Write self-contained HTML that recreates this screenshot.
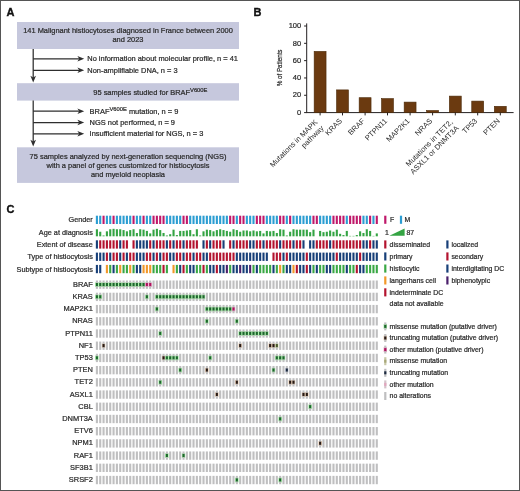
<!DOCTYPE html>
<html><head><meta charset="utf-8"><style>
html,body{margin:0;padding:0;background:#fff;}
body{width:520px;height:491px;overflow:hidden;position:relative;}
svg{position:absolute;left:0;top:0;font-family:"Liberation Sans", sans-serif;will-change:transform;}
</style></head><body>
<svg width="520" height="491" viewBox="0 0 520 491">
<rect x="0" y="0" width="520" height="491" fill="#fff"/>
<text x="6.60" y="15.80" font-size="11" text-anchor="start" font-weight="bold" fill="#111" stroke="#111" stroke-width="0.35" >A</text>
<text x="253.60" y="15.80" font-size="11" text-anchor="start" font-weight="bold" fill="#111" stroke="#111" stroke-width="0.35" >B</text>
<text x="6.60" y="212.90" font-size="11" text-anchor="start" font-weight="bold" fill="#111" stroke="#111" stroke-width="0.35" >C</text>
<rect x="17.00" y="22.00" width="222.00" height="27.00" fill="#c6c8dd" />
<text x="128.00" y="32.70" font-size="7.45" text-anchor="middle" font-weight="normal" fill="#2b2b2b" stroke="#2b2b2b" stroke-width="0.22" >141 Malignant histiocytoses diagnosed in France between 2000</text>
<text x="128.00" y="42.10" font-size="7.45" text-anchor="middle" font-weight="normal" fill="#2b2b2b" stroke="#2b2b2b" stroke-width="0.22" >and 2023</text>
<rect x="17.00" y="83.20" width="222.00" height="17.40" fill="#c6c8dd" />
<text x="93.30" y="95.20" font-size="7.45" text-anchor="start" font-weight="normal" fill="#2b2b2b" stroke="#2b2b2b" stroke-width="0.22" >95 samples studied for BRAF<tspan font-size="5.8" dy="-3.0">V600E</tspan></text>
<rect x="17.00" y="147.30" width="222.00" height="35.60" fill="#c6c8dd" />
<text x="128.00" y="158.80" font-size="7.45" text-anchor="middle" font-weight="normal" fill="#2b2b2b" stroke="#2b2b2b" stroke-width="0.22" >75 samples analyzed by next-generation sequencing (NGS)</text>
<text x="128.00" y="167.80" font-size="7.45" text-anchor="middle" font-weight="normal" fill="#2b2b2b" stroke="#2b2b2b" stroke-width="0.22" >with a panel of genes customized for histiocytosis</text>
<text x="128.00" y="176.90" font-size="7.45" text-anchor="middle" font-weight="normal" fill="#2b2b2b" stroke="#2b2b2b" stroke-width="0.22" >and myeloid neoplasia</text>
<line x1="33.2" y1="49" x2="33.2" y2="79.6" stroke="#2e2e2e" stroke-width="1.25"/>
<path d="M33.2,82.6 L30.400000000000002,75.8 L33.2,77.6 L36.0,75.8 Z" fill="#2e2e2e"/>
<line x1="33.2" y1="58.75" x2="81.2" y2="58.75" stroke="#2e2e2e" stroke-width="1.25"/>
<path d="M84.2,58.75 L77.4,55.95 L79.2,58.75 L77.4,61.55 Z" fill="#2e2e2e"/>
<line x1="33.2" y1="70.3" x2="81.2" y2="70.3" stroke="#2e2e2e" stroke-width="1.25"/>
<path d="M84.2,70.3 L77.4,67.5 L79.2,70.3 L77.4,73.1 Z" fill="#2e2e2e"/>
<text x="87.30" y="61.30" font-size="7.45" text-anchor="start" font-weight="normal" fill="#2b2b2b" stroke="#2b2b2b" stroke-width="0.22" >No information about molecular profile, n = 41</text>
<text x="87.30" y="72.70" font-size="7.45" text-anchor="start" font-weight="normal" fill="#2b2b2b" stroke="#2b2b2b" stroke-width="0.22" >Non-amplifiable DNA, n = 3</text>
<line x1="33.2" y1="100.6" x2="33.2" y2="143.6" stroke="#2e2e2e" stroke-width="1.25"/>
<path d="M33.2,146.6 L30.400000000000002,139.79999999999998 L33.2,141.6 L36.0,139.79999999999998 Z" fill="#2e2e2e"/>
<line x1="33.2" y1="111.2" x2="81.2" y2="111.2" stroke="#2e2e2e" stroke-width="1.25"/>
<path d="M84.2,111.2 L77.4,108.4 L79.2,111.2 L77.4,114.0 Z" fill="#2e2e2e"/>
<line x1="33.2" y1="122.5" x2="81.2" y2="122.5" stroke="#2e2e2e" stroke-width="1.25"/>
<path d="M84.2,122.5 L77.4,119.7 L79.2,122.5 L77.4,125.3 Z" fill="#2e2e2e"/>
<line x1="33.2" y1="133.8" x2="81.2" y2="133.8" stroke="#2e2e2e" stroke-width="1.25"/>
<path d="M84.2,133.8 L77.4,131.0 L79.2,133.8 L77.4,136.60000000000002 Z" fill="#2e2e2e"/>
<text x="89.60" y="113.80" font-size="7.45" text-anchor="start" font-weight="normal" fill="#2b2b2b" stroke="#2b2b2b" stroke-width="0.22" >BRAF<tspan font-size="5.8" dy="-3.0">V600E</tspan><tspan dy="3.0"> mutation, n = 9</tspan></text>
<text x="89.60" y="125.00" font-size="7.45" text-anchor="start" font-weight="normal" fill="#2b2b2b" stroke="#2b2b2b" stroke-width="0.22" >NGS not performed, n = 9</text>
<text x="89.60" y="136.20" font-size="7.45" text-anchor="start" font-weight="normal" fill="#2b2b2b" stroke="#2b2b2b" stroke-width="0.22" >Insufficient material for NGS, n = 3</text>
<line x1="306.7" y1="23.4" x2="306.7" y2="112.6" stroke="#231f20" stroke-width="1"/>
<line x1="306.2" y1="112.6" x2="513.6" y2="112.6" stroke="#231f20" stroke-width="1"/>
<line x1="304.09999999999997" y1="112.60" x2="306.7" y2="112.60" stroke="#231f20" stroke-width="1"/>
<text x="301.20" y="114.80" font-size="7.5" text-anchor="end" font-weight="normal" fill="#2b2b2b" stroke="#2b2b2b" stroke-width="0.22" >0</text>
<line x1="304.09999999999997" y1="95.28" x2="306.7" y2="95.28" stroke="#231f20" stroke-width="1"/>
<text x="301.20" y="97.48" font-size="7.5" text-anchor="end" font-weight="normal" fill="#2b2b2b" stroke="#2b2b2b" stroke-width="0.22" >20</text>
<line x1="304.09999999999997" y1="77.96" x2="306.7" y2="77.96" stroke="#231f20" stroke-width="1"/>
<text x="301.20" y="80.16" font-size="7.5" text-anchor="end" font-weight="normal" fill="#2b2b2b" stroke="#2b2b2b" stroke-width="0.22" >40</text>
<line x1="304.09999999999997" y1="60.64" x2="306.7" y2="60.64" stroke="#231f20" stroke-width="1"/>
<text x="301.20" y="62.84" font-size="7.5" text-anchor="end" font-weight="normal" fill="#2b2b2b" stroke="#2b2b2b" stroke-width="0.22" >60</text>
<line x1="304.09999999999997" y1="43.32" x2="306.7" y2="43.32" stroke="#231f20" stroke-width="1"/>
<text x="301.20" y="45.52" font-size="7.5" text-anchor="end" font-weight="normal" fill="#2b2b2b" stroke="#2b2b2b" stroke-width="0.22" >80</text>
<line x1="304.09999999999997" y1="26.00" x2="306.7" y2="26.00" stroke="#231f20" stroke-width="1"/>
<text x="301.20" y="28.20" font-size="7.5" text-anchor="end" font-weight="normal" fill="#2b2b2b" stroke="#2b2b2b" stroke-width="0.22" >100</text>
<text x="282.40" y="67.90" font-size="7.3" text-anchor="middle" font-weight="normal" fill="#2b2b2b" stroke="#2b2b2b" stroke-width="0.22" textLength="36.8" lengthAdjust="spacingAndGlyphs" transform="rotate(-90 282.4 67.9)">% of Patients</text>
<rect x="314.15" y="51.40" width="11.90" height="61.20" fill="#6b3a10" stroke="#4a2808" stroke-width="0.6"/>
<line x1="320.10" y1="112.6" x2="320.10" y2="115.39999999999999" stroke="#231f20" stroke-width="1"/>
<rect x="336.55" y="89.90" width="11.90" height="22.70" fill="#6b3a10" stroke="#4a2808" stroke-width="0.6"/>
<line x1="342.50" y1="112.6" x2="342.50" y2="115.39999999999999" stroke="#231f20" stroke-width="1"/>
<rect x="359.15" y="97.70" width="11.90" height="14.90" fill="#6b3a10" stroke="#4a2808" stroke-width="0.6"/>
<line x1="365.10" y1="112.6" x2="365.10" y2="115.39999999999999" stroke="#231f20" stroke-width="1"/>
<rect x="381.55" y="98.60" width="11.90" height="14.00" fill="#6b3a10" stroke="#4a2808" stroke-width="0.6"/>
<line x1="387.50" y1="112.6" x2="387.50" y2="115.39999999999999" stroke="#231f20" stroke-width="1"/>
<rect x="404.15" y="102.10" width="11.90" height="10.50" fill="#6b3a10" stroke="#4a2808" stroke-width="0.6"/>
<line x1="410.10" y1="112.6" x2="410.10" y2="115.39999999999999" stroke="#231f20" stroke-width="1"/>
<rect x="426.65" y="110.50" width="11.90" height="2.10" fill="#6b3a10" stroke="#4a2808" stroke-width="0.6"/>
<line x1="432.60" y1="112.6" x2="432.60" y2="115.39999999999999" stroke="#231f20" stroke-width="1"/>
<rect x="449.35" y="96.10" width="11.90" height="16.50" fill="#6b3a10" stroke="#4a2808" stroke-width="0.6"/>
<line x1="455.30" y1="112.6" x2="455.30" y2="115.39999999999999" stroke="#231f20" stroke-width="1"/>
<rect x="471.75" y="101.10" width="11.90" height="11.50" fill="#6b3a10" stroke="#4a2808" stroke-width="0.6"/>
<line x1="477.70" y1="112.6" x2="477.70" y2="115.39999999999999" stroke="#231f20" stroke-width="1"/>
<rect x="494.35" y="106.30" width="11.90" height="6.30" fill="#6b3a10" stroke="#4a2808" stroke-width="0.6"/>
<line x1="500.30" y1="112.6" x2="500.30" y2="115.39999999999999" stroke="#231f20" stroke-width="1"/>
<text x="319.20" y="122.10" font-size="7.5" text-anchor="end" fill="#2b2b2b" transform="rotate(-45 319.20 123.80)">Mutations in MAPK</text>
<text x="319.20" y="130.70" font-size="7.5" text-anchor="end" fill="#2b2b2b" transform="rotate(-45 319.20 123.80)">pathway</text>
<text x="340.80" y="122.20" font-size="7.5" text-anchor="end" fill="#2b2b2b" transform="rotate(-45 340.80 119.60)">KRAS</text>
<text x="363.40" y="122.20" font-size="7.5" text-anchor="end" fill="#2b2b2b" transform="rotate(-45 363.40 119.60)">BRAF</text>
<text x="385.80" y="122.20" font-size="7.5" text-anchor="end" fill="#2b2b2b" transform="rotate(-45 385.80 119.60)">PTPN11</text>
<text x="408.40" y="122.20" font-size="7.5" text-anchor="end" fill="#2b2b2b" transform="rotate(-45 408.40 119.60)">MAP2K1</text>
<text x="430.90" y="122.20" font-size="7.5" text-anchor="end" fill="#2b2b2b" transform="rotate(-45 430.90 119.60)">NRAS</text>
<text x="454.40" y="122.10" font-size="7.5" text-anchor="end" fill="#2b2b2b" transform="rotate(-45 454.40 123.80)">Mutations in TET2,</text>
<text x="454.40" y="130.70" font-size="7.5" text-anchor="end" fill="#2b2b2b" transform="rotate(-45 454.40 123.80)">ASXL1 or DNMT3A</text>
<text x="476.00" y="122.20" font-size="7.5" text-anchor="end" fill="#2b2b2b" transform="rotate(-45 476.00 119.60)">TP53</text>
<text x="498.60" y="122.20" font-size="7.5" text-anchor="end" fill="#2b2b2b" transform="rotate(-45 498.60 119.60)">PTEN</text>
<rect x="95.85" y="215.70" width="2.10" height="8.30" fill="#2b9dd2" />
<rect x="95.85" y="229.25" width="2.10" height="7.06" fill="#34a443" />
<rect x="95.85" y="240.30" width="2.10" height="8.30" fill="#173f78" />
<rect x="95.85" y="252.60" width="2.10" height="8.30" fill="#173f78" />
<rect x="95.85" y="264.90" width="2.10" height="8.30" fill="#173f78" />
<rect x="99.18" y="215.70" width="2.10" height="8.30" fill="#2b9dd2" />
<rect x="99.18" y="231.74" width="2.10" height="4.57" fill="#34a443" />
<rect x="99.18" y="240.30" width="2.10" height="8.30" fill="#b3132f" />
<rect x="99.18" y="252.60" width="2.10" height="8.30" fill="#173f78" />
<rect x="99.18" y="264.90" width="2.10" height="8.30" fill="#173f78" />
<rect x="102.51" y="215.70" width="2.10" height="8.30" fill="#bf186a" />
<rect x="102.51" y="235.47" width="2.10" height="0.83" fill="#34a443" />
<rect x="102.51" y="240.30" width="2.10" height="8.30" fill="#b3132f" />
<rect x="102.51" y="252.60" width="2.10" height="8.30" fill="#173f78" />
<rect x="105.85" y="215.70" width="2.10" height="8.30" fill="#2b9dd2" />
<rect x="105.85" y="231.32" width="2.10" height="4.98" fill="#34a443" />
<rect x="105.85" y="240.30" width="2.10" height="8.30" fill="#b3132f" />
<rect x="105.85" y="252.60" width="2.10" height="8.30" fill="#b3132f" />
<rect x="105.85" y="264.90" width="2.10" height="8.30" fill="#f2982a" />
<rect x="109.18" y="215.70" width="2.10" height="8.30" fill="#2b9dd2" />
<rect x="109.18" y="229.25" width="2.10" height="7.06" fill="#34a443" />
<rect x="109.18" y="240.30" width="2.10" height="8.30" fill="#b3132f" />
<rect x="109.18" y="252.60" width="2.10" height="8.30" fill="#173f78" />
<rect x="109.18" y="264.90" width="2.10" height="8.30" fill="#3aa845" />
<rect x="112.51" y="215.70" width="2.10" height="8.30" fill="#bf186a" />
<rect x="112.51" y="228.83" width="2.10" height="7.47" fill="#34a443" />
<rect x="112.51" y="240.30" width="2.10" height="8.30" fill="#b3132f" />
<rect x="112.51" y="252.60" width="2.10" height="8.30" fill="#b3132f" />
<rect x="112.51" y="264.90" width="2.10" height="8.30" fill="#173f78" />
<rect x="115.84" y="215.70" width="2.10" height="8.30" fill="#2b9dd2" />
<rect x="115.84" y="229.25" width="2.10" height="7.06" fill="#34a443" />
<rect x="115.84" y="240.30" width="2.10" height="8.30" fill="#b3132f" />
<rect x="115.84" y="252.60" width="2.10" height="8.30" fill="#b3132f" />
<rect x="115.84" y="264.90" width="2.10" height="8.30" fill="#3aa845" />
<rect x="119.17" y="215.70" width="2.10" height="8.30" fill="#2b9dd2" />
<rect x="119.17" y="229.25" width="2.10" height="7.06" fill="#34a443" />
<rect x="119.17" y="240.30" width="2.10" height="8.30" fill="#173f78" />
<rect x="119.17" y="252.60" width="2.10" height="8.30" fill="#173f78" />
<rect x="119.17" y="264.90" width="2.10" height="8.30" fill="#f2982a" />
<rect x="122.51" y="215.70" width="2.10" height="8.30" fill="#2b9dd2" />
<rect x="122.51" y="230.08" width="2.10" height="6.23" fill="#34a443" />
<rect x="122.51" y="240.30" width="2.10" height="8.30" fill="#b3132f" />
<rect x="122.51" y="252.60" width="2.10" height="8.30" fill="#b3132f" />
<rect x="122.51" y="264.90" width="2.10" height="8.30" fill="#3aa845" />
<rect x="125.84" y="215.70" width="2.10" height="8.30" fill="#2b9dd2" />
<rect x="125.84" y="231.32" width="2.10" height="4.98" fill="#34a443" />
<rect x="125.84" y="240.30" width="2.10" height="8.30" fill="#b3132f" />
<rect x="125.84" y="252.60" width="2.10" height="8.30" fill="#173f78" />
<rect x="125.84" y="264.90" width="2.10" height="8.30" fill="#3aa845" />
<rect x="129.17" y="215.70" width="2.10" height="8.30" fill="#2b9dd2" />
<rect x="129.17" y="230.08" width="2.10" height="6.23" fill="#34a443" />
<rect x="129.17" y="252.60" width="2.10" height="8.30" fill="#b3132f" />
<rect x="129.17" y="264.90" width="2.10" height="8.30" fill="#f2982a" />
<rect x="132.50" y="215.70" width="2.10" height="8.30" fill="#bf186a" />
<rect x="132.50" y="229.25" width="2.10" height="7.06" fill="#34a443" />
<rect x="132.50" y="240.30" width="2.10" height="8.30" fill="#b3132f" />
<rect x="132.50" y="252.60" width="2.10" height="8.30" fill="#b3132f" />
<rect x="132.50" y="264.90" width="2.10" height="8.30" fill="#3aa845" />
<rect x="135.83" y="215.70" width="2.10" height="8.30" fill="#2b9dd2" />
<rect x="135.83" y="232.98" width="2.10" height="3.32" fill="#34a443" />
<rect x="135.83" y="240.30" width="2.10" height="8.30" fill="#173f78" />
<rect x="135.83" y="252.60" width="2.10" height="8.30" fill="#173f78" />
<rect x="135.83" y="264.90" width="2.10" height="8.30" fill="#173f78" />
<rect x="139.17" y="215.70" width="2.10" height="8.30" fill="#2b9dd2" />
<rect x="139.17" y="229.25" width="2.10" height="7.06" fill="#34a443" />
<rect x="139.17" y="240.30" width="2.10" height="8.30" fill="#173f78" />
<rect x="139.17" y="252.60" width="2.10" height="8.30" fill="#173f78" />
<rect x="139.17" y="264.90" width="2.10" height="8.30" fill="#173f78" />
<rect x="142.50" y="215.70" width="2.10" height="8.30" fill="#bf186a" />
<rect x="142.50" y="229.66" width="2.10" height="6.64" fill="#34a443" />
<rect x="142.50" y="240.30" width="2.10" height="8.30" fill="#173f78" />
<rect x="142.50" y="252.60" width="2.10" height="8.30" fill="#173f78" />
<rect x="142.50" y="264.90" width="2.10" height="8.30" fill="#f2982a" />
<rect x="145.83" y="215.70" width="2.10" height="8.30" fill="#2b9dd2" />
<rect x="145.83" y="230.91" width="2.10" height="5.40" fill="#34a443" />
<rect x="145.83" y="240.30" width="2.10" height="8.30" fill="#173f78" />
<rect x="145.83" y="252.60" width="2.10" height="8.30" fill="#b3132f" />
<rect x="145.83" y="264.90" width="2.10" height="8.30" fill="#f2982a" />
<rect x="149.16" y="215.70" width="2.10" height="8.30" fill="#2b9dd2" />
<rect x="149.16" y="233.40" width="2.10" height="2.91" fill="#34a443" />
<rect x="149.16" y="240.30" width="2.10" height="8.30" fill="#b3132f" />
<rect x="149.16" y="252.60" width="2.10" height="8.30" fill="#b3132f" />
<rect x="149.16" y="264.90" width="2.10" height="8.30" fill="#f2982a" />
<rect x="152.49" y="215.70" width="2.10" height="8.30" fill="#bf186a" />
<rect x="152.49" y="229.66" width="2.10" height="6.64" fill="#34a443" />
<rect x="152.49" y="240.30" width="2.10" height="8.30" fill="#173f78" />
<rect x="152.49" y="252.60" width="2.10" height="8.30" fill="#173f78" />
<rect x="152.49" y="264.90" width="2.10" height="8.30" fill="#3aa845" />
<rect x="155.83" y="215.70" width="2.10" height="8.30" fill="#bf186a" />
<rect x="155.83" y="228.83" width="2.10" height="7.47" fill="#34a443" />
<rect x="155.83" y="240.30" width="2.10" height="8.30" fill="#b3132f" />
<rect x="155.83" y="252.60" width="2.10" height="8.30" fill="#b3132f" />
<rect x="155.83" y="264.90" width="2.10" height="8.30" fill="#3aa845" />
<rect x="159.16" y="215.70" width="2.10" height="8.30" fill="#bf186a" />
<rect x="159.16" y="230.08" width="2.10" height="6.23" fill="#34a443" />
<rect x="159.16" y="240.30" width="2.10" height="8.30" fill="#b3132f" />
<rect x="159.16" y="252.60" width="2.10" height="8.30" fill="#173f78" />
<rect x="159.16" y="264.90" width="2.10" height="8.30" fill="#3aa845" />
<rect x="162.49" y="215.70" width="2.10" height="8.30" fill="#bf186a" />
<rect x="162.49" y="232.98" width="2.10" height="3.32" fill="#34a443" />
<rect x="162.49" y="240.30" width="2.10" height="8.30" fill="#b3132f" />
<rect x="162.49" y="252.60" width="2.10" height="8.30" fill="#b3132f" />
<rect x="162.49" y="264.90" width="2.10" height="8.30" fill="#b3132f" />
<rect x="165.82" y="215.70" width="2.10" height="8.30" fill="#2b9dd2" />
<rect x="165.82" y="235.47" width="2.10" height="0.83" fill="#34a443" />
<rect x="165.82" y="240.30" width="2.10" height="8.30" fill="#173f78" />
<rect x="165.82" y="252.60" width="2.10" height="8.30" fill="#b3132f" />
<rect x="165.82" y="264.90" width="2.10" height="8.30" fill="#3aa845" />
<rect x="169.15" y="215.70" width="2.10" height="8.30" fill="#2b9dd2" />
<rect x="169.15" y="234.23" width="2.10" height="2.08" fill="#34a443" />
<rect x="169.15" y="240.30" width="2.10" height="8.30" fill="#b3132f" />
<rect x="169.15" y="252.60" width="2.10" height="8.30" fill="#173f78" />
<rect x="172.49" y="215.70" width="2.10" height="8.30" fill="#2b9dd2" />
<rect x="172.49" y="229.66" width="2.10" height="6.64" fill="#34a443" />
<rect x="172.49" y="240.30" width="2.10" height="8.30" fill="#173f78" />
<rect x="172.49" y="252.60" width="2.10" height="8.30" fill="#173f78" />
<rect x="172.49" y="264.90" width="2.10" height="8.30" fill="#f2982a" />
<rect x="175.82" y="215.70" width="2.10" height="8.30" fill="#2b9dd2" />
<rect x="175.82" y="235.06" width="2.10" height="1.25" fill="#34a443" />
<rect x="175.82" y="240.30" width="2.10" height="8.30" fill="#b3132f" />
<rect x="175.82" y="252.60" width="2.10" height="8.30" fill="#b3132f" />
<rect x="175.82" y="264.90" width="2.10" height="8.30" fill="#3aa845" />
<rect x="179.15" y="215.70" width="2.10" height="8.30" fill="#2b9dd2" />
<rect x="179.15" y="230.91" width="2.10" height="5.40" fill="#34a443" />
<rect x="179.15" y="240.30" width="2.10" height="8.30" fill="#b3132f" />
<rect x="179.15" y="252.60" width="2.10" height="8.30" fill="#b3132f" />
<rect x="179.15" y="264.90" width="2.10" height="8.30" fill="#173f78" />
<rect x="182.48" y="215.70" width="2.10" height="8.30" fill="#bf186a" />
<rect x="182.48" y="230.91" width="2.10" height="5.40" fill="#34a443" />
<rect x="182.48" y="240.30" width="2.10" height="8.30" fill="#173f78" />
<rect x="182.48" y="252.60" width="2.10" height="8.30" fill="#173f78" />
<rect x="182.48" y="264.90" width="2.10" height="8.30" fill="#b3132f" />
<rect x="185.81" y="215.70" width="2.10" height="8.30" fill="#bf186a" />
<rect x="185.81" y="230.49" width="2.10" height="5.81" fill="#34a443" />
<rect x="185.81" y="240.30" width="2.10" height="8.30" fill="#b3132f" />
<rect x="185.81" y="252.60" width="2.10" height="8.30" fill="#b3132f" />
<rect x="185.81" y="264.90" width="2.10" height="8.30" fill="#3aa845" />
<rect x="189.15" y="215.70" width="2.10" height="8.30" fill="#2b9dd2" />
<rect x="189.15" y="230.08" width="2.10" height="6.23" fill="#34a443" />
<rect x="189.15" y="240.30" width="2.10" height="8.30" fill="#b3132f" />
<rect x="189.15" y="252.60" width="2.10" height="8.30" fill="#b3132f" />
<rect x="189.15" y="264.90" width="2.10" height="8.30" fill="#173f78" />
<rect x="192.48" y="215.70" width="2.10" height="8.30" fill="#2b9dd2" />
<rect x="192.48" y="234.23" width="2.10" height="2.08" fill="#34a443" />
<rect x="192.48" y="240.30" width="2.10" height="8.30" fill="#b3132f" />
<rect x="192.48" y="252.60" width="2.10" height="8.30" fill="#173f78" />
<rect x="192.48" y="264.90" width="2.10" height="8.30" fill="#173f78" />
<rect x="195.81" y="215.70" width="2.10" height="8.30" fill="#2b9dd2" />
<rect x="195.81" y="229.25" width="2.10" height="7.06" fill="#34a443" />
<rect x="195.81" y="240.30" width="2.10" height="8.30" fill="#b3132f" />
<rect x="195.81" y="252.60" width="2.10" height="8.30" fill="#b3132f" />
<rect x="195.81" y="264.90" width="2.10" height="8.30" fill="#3aa845" />
<rect x="199.14" y="215.70" width="2.10" height="8.30" fill="#2b9dd2" />
<rect x="199.14" y="235.47" width="2.10" height="0.83" fill="#34a443" />
<rect x="199.14" y="252.60" width="2.10" height="8.30" fill="#b3132f" />
<rect x="199.14" y="264.90" width="2.10" height="8.30" fill="#3aa845" />
<rect x="202.47" y="215.70" width="2.10" height="8.30" fill="#2b9dd2" />
<rect x="202.47" y="231.32" width="2.10" height="4.98" fill="#34a443" />
<rect x="202.47" y="240.30" width="2.10" height="8.30" fill="#173f78" />
<rect x="202.47" y="252.60" width="2.10" height="8.30" fill="#173f78" />
<rect x="202.47" y="264.90" width="2.10" height="8.30" fill="#b3132f" />
<rect x="205.81" y="215.70" width="2.10" height="8.30" fill="#2b9dd2" />
<rect x="205.81" y="229.66" width="2.10" height="6.64" fill="#34a443" />
<rect x="205.81" y="240.30" width="2.10" height="8.30" fill="#b3132f" />
<rect x="205.81" y="252.60" width="2.10" height="8.30" fill="#173f78" />
<rect x="205.81" y="264.90" width="2.10" height="8.30" fill="#3aa845" />
<rect x="209.14" y="215.70" width="2.10" height="8.30" fill="#2b9dd2" />
<rect x="209.14" y="230.08" width="2.10" height="6.23" fill="#34a443" />
<rect x="209.14" y="240.30" width="2.10" height="8.30" fill="#173f78" />
<rect x="209.14" y="252.60" width="2.10" height="8.30" fill="#b3132f" />
<rect x="209.14" y="264.90" width="2.10" height="8.30" fill="#173f78" />
<rect x="212.47" y="215.70" width="2.10" height="8.30" fill="#2b9dd2" />
<rect x="212.47" y="231.32" width="2.10" height="4.98" fill="#34a443" />
<rect x="212.47" y="240.30" width="2.10" height="8.30" fill="#b3132f" />
<rect x="212.47" y="252.60" width="2.10" height="8.30" fill="#b3132f" />
<rect x="212.47" y="264.90" width="2.10" height="8.30" fill="#173f78" />
<rect x="215.80" y="215.70" width="2.10" height="8.30" fill="#2b9dd2" />
<rect x="215.80" y="230.08" width="2.10" height="6.23" fill="#34a443" />
<rect x="215.80" y="240.30" width="2.10" height="8.30" fill="#b3132f" />
<rect x="215.80" y="252.60" width="2.10" height="8.30" fill="#b3132f" />
<rect x="215.80" y="264.90" width="2.10" height="8.30" fill="#b3132f" />
<rect x="219.13" y="215.70" width="2.10" height="8.30" fill="#2b9dd2" />
<rect x="219.13" y="229.25" width="2.10" height="7.06" fill="#34a443" />
<rect x="219.13" y="240.30" width="2.10" height="8.30" fill="#b3132f" />
<rect x="219.13" y="252.60" width="2.10" height="8.30" fill="#b3132f" />
<rect x="219.13" y="264.90" width="2.10" height="8.30" fill="#173f78" />
<rect x="222.47" y="215.70" width="2.10" height="8.30" fill="#2b9dd2" />
<rect x="222.47" y="230.08" width="2.10" height="6.23" fill="#34a443" />
<rect x="222.47" y="240.30" width="2.10" height="8.30" fill="#173f78" />
<rect x="222.47" y="252.60" width="2.10" height="8.30" fill="#b3132f" />
<rect x="222.47" y="264.90" width="2.10" height="8.30" fill="#173f78" />
<rect x="225.80" y="215.70" width="2.10" height="8.30" fill="#2b9dd2" />
<rect x="225.80" y="230.91" width="2.10" height="5.40" fill="#34a443" />
<rect x="225.80" y="252.60" width="2.10" height="8.30" fill="#b3132f" />
<rect x="225.80" y="264.90" width="2.10" height="8.30" fill="#4a1f6b" />
<rect x="229.13" y="215.70" width="2.10" height="8.30" fill="#bf186a" />
<rect x="229.13" y="231.74" width="2.10" height="4.57" fill="#34a443" />
<rect x="229.13" y="240.30" width="2.10" height="8.30" fill="#b3132f" />
<rect x="229.13" y="252.60" width="2.10" height="8.30" fill="#b3132f" />
<rect x="229.13" y="264.90" width="2.10" height="8.30" fill="#3aa845" />
<rect x="232.46" y="215.70" width="2.10" height="8.30" fill="#bf186a" />
<rect x="232.46" y="229.25" width="2.10" height="7.06" fill="#34a443" />
<rect x="232.46" y="240.30" width="2.10" height="8.30" fill="#173f78" />
<rect x="232.46" y="252.60" width="2.10" height="8.30" fill="#b3132f" />
<rect x="232.46" y="264.90" width="2.10" height="8.30" fill="#173f78" />
<rect x="235.79" y="215.70" width="2.10" height="8.30" fill="#2b9dd2" />
<rect x="235.79" y="230.08" width="2.10" height="6.23" fill="#34a443" />
<rect x="235.79" y="240.30" width="2.10" height="8.30" fill="#b3132f" />
<rect x="235.79" y="252.60" width="2.10" height="8.30" fill="#173f78" />
<rect x="235.79" y="264.90" width="2.10" height="8.30" fill="#173f78" />
<rect x="239.13" y="215.70" width="2.10" height="8.30" fill="#bf186a" />
<rect x="239.13" y="231.74" width="2.10" height="4.57" fill="#34a443" />
<rect x="239.13" y="240.30" width="2.10" height="8.30" fill="#b3132f" />
<rect x="239.13" y="252.60" width="2.10" height="8.30" fill="#173f78" />
<rect x="239.13" y="264.90" width="2.10" height="8.30" fill="#4a1f6b" />
<rect x="242.46" y="215.70" width="2.10" height="8.30" fill="#bf186a" />
<rect x="242.46" y="230.49" width="2.10" height="5.81" fill="#34a443" />
<rect x="242.46" y="240.30" width="2.10" height="8.30" fill="#b3132f" />
<rect x="242.46" y="252.60" width="2.10" height="8.30" fill="#173f78" />
<rect x="242.46" y="264.90" width="2.10" height="8.30" fill="#173f78" />
<rect x="245.79" y="215.70" width="2.10" height="8.30" fill="#2b9dd2" />
<rect x="245.79" y="230.49" width="2.10" height="5.81" fill="#34a443" />
<rect x="245.79" y="240.30" width="2.10" height="8.30" fill="#b3132f" />
<rect x="245.79" y="252.60" width="2.10" height="8.30" fill="#173f78" />
<rect x="245.79" y="264.90" width="2.10" height="8.30" fill="#173f78" />
<rect x="249.12" y="215.70" width="2.10" height="8.30" fill="#2b9dd2" />
<rect x="249.12" y="231.32" width="2.10" height="4.98" fill="#34a443" />
<rect x="249.12" y="240.30" width="2.10" height="8.30" fill="#173f78" />
<rect x="249.12" y="252.60" width="2.10" height="8.30" fill="#173f78" />
<rect x="249.12" y="264.90" width="2.10" height="8.30" fill="#4a1f6b" />
<rect x="252.45" y="215.70" width="2.10" height="8.30" fill="#2b9dd2" />
<rect x="252.45" y="230.49" width="2.10" height="5.81" fill="#34a443" />
<rect x="252.45" y="240.30" width="2.10" height="8.30" fill="#173f78" />
<rect x="252.45" y="252.60" width="2.10" height="8.30" fill="#173f78" />
<rect x="252.45" y="264.90" width="2.10" height="8.30" fill="#3aa845" />
<rect x="255.79" y="215.70" width="2.10" height="8.30" fill="#bf186a" />
<rect x="255.79" y="231.32" width="2.10" height="4.98" fill="#34a443" />
<rect x="255.79" y="240.30" width="2.10" height="8.30" fill="#b3132f" />
<rect x="255.79" y="252.60" width="2.10" height="8.30" fill="#173f78" />
<rect x="255.79" y="264.90" width="2.10" height="8.30" fill="#173f78" />
<rect x="259.12" y="215.70" width="2.10" height="8.30" fill="#bf186a" />
<rect x="259.12" y="230.91" width="2.10" height="5.40" fill="#34a443" />
<rect x="259.12" y="240.30" width="2.10" height="8.30" fill="#b3132f" />
<rect x="259.12" y="252.60" width="2.10" height="8.30" fill="#173f78" />
<rect x="259.12" y="264.90" width="2.10" height="8.30" fill="#3aa845" />
<rect x="262.45" y="215.70" width="2.10" height="8.30" fill="#bf186a" />
<rect x="262.45" y="233.40" width="2.10" height="2.91" fill="#34a443" />
<rect x="262.45" y="240.30" width="2.10" height="8.30" fill="#173f78" />
<rect x="262.45" y="252.60" width="2.10" height="8.30" fill="#173f78" />
<rect x="262.45" y="264.90" width="2.10" height="8.30" fill="#3aa845" />
<rect x="265.78" y="215.70" width="2.10" height="8.30" fill="#2b9dd2" />
<rect x="265.78" y="230.91" width="2.10" height="5.40" fill="#34a443" />
<rect x="265.78" y="240.30" width="2.10" height="8.30" fill="#b3132f" />
<rect x="265.78" y="252.60" width="2.10" height="8.30" fill="#173f78" />
<rect x="265.78" y="264.90" width="2.10" height="8.30" fill="#3aa845" />
<rect x="269.11" y="215.70" width="2.10" height="8.30" fill="#2b9dd2" />
<rect x="269.11" y="231.32" width="2.10" height="4.98" fill="#34a443" />
<rect x="269.11" y="240.30" width="2.10" height="8.30" fill="#b3132f" />
<rect x="269.11" y="264.90" width="2.10" height="8.30" fill="#3aa845" />
<rect x="272.45" y="215.70" width="2.10" height="8.30" fill="#2b9dd2" />
<rect x="272.45" y="230.91" width="2.10" height="5.40" fill="#34a443" />
<rect x="272.45" y="240.30" width="2.10" height="8.30" fill="#b3132f" />
<rect x="272.45" y="252.60" width="2.10" height="8.30" fill="#b3132f" />
<rect x="272.45" y="264.90" width="2.10" height="8.30" fill="#173f78" />
<rect x="275.78" y="215.70" width="2.10" height="8.30" fill="#2b9dd2" />
<rect x="275.78" y="232.98" width="2.10" height="3.32" fill="#34a443" />
<rect x="275.78" y="240.30" width="2.10" height="8.30" fill="#b3132f" />
<rect x="275.78" y="252.60" width="2.10" height="8.30" fill="#b3132f" />
<rect x="275.78" y="264.90" width="2.10" height="8.30" fill="#3aa845" />
<rect x="279.11" y="215.70" width="2.10" height="8.30" fill="#bf186a" />
<rect x="279.11" y="229.25" width="2.10" height="7.06" fill="#34a443" />
<rect x="279.11" y="240.30" width="2.10" height="8.30" fill="#173f78" />
<rect x="279.11" y="252.60" width="2.10" height="8.30" fill="#b3132f" />
<rect x="279.11" y="264.90" width="2.10" height="8.30" fill="#f2982a" />
<rect x="282.44" y="215.70" width="2.10" height="8.30" fill="#bf186a" />
<rect x="282.44" y="229.66" width="2.10" height="6.64" fill="#34a443" />
<rect x="282.44" y="240.30" width="2.10" height="8.30" fill="#b3132f" />
<rect x="282.44" y="252.60" width="2.10" height="8.30" fill="#173f78" />
<rect x="282.44" y="264.90" width="2.10" height="8.30" fill="#3aa845" />
<rect x="285.77" y="215.70" width="2.10" height="8.30" fill="#2b9dd2" />
<rect x="285.77" y="235.47" width="2.10" height="0.83" fill="#34a443" />
<rect x="285.77" y="240.30" width="2.10" height="8.30" fill="#b3132f" />
<rect x="285.77" y="252.60" width="2.10" height="8.30" fill="#b3132f" />
<rect x="285.77" y="264.90" width="2.10" height="8.30" fill="#173f78" />
<rect x="289.11" y="215.70" width="2.10" height="8.30" fill="#bf186a" />
<rect x="289.11" y="231.74" width="2.10" height="4.57" fill="#34a443" />
<rect x="289.11" y="240.30" width="2.10" height="8.30" fill="#b3132f" />
<rect x="289.11" y="252.60" width="2.10" height="8.30" fill="#173f78" />
<rect x="289.11" y="264.90" width="2.10" height="8.30" fill="#173f78" />
<rect x="292.44" y="215.70" width="2.10" height="8.30" fill="#2b9dd2" />
<rect x="292.44" y="229.25" width="2.10" height="7.06" fill="#34a443" />
<rect x="292.44" y="240.30" width="2.10" height="8.30" fill="#173f78" />
<rect x="292.44" y="252.60" width="2.10" height="8.30" fill="#173f78" />
<rect x="292.44" y="264.90" width="2.10" height="8.30" fill="#f2982a" />
<rect x="295.77" y="215.70" width="2.10" height="8.30" fill="#2b9dd2" />
<rect x="295.77" y="229.66" width="2.10" height="6.64" fill="#34a443" />
<rect x="295.77" y="240.30" width="2.10" height="8.30" fill="#b3132f" />
<rect x="295.77" y="252.60" width="2.10" height="8.30" fill="#173f78" />
<rect x="295.77" y="264.90" width="2.10" height="8.30" fill="#b3132f" />
<rect x="299.10" y="215.70" width="2.10" height="8.30" fill="#2b9dd2" />
<rect x="299.10" y="229.66" width="2.10" height="6.64" fill="#34a443" />
<rect x="299.10" y="240.30" width="2.10" height="8.30" fill="#b3132f" />
<rect x="299.10" y="252.60" width="2.10" height="8.30" fill="#173f78" />
<rect x="299.10" y="264.90" width="2.10" height="8.30" fill="#173f78" />
<rect x="302.43" y="215.70" width="2.10" height="8.30" fill="#2b9dd2" />
<rect x="302.43" y="229.66" width="2.10" height="6.64" fill="#34a443" />
<rect x="302.43" y="240.30" width="2.10" height="8.30" fill="#173f78" />
<rect x="302.43" y="252.60" width="2.10" height="8.30" fill="#173f78" />
<rect x="302.43" y="264.90" width="2.10" height="8.30" fill="#173f78" />
<rect x="305.77" y="215.70" width="2.10" height="8.30" fill="#2b9dd2" />
<rect x="305.77" y="229.66" width="2.10" height="6.64" fill="#34a443" />
<rect x="305.77" y="252.60" width="2.10" height="8.30" fill="#b3132f" />
<rect x="305.77" y="264.90" width="2.10" height="8.30" fill="#b3132f" />
<rect x="309.10" y="215.70" width="2.10" height="8.30" fill="#2b9dd2" />
<rect x="309.10" y="232.15" width="2.10" height="4.15" fill="#34a443" />
<rect x="309.10" y="240.30" width="2.10" height="8.30" fill="#173f78" />
<rect x="309.10" y="252.60" width="2.10" height="8.30" fill="#173f78" />
<rect x="309.10" y="264.90" width="2.10" height="8.30" fill="#173f78" />
<rect x="312.43" y="215.70" width="2.10" height="8.30" fill="#bf186a" />
<rect x="312.43" y="229.66" width="2.10" height="6.64" fill="#34a443" />
<rect x="312.43" y="240.30" width="2.10" height="8.30" fill="#173f78" />
<rect x="312.43" y="252.60" width="2.10" height="8.30" fill="#173f78" />
<rect x="312.43" y="264.90" width="2.10" height="8.30" fill="#3aa845" />
<rect x="315.76" y="215.70" width="2.10" height="8.30" fill="#bf186a" />
<rect x="315.76" y="240.30" width="2.10" height="8.30" fill="#b3132f" />
<rect x="315.76" y="252.60" width="2.10" height="8.30" fill="#173f78" />
<rect x="315.76" y="264.90" width="2.10" height="8.30" fill="#173f78" />
<rect x="319.09" y="215.70" width="2.10" height="8.30" fill="#2b9dd2" />
<rect x="319.09" y="230.91" width="2.10" height="5.40" fill="#34a443" />
<rect x="319.09" y="240.30" width="2.10" height="8.30" fill="#b3132f" />
<rect x="319.09" y="252.60" width="2.10" height="8.30" fill="#173f78" />
<rect x="319.09" y="264.90" width="2.10" height="8.30" fill="#3aa845" />
<rect x="322.43" y="215.70" width="2.10" height="8.30" fill="#2b9dd2" />
<rect x="322.43" y="232.15" width="2.10" height="4.15" fill="#34a443" />
<rect x="322.43" y="240.30" width="2.10" height="8.30" fill="#b3132f" />
<rect x="322.43" y="252.60" width="2.10" height="8.30" fill="#173f78" />
<rect x="322.43" y="264.90" width="2.10" height="8.30" fill="#3aa845" />
<rect x="325.76" y="215.70" width="2.10" height="8.30" fill="#2b9dd2" />
<rect x="325.76" y="231.74" width="2.10" height="4.57" fill="#34a443" />
<rect x="325.76" y="240.30" width="2.10" height="8.30" fill="#b3132f" />
<rect x="325.76" y="252.60" width="2.10" height="8.30" fill="#173f78" />
<rect x="325.76" y="264.90" width="2.10" height="8.30" fill="#173f78" />
<rect x="329.09" y="215.70" width="2.10" height="8.30" fill="#2b9dd2" />
<rect x="329.09" y="230.49" width="2.10" height="5.81" fill="#34a443" />
<rect x="329.09" y="240.30" width="2.10" height="8.30" fill="#173f78" />
<rect x="329.09" y="252.60" width="2.10" height="8.30" fill="#173f78" />
<rect x="329.09" y="264.90" width="2.10" height="8.30" fill="#173f78" />
<rect x="332.42" y="215.70" width="2.10" height="8.30" fill="#bf186a" />
<rect x="332.42" y="231.74" width="2.10" height="4.57" fill="#34a443" />
<rect x="332.42" y="240.30" width="2.10" height="8.30" fill="#b3132f" />
<rect x="332.42" y="252.60" width="2.10" height="8.30" fill="#173f78" />
<rect x="332.42" y="264.90" width="2.10" height="8.30" fill="#3aa845" />
<rect x="335.75" y="215.70" width="2.10" height="8.30" fill="#bf186a" />
<rect x="335.75" y="229.66" width="2.10" height="6.64" fill="#34a443" />
<rect x="335.75" y="240.30" width="2.10" height="8.30" fill="#b3132f" />
<rect x="335.75" y="252.60" width="2.10" height="8.30" fill="#b3132f" />
<rect x="335.75" y="264.90" width="2.10" height="8.30" fill="#3aa845" />
<rect x="339.09" y="215.70" width="2.10" height="8.30" fill="#bf186a" />
<rect x="339.09" y="233.81" width="2.10" height="2.49" fill="#34a443" />
<rect x="339.09" y="240.30" width="2.10" height="8.30" fill="#b3132f" />
<rect x="339.09" y="252.60" width="2.10" height="8.30" fill="#173f78" />
<rect x="339.09" y="264.90" width="2.10" height="8.30" fill="#3aa845" />
<rect x="342.42" y="215.70" width="2.10" height="8.30" fill="#bf186a" />
<rect x="342.42" y="235.06" width="2.10" height="1.25" fill="#34a443" />
<rect x="342.42" y="240.30" width="2.10" height="8.30" fill="#b3132f" />
<rect x="342.42" y="252.60" width="2.10" height="8.30" fill="#173f78" />
<rect x="342.42" y="264.90" width="2.10" height="8.30" fill="#3aa845" />
<rect x="345.75" y="215.70" width="2.10" height="8.30" fill="#2b9dd2" />
<rect x="345.75" y="230.91" width="2.10" height="5.40" fill="#34a443" />
<rect x="345.75" y="240.30" width="2.10" height="8.30" fill="#b3132f" />
<rect x="345.75" y="252.60" width="2.10" height="8.30" fill="#173f78" />
<rect x="345.75" y="264.90" width="2.10" height="8.30" fill="#173f78" />
<rect x="349.08" y="215.70" width="2.10" height="8.30" fill="#bf186a" />
<rect x="349.08" y="235.89" width="2.10" height="0.42" fill="#34a443" />
<rect x="349.08" y="240.30" width="2.10" height="8.30" fill="#b3132f" />
<rect x="349.08" y="252.60" width="2.10" height="8.30" fill="#173f78" />
<rect x="349.08" y="264.90" width="2.10" height="8.30" fill="#3aa845" />
<rect x="352.41" y="215.70" width="2.10" height="8.30" fill="#bf186a" />
<rect x="352.41" y="235.89" width="2.10" height="0.42" fill="#34a443" />
<rect x="352.41" y="240.30" width="2.10" height="8.30" fill="#b3132f" />
<rect x="352.41" y="252.60" width="2.10" height="8.30" fill="#173f78" />
<rect x="352.41" y="264.90" width="2.10" height="8.30" fill="#3aa845" />
<rect x="355.75" y="215.70" width="2.10" height="8.30" fill="#bf186a" />
<rect x="355.75" y="235.06" width="2.10" height="1.25" fill="#34a443" />
<rect x="355.75" y="240.30" width="2.10" height="8.30" fill="#b3132f" />
<rect x="355.75" y="252.60" width="2.10" height="8.30" fill="#173f78" />
<rect x="355.75" y="264.90" width="2.10" height="8.30" fill="#b3132f" />
<rect x="359.08" y="215.70" width="2.10" height="8.30" fill="#bf186a" />
<rect x="359.08" y="231.32" width="2.10" height="4.98" fill="#34a443" />
<rect x="359.08" y="240.30" width="2.10" height="8.30" fill="#b3132f" />
<rect x="359.08" y="252.60" width="2.10" height="8.30" fill="#b3132f" />
<rect x="359.08" y="264.90" width="2.10" height="8.30" fill="#173f78" />
<rect x="362.41" y="215.70" width="2.10" height="8.30" fill="#2b9dd2" />
<rect x="362.41" y="232.98" width="2.10" height="3.32" fill="#34a443" />
<rect x="362.41" y="240.30" width="2.10" height="8.30" fill="#173f78" />
<rect x="362.41" y="252.60" width="2.10" height="8.30" fill="#173f78" />
<rect x="362.41" y="264.90" width="2.10" height="8.30" fill="#173f78" />
<rect x="365.74" y="215.70" width="2.10" height="8.30" fill="#2b9dd2" />
<rect x="365.74" y="229.25" width="2.10" height="7.06" fill="#34a443" />
<rect x="365.74" y="240.30" width="2.10" height="8.30" fill="#173f78" />
<rect x="365.74" y="252.60" width="2.10" height="8.30" fill="#173f78" />
<rect x="365.74" y="264.90" width="2.10" height="8.30" fill="#3aa845" />
<rect x="369.07" y="215.70" width="2.10" height="8.30" fill="#bf186a" />
<rect x="369.07" y="230.91" width="2.10" height="5.40" fill="#34a443" />
<rect x="369.07" y="240.30" width="2.10" height="8.30" fill="#b3132f" />
<rect x="369.07" y="252.60" width="2.10" height="8.30" fill="#173f78" />
<rect x="369.07" y="264.90" width="2.10" height="8.30" fill="#3aa845" />
<rect x="372.41" y="215.70" width="2.10" height="8.30" fill="#2b9dd2" />
<rect x="372.41" y="235.89" width="2.10" height="0.42" fill="#34a443" />
<rect x="372.41" y="240.30" width="2.10" height="8.30" fill="#173f78" />
<rect x="372.41" y="252.60" width="2.10" height="8.30" fill="#173f78" />
<rect x="372.41" y="264.90" width="2.10" height="8.30" fill="#3aa845" />
<rect x="375.74" y="215.70" width="2.10" height="8.30" fill="#bf186a" />
<rect x="375.74" y="233.40" width="2.10" height="2.91" fill="#34a443" />
<rect x="375.74" y="240.30" width="2.10" height="8.30" fill="#173f78" />
<rect x="375.74" y="252.60" width="2.10" height="8.30" fill="#173f78" />
<rect x="375.74" y="264.90" width="2.10" height="8.30" fill="#3aa845" />
<text x="92.80" y="286.70" font-size="7.45" text-anchor="end" font-weight="normal" fill="#2b2b2b" stroke="#2b2b2b" stroke-width="0.22" >BRAF</text>
<rect x="95.23" y="282.30" width="3.33" height="4.75" fill="#98ee98" />
<rect x="98.57" y="282.30" width="3.33" height="4.75" fill="#98ee98" />
<rect x="101.90" y="282.30" width="3.33" height="4.75" fill="#98ee98" />
<rect x="105.23" y="282.30" width="3.33" height="4.75" fill="#98ee98" />
<rect x="108.56" y="282.30" width="3.33" height="4.75" fill="#98ee98" />
<rect x="111.89" y="282.30" width="3.33" height="4.75" fill="#98ee98" />
<rect x="115.23" y="282.30" width="3.33" height="4.75" fill="#98ee98" />
<rect x="118.56" y="282.30" width="3.33" height="4.75" fill="#98ee98" />
<rect x="121.89" y="282.30" width="3.33" height="4.75" fill="#98ee98" />
<rect x="125.22" y="282.30" width="3.33" height="4.75" fill="#98ee98" />
<rect x="128.55" y="282.30" width="3.33" height="4.75" fill="#98ee98" />
<rect x="131.89" y="282.30" width="3.33" height="4.75" fill="#98ee98" />
<rect x="135.22" y="282.30" width="3.33" height="4.75" fill="#98ee98" />
<rect x="138.55" y="282.30" width="3.33" height="4.75" fill="#98ee98" />
<rect x="141.88" y="282.30" width="3.33" height="4.75" fill="#98ee98" />
<rect x="145.21" y="282.30" width="3.33" height="4.75" fill="#f5a0c8" />
<rect x="148.55" y="282.30" width="3.33" height="4.75" fill="#f5a0c8" />
<rect x="95.85" y="280.50" width="2.10" height="8.35" fill="#bfbfc0" />
<rect x="99.18" y="280.50" width="2.10" height="8.35" fill="#bfbfc0" />
<rect x="102.51" y="280.50" width="2.10" height="8.35" fill="#bfbfc0" />
<rect x="105.85" y="280.50" width="2.10" height="8.35" fill="#bfbfc0" />
<rect x="109.18" y="280.50" width="2.10" height="8.35" fill="#bfbfc0" />
<rect x="112.51" y="280.50" width="2.10" height="8.35" fill="#bfbfc0" />
<rect x="115.84" y="280.50" width="2.10" height="8.35" fill="#bfbfc0" />
<rect x="119.17" y="280.50" width="2.10" height="8.35" fill="#bfbfc0" />
<rect x="122.51" y="280.50" width="2.10" height="8.35" fill="#bfbfc0" />
<rect x="125.84" y="280.50" width="2.10" height="8.35" fill="#bfbfc0" />
<rect x="129.17" y="280.50" width="2.10" height="8.35" fill="#bfbfc0" />
<rect x="132.50" y="280.50" width="2.10" height="8.35" fill="#bfbfc0" />
<rect x="135.83" y="280.50" width="2.10" height="8.35" fill="#bfbfc0" />
<rect x="139.17" y="280.50" width="2.10" height="8.35" fill="#bfbfc0" />
<rect x="142.50" y="280.50" width="2.10" height="8.35" fill="#bfbfc0" />
<rect x="145.83" y="280.50" width="2.10" height="8.35" fill="#bfbfc0" />
<rect x="149.16" y="280.50" width="2.10" height="8.35" fill="#bfbfc0" />
<rect x="152.49" y="280.50" width="2.10" height="8.35" fill="#bfbfc0" />
<rect x="155.83" y="280.50" width="2.10" height="8.35" fill="#bfbfc0" />
<rect x="159.16" y="280.50" width="2.10" height="8.35" fill="#bfbfc0" />
<rect x="162.49" y="280.50" width="2.10" height="8.35" fill="#bfbfc0" />
<rect x="165.82" y="280.50" width="2.10" height="8.35" fill="#bfbfc0" />
<rect x="169.15" y="280.50" width="2.10" height="8.35" fill="#bfbfc0" />
<rect x="172.49" y="280.50" width="2.10" height="8.35" fill="#bfbfc0" />
<rect x="175.82" y="280.50" width="2.10" height="8.35" fill="#bfbfc0" />
<rect x="179.15" y="280.50" width="2.10" height="8.35" fill="#bfbfc0" />
<rect x="182.48" y="280.50" width="2.10" height="8.35" fill="#bfbfc0" />
<rect x="185.81" y="280.50" width="2.10" height="8.35" fill="#bfbfc0" />
<rect x="189.15" y="280.50" width="2.10" height="8.35" fill="#bfbfc0" />
<rect x="192.48" y="280.50" width="2.10" height="8.35" fill="#bfbfc0" />
<rect x="195.81" y="280.50" width="2.10" height="8.35" fill="#bfbfc0" />
<rect x="199.14" y="280.50" width="2.10" height="8.35" fill="#bfbfc0" />
<rect x="202.47" y="280.50" width="2.10" height="8.35" fill="#bfbfc0" />
<rect x="205.81" y="280.50" width="2.10" height="8.35" fill="#bfbfc0" />
<rect x="209.14" y="280.50" width="2.10" height="8.35" fill="#bfbfc0" />
<rect x="212.47" y="280.50" width="2.10" height="8.35" fill="#bfbfc0" />
<rect x="215.80" y="280.50" width="2.10" height="8.35" fill="#bfbfc0" />
<rect x="219.13" y="280.50" width="2.10" height="8.35" fill="#bfbfc0" />
<rect x="222.47" y="280.50" width="2.10" height="8.35" fill="#bfbfc0" />
<rect x="225.80" y="280.50" width="2.10" height="8.35" fill="#bfbfc0" />
<rect x="229.13" y="280.50" width="2.10" height="8.35" fill="#bfbfc0" />
<rect x="232.46" y="280.50" width="2.10" height="8.35" fill="#bfbfc0" />
<rect x="235.79" y="280.50" width="2.10" height="8.35" fill="#bfbfc0" />
<rect x="239.13" y="280.50" width="2.10" height="8.35" fill="#bfbfc0" />
<rect x="242.46" y="280.50" width="2.10" height="8.35" fill="#bfbfc0" />
<rect x="245.79" y="280.50" width="2.10" height="8.35" fill="#bfbfc0" />
<rect x="249.12" y="280.50" width="2.10" height="8.35" fill="#bfbfc0" />
<rect x="252.45" y="280.50" width="2.10" height="8.35" fill="#bfbfc0" />
<rect x="255.79" y="280.50" width="2.10" height="8.35" fill="#bfbfc0" />
<rect x="259.12" y="280.50" width="2.10" height="8.35" fill="#bfbfc0" />
<rect x="262.45" y="280.50" width="2.10" height="8.35" fill="#bfbfc0" />
<rect x="265.78" y="280.50" width="2.10" height="8.35" fill="#bfbfc0" />
<rect x="269.11" y="280.50" width="2.10" height="8.35" fill="#bfbfc0" />
<rect x="272.45" y="280.50" width="2.10" height="8.35" fill="#bfbfc0" />
<rect x="275.78" y="280.50" width="2.10" height="8.35" fill="#bfbfc0" />
<rect x="279.11" y="280.50" width="2.10" height="8.35" fill="#bfbfc0" />
<rect x="282.44" y="280.50" width="2.10" height="8.35" fill="#bfbfc0" />
<rect x="285.77" y="280.50" width="2.10" height="8.35" fill="#bfbfc0" />
<rect x="289.11" y="280.50" width="2.10" height="8.35" fill="#bfbfc0" />
<rect x="292.44" y="280.50" width="2.10" height="8.35" fill="#bfbfc0" />
<rect x="295.77" y="280.50" width="2.10" height="8.35" fill="#bfbfc0" />
<rect x="299.10" y="280.50" width="2.10" height="8.35" fill="#bfbfc0" />
<rect x="302.43" y="280.50" width="2.10" height="8.35" fill="#bfbfc0" />
<rect x="305.77" y="280.50" width="2.10" height="8.35" fill="#bfbfc0" />
<rect x="309.10" y="280.50" width="2.10" height="8.35" fill="#bfbfc0" />
<rect x="312.43" y="280.50" width="2.10" height="8.35" fill="#bfbfc0" />
<rect x="315.76" y="280.50" width="2.10" height="8.35" fill="#bfbfc0" />
<rect x="319.09" y="280.50" width="2.10" height="8.35" fill="#bfbfc0" />
<rect x="322.43" y="280.50" width="2.10" height="8.35" fill="#bfbfc0" />
<rect x="325.76" y="280.50" width="2.10" height="8.35" fill="#bfbfc0" />
<rect x="329.09" y="280.50" width="2.10" height="8.35" fill="#bfbfc0" />
<rect x="332.42" y="280.50" width="2.10" height="8.35" fill="#bfbfc0" />
<rect x="335.75" y="280.50" width="2.10" height="8.35" fill="#bfbfc0" />
<rect x="339.09" y="280.50" width="2.10" height="8.35" fill="#bfbfc0" />
<rect x="342.42" y="280.50" width="2.10" height="8.35" fill="#bfbfc0" />
<rect x="345.75" y="280.50" width="2.10" height="8.35" fill="#bfbfc0" />
<rect x="349.08" y="280.50" width="2.10" height="8.35" fill="#bfbfc0" />
<rect x="352.41" y="280.50" width="2.10" height="8.35" fill="#bfbfc0" />
<rect x="355.75" y="280.50" width="2.10" height="8.35" fill="#bfbfc0" />
<rect x="359.08" y="280.50" width="2.10" height="8.35" fill="#bfbfc0" />
<rect x="362.41" y="280.50" width="2.10" height="8.35" fill="#bfbfc0" />
<rect x="365.74" y="280.50" width="2.10" height="8.35" fill="#bfbfc0" />
<rect x="369.07" y="280.50" width="2.10" height="8.35" fill="#bfbfc0" />
<rect x="372.41" y="280.50" width="2.10" height="8.35" fill="#bfbfc0" />
<rect x="375.74" y="280.50" width="2.10" height="8.35" fill="#bfbfc0" />
<rect x="95.85" y="283.00" width="2.10" height="3.10" fill="#1b6a2a" />
<rect x="99.18" y="283.00" width="2.10" height="3.10" fill="#1b6a2a" />
<rect x="102.51" y="283.00" width="2.10" height="3.10" fill="#1b6a2a" />
<rect x="105.85" y="283.00" width="2.10" height="3.10" fill="#1b6a2a" />
<rect x="109.18" y="283.00" width="2.10" height="3.10" fill="#1b6a2a" />
<rect x="112.51" y="283.00" width="2.10" height="3.10" fill="#1b6a2a" />
<rect x="115.84" y="283.00" width="2.10" height="3.10" fill="#1b6a2a" />
<rect x="119.17" y="283.00" width="2.10" height="3.10" fill="#1b6a2a" />
<rect x="122.51" y="283.00" width="2.10" height="3.10" fill="#1b6a2a" />
<rect x="125.84" y="283.00" width="2.10" height="3.10" fill="#1b6a2a" />
<rect x="129.17" y="283.00" width="2.10" height="3.10" fill="#1b6a2a" />
<rect x="132.50" y="283.00" width="2.10" height="3.10" fill="#1b6a2a" />
<rect x="135.83" y="283.00" width="2.10" height="3.10" fill="#1b6a2a" />
<rect x="139.17" y="283.00" width="2.10" height="3.10" fill="#1b6a2a" />
<rect x="142.50" y="283.00" width="2.10" height="3.10" fill="#1b6a2a" />
<rect x="145.83" y="283.00" width="2.10" height="3.10" fill="#b0105e" />
<rect x="149.16" y="283.00" width="2.10" height="3.10" fill="#b0105e" />
<text x="92.80" y="298.91" font-size="7.45" text-anchor="end" font-weight="normal" fill="#2b2b2b" stroke="#2b2b2b" stroke-width="0.22" >KRAS</text>
<rect x="95.23" y="294.51" width="3.33" height="4.75" fill="#98ee98" />
<rect x="98.57" y="294.51" width="3.33" height="4.75" fill="#98ee98" />
<rect x="145.21" y="294.51" width="3.33" height="4.75" fill="#98ee98" />
<rect x="155.21" y="294.51" width="3.33" height="4.75" fill="#98ee98" />
<rect x="158.54" y="294.51" width="3.33" height="4.75" fill="#98ee98" />
<rect x="161.87" y="294.51" width="3.33" height="4.75" fill="#98ee98" />
<rect x="165.21" y="294.51" width="3.33" height="4.75" fill="#98ee98" />
<rect x="168.54" y="294.51" width="3.33" height="4.75" fill="#98ee98" />
<rect x="171.87" y="294.51" width="3.33" height="4.75" fill="#98ee98" />
<rect x="175.20" y="294.51" width="3.33" height="4.75" fill="#98ee98" />
<rect x="178.53" y="294.51" width="3.33" height="4.75" fill="#98ee98" />
<rect x="181.87" y="294.51" width="3.33" height="4.75" fill="#98ee98" />
<rect x="185.20" y="294.51" width="3.33" height="4.75" fill="#98ee98" />
<rect x="188.53" y="294.51" width="3.33" height="4.75" fill="#98ee98" />
<rect x="191.86" y="294.51" width="3.33" height="4.75" fill="#98ee98" />
<rect x="195.19" y="294.51" width="3.33" height="4.75" fill="#98ee98" />
<rect x="198.53" y="294.51" width="3.33" height="4.75" fill="#98ee98" />
<rect x="201.86" y="294.51" width="3.33" height="4.75" fill="#98ee98" />
<rect x="95.85" y="292.71" width="2.10" height="8.35" fill="#bfbfc0" />
<rect x="99.18" y="292.71" width="2.10" height="8.35" fill="#bfbfc0" />
<rect x="102.51" y="292.71" width="2.10" height="8.35" fill="#bfbfc0" />
<rect x="105.85" y="292.71" width="2.10" height="8.35" fill="#bfbfc0" />
<rect x="109.18" y="292.71" width="2.10" height="8.35" fill="#bfbfc0" />
<rect x="112.51" y="292.71" width="2.10" height="8.35" fill="#bfbfc0" />
<rect x="115.84" y="292.71" width="2.10" height="8.35" fill="#bfbfc0" />
<rect x="119.17" y="292.71" width="2.10" height="8.35" fill="#bfbfc0" />
<rect x="122.51" y="292.71" width="2.10" height="8.35" fill="#bfbfc0" />
<rect x="125.84" y="292.71" width="2.10" height="8.35" fill="#bfbfc0" />
<rect x="129.17" y="292.71" width="2.10" height="8.35" fill="#bfbfc0" />
<rect x="132.50" y="292.71" width="2.10" height="8.35" fill="#bfbfc0" />
<rect x="135.83" y="292.71" width="2.10" height="8.35" fill="#bfbfc0" />
<rect x="139.17" y="292.71" width="2.10" height="8.35" fill="#bfbfc0" />
<rect x="142.50" y="292.71" width="2.10" height="8.35" fill="#bfbfc0" />
<rect x="145.83" y="292.71" width="2.10" height="8.35" fill="#bfbfc0" />
<rect x="149.16" y="292.71" width="2.10" height="8.35" fill="#bfbfc0" />
<rect x="152.49" y="292.71" width="2.10" height="8.35" fill="#bfbfc0" />
<rect x="155.83" y="292.71" width="2.10" height="8.35" fill="#bfbfc0" />
<rect x="159.16" y="292.71" width="2.10" height="8.35" fill="#bfbfc0" />
<rect x="162.49" y="292.71" width="2.10" height="8.35" fill="#bfbfc0" />
<rect x="165.82" y="292.71" width="2.10" height="8.35" fill="#bfbfc0" />
<rect x="169.15" y="292.71" width="2.10" height="8.35" fill="#bfbfc0" />
<rect x="172.49" y="292.71" width="2.10" height="8.35" fill="#bfbfc0" />
<rect x="175.82" y="292.71" width="2.10" height="8.35" fill="#bfbfc0" />
<rect x="179.15" y="292.71" width="2.10" height="8.35" fill="#bfbfc0" />
<rect x="182.48" y="292.71" width="2.10" height="8.35" fill="#bfbfc0" />
<rect x="185.81" y="292.71" width="2.10" height="8.35" fill="#bfbfc0" />
<rect x="189.15" y="292.71" width="2.10" height="8.35" fill="#bfbfc0" />
<rect x="192.48" y="292.71" width="2.10" height="8.35" fill="#bfbfc0" />
<rect x="195.81" y="292.71" width="2.10" height="8.35" fill="#bfbfc0" />
<rect x="199.14" y="292.71" width="2.10" height="8.35" fill="#bfbfc0" />
<rect x="202.47" y="292.71" width="2.10" height="8.35" fill="#bfbfc0" />
<rect x="205.81" y="292.71" width="2.10" height="8.35" fill="#bfbfc0" />
<rect x="209.14" y="292.71" width="2.10" height="8.35" fill="#bfbfc0" />
<rect x="212.47" y="292.71" width="2.10" height="8.35" fill="#bfbfc0" />
<rect x="215.80" y="292.71" width="2.10" height="8.35" fill="#bfbfc0" />
<rect x="219.13" y="292.71" width="2.10" height="8.35" fill="#bfbfc0" />
<rect x="222.47" y="292.71" width="2.10" height="8.35" fill="#bfbfc0" />
<rect x="225.80" y="292.71" width="2.10" height="8.35" fill="#bfbfc0" />
<rect x="229.13" y="292.71" width="2.10" height="8.35" fill="#bfbfc0" />
<rect x="232.46" y="292.71" width="2.10" height="8.35" fill="#bfbfc0" />
<rect x="235.79" y="292.71" width="2.10" height="8.35" fill="#bfbfc0" />
<rect x="239.13" y="292.71" width="2.10" height="8.35" fill="#bfbfc0" />
<rect x="242.46" y="292.71" width="2.10" height="8.35" fill="#bfbfc0" />
<rect x="245.79" y="292.71" width="2.10" height="8.35" fill="#bfbfc0" />
<rect x="249.12" y="292.71" width="2.10" height="8.35" fill="#bfbfc0" />
<rect x="252.45" y="292.71" width="2.10" height="8.35" fill="#bfbfc0" />
<rect x="255.79" y="292.71" width="2.10" height="8.35" fill="#bfbfc0" />
<rect x="259.12" y="292.71" width="2.10" height="8.35" fill="#bfbfc0" />
<rect x="262.45" y="292.71" width="2.10" height="8.35" fill="#bfbfc0" />
<rect x="265.78" y="292.71" width="2.10" height="8.35" fill="#bfbfc0" />
<rect x="269.11" y="292.71" width="2.10" height="8.35" fill="#bfbfc0" />
<rect x="272.45" y="292.71" width="2.10" height="8.35" fill="#bfbfc0" />
<rect x="275.78" y="292.71" width="2.10" height="8.35" fill="#bfbfc0" />
<rect x="279.11" y="292.71" width="2.10" height="8.35" fill="#bfbfc0" />
<rect x="282.44" y="292.71" width="2.10" height="8.35" fill="#bfbfc0" />
<rect x="285.77" y="292.71" width="2.10" height="8.35" fill="#bfbfc0" />
<rect x="289.11" y="292.71" width="2.10" height="8.35" fill="#bfbfc0" />
<rect x="292.44" y="292.71" width="2.10" height="8.35" fill="#bfbfc0" />
<rect x="295.77" y="292.71" width="2.10" height="8.35" fill="#bfbfc0" />
<rect x="299.10" y="292.71" width="2.10" height="8.35" fill="#bfbfc0" />
<rect x="302.43" y="292.71" width="2.10" height="8.35" fill="#bfbfc0" />
<rect x="305.77" y="292.71" width="2.10" height="8.35" fill="#bfbfc0" />
<rect x="309.10" y="292.71" width="2.10" height="8.35" fill="#bfbfc0" />
<rect x="312.43" y="292.71" width="2.10" height="8.35" fill="#bfbfc0" />
<rect x="315.76" y="292.71" width="2.10" height="8.35" fill="#bfbfc0" />
<rect x="319.09" y="292.71" width="2.10" height="8.35" fill="#bfbfc0" />
<rect x="322.43" y="292.71" width="2.10" height="8.35" fill="#bfbfc0" />
<rect x="325.76" y="292.71" width="2.10" height="8.35" fill="#bfbfc0" />
<rect x="329.09" y="292.71" width="2.10" height="8.35" fill="#bfbfc0" />
<rect x="332.42" y="292.71" width="2.10" height="8.35" fill="#bfbfc0" />
<rect x="335.75" y="292.71" width="2.10" height="8.35" fill="#bfbfc0" />
<rect x="339.09" y="292.71" width="2.10" height="8.35" fill="#bfbfc0" />
<rect x="342.42" y="292.71" width="2.10" height="8.35" fill="#bfbfc0" />
<rect x="345.75" y="292.71" width="2.10" height="8.35" fill="#bfbfc0" />
<rect x="349.08" y="292.71" width="2.10" height="8.35" fill="#bfbfc0" />
<rect x="352.41" y="292.71" width="2.10" height="8.35" fill="#bfbfc0" />
<rect x="355.75" y="292.71" width="2.10" height="8.35" fill="#bfbfc0" />
<rect x="359.08" y="292.71" width="2.10" height="8.35" fill="#bfbfc0" />
<rect x="362.41" y="292.71" width="2.10" height="8.35" fill="#bfbfc0" />
<rect x="365.74" y="292.71" width="2.10" height="8.35" fill="#bfbfc0" />
<rect x="369.07" y="292.71" width="2.10" height="8.35" fill="#bfbfc0" />
<rect x="372.41" y="292.71" width="2.10" height="8.35" fill="#bfbfc0" />
<rect x="375.74" y="292.71" width="2.10" height="8.35" fill="#bfbfc0" />
<rect x="95.85" y="295.21" width="2.10" height="3.10" fill="#1b6a2a" />
<rect x="99.18" y="295.21" width="2.10" height="3.10" fill="#1b6a2a" />
<rect x="145.83" y="295.21" width="2.10" height="3.10" fill="#1b6a2a" />
<rect x="155.83" y="295.21" width="2.10" height="3.10" fill="#1b6a2a" />
<rect x="159.16" y="295.21" width="2.10" height="3.10" fill="#1b6a2a" />
<rect x="162.49" y="295.21" width="2.10" height="3.10" fill="#1b6a2a" />
<rect x="165.82" y="295.21" width="2.10" height="3.10" fill="#1b6a2a" />
<rect x="169.15" y="295.21" width="2.10" height="3.10" fill="#1b6a2a" />
<rect x="172.49" y="295.21" width="2.10" height="3.10" fill="#1b6a2a" />
<rect x="175.82" y="295.21" width="2.10" height="3.10" fill="#1b6a2a" />
<rect x="179.15" y="295.21" width="2.10" height="3.10" fill="#1b6a2a" />
<rect x="182.48" y="295.21" width="2.10" height="3.10" fill="#1b6a2a" />
<rect x="185.81" y="295.21" width="2.10" height="3.10" fill="#1b6a2a" />
<rect x="189.15" y="295.21" width="2.10" height="3.10" fill="#1b6a2a" />
<rect x="192.48" y="295.21" width="2.10" height="3.10" fill="#1b6a2a" />
<rect x="195.81" y="295.21" width="2.10" height="3.10" fill="#1b6a2a" />
<rect x="199.14" y="295.21" width="2.10" height="3.10" fill="#1b6a2a" />
<rect x="202.47" y="295.21" width="2.10" height="3.10" fill="#1b6a2a" />
<text x="92.80" y="311.12" font-size="7.45" text-anchor="end" font-weight="normal" fill="#2b2b2b" stroke="#2b2b2b" stroke-width="0.22" >MAP2K1</text>
<rect x="155.21" y="306.72" width="3.33" height="4.75" fill="#98ee98" />
<rect x="205.19" y="306.72" width="3.33" height="4.75" fill="#98ee98" />
<rect x="208.52" y="306.72" width="3.33" height="4.75" fill="#98ee98" />
<rect x="211.85" y="306.72" width="3.33" height="4.75" fill="#98ee98" />
<rect x="215.19" y="306.72" width="3.33" height="4.75" fill="#98ee98" />
<rect x="218.52" y="306.72" width="3.33" height="4.75" fill="#98ee98" />
<rect x="221.85" y="306.72" width="3.33" height="4.75" fill="#98ee98" />
<rect x="225.18" y="306.72" width="3.33" height="4.75" fill="#98ee98" />
<rect x="228.51" y="306.72" width="3.33" height="4.75" fill="#98ee98" />
<rect x="231.85" y="306.72" width="3.33" height="4.75" fill="#f5a0c8" />
<rect x="95.85" y="304.92" width="2.10" height="8.35" fill="#bfbfc0" />
<rect x="99.18" y="304.92" width="2.10" height="8.35" fill="#bfbfc0" />
<rect x="102.51" y="304.92" width="2.10" height="8.35" fill="#bfbfc0" />
<rect x="105.85" y="304.92" width="2.10" height="8.35" fill="#bfbfc0" />
<rect x="109.18" y="304.92" width="2.10" height="8.35" fill="#bfbfc0" />
<rect x="112.51" y="304.92" width="2.10" height="8.35" fill="#bfbfc0" />
<rect x="115.84" y="304.92" width="2.10" height="8.35" fill="#bfbfc0" />
<rect x="119.17" y="304.92" width="2.10" height="8.35" fill="#bfbfc0" />
<rect x="122.51" y="304.92" width="2.10" height="8.35" fill="#bfbfc0" />
<rect x="125.84" y="304.92" width="2.10" height="8.35" fill="#bfbfc0" />
<rect x="129.17" y="304.92" width="2.10" height="8.35" fill="#bfbfc0" />
<rect x="132.50" y="304.92" width="2.10" height="8.35" fill="#bfbfc0" />
<rect x="135.83" y="304.92" width="2.10" height="8.35" fill="#bfbfc0" />
<rect x="139.17" y="304.92" width="2.10" height="8.35" fill="#bfbfc0" />
<rect x="142.50" y="304.92" width="2.10" height="8.35" fill="#bfbfc0" />
<rect x="145.83" y="304.92" width="2.10" height="8.35" fill="#bfbfc0" />
<rect x="149.16" y="304.92" width="2.10" height="8.35" fill="#bfbfc0" />
<rect x="152.49" y="304.92" width="2.10" height="8.35" fill="#bfbfc0" />
<rect x="155.83" y="304.92" width="2.10" height="8.35" fill="#bfbfc0" />
<rect x="159.16" y="304.92" width="2.10" height="8.35" fill="#bfbfc0" />
<rect x="162.49" y="304.92" width="2.10" height="8.35" fill="#bfbfc0" />
<rect x="165.82" y="304.92" width="2.10" height="8.35" fill="#bfbfc0" />
<rect x="169.15" y="304.92" width="2.10" height="8.35" fill="#bfbfc0" />
<rect x="172.49" y="304.92" width="2.10" height="8.35" fill="#bfbfc0" />
<rect x="175.82" y="304.92" width="2.10" height="8.35" fill="#bfbfc0" />
<rect x="179.15" y="304.92" width="2.10" height="8.35" fill="#bfbfc0" />
<rect x="182.48" y="304.92" width="2.10" height="8.35" fill="#bfbfc0" />
<rect x="185.81" y="304.92" width="2.10" height="8.35" fill="#bfbfc0" />
<rect x="189.15" y="304.92" width="2.10" height="8.35" fill="#bfbfc0" />
<rect x="192.48" y="304.92" width="2.10" height="8.35" fill="#bfbfc0" />
<rect x="195.81" y="304.92" width="2.10" height="8.35" fill="#bfbfc0" />
<rect x="199.14" y="304.92" width="2.10" height="8.35" fill="#bfbfc0" />
<rect x="202.47" y="304.92" width="2.10" height="8.35" fill="#bfbfc0" />
<rect x="205.81" y="304.92" width="2.10" height="8.35" fill="#bfbfc0" />
<rect x="209.14" y="304.92" width="2.10" height="8.35" fill="#bfbfc0" />
<rect x="212.47" y="304.92" width="2.10" height="8.35" fill="#bfbfc0" />
<rect x="215.80" y="304.92" width="2.10" height="8.35" fill="#bfbfc0" />
<rect x="219.13" y="304.92" width="2.10" height="8.35" fill="#bfbfc0" />
<rect x="222.47" y="304.92" width="2.10" height="8.35" fill="#bfbfc0" />
<rect x="225.80" y="304.92" width="2.10" height="8.35" fill="#bfbfc0" />
<rect x="229.13" y="304.92" width="2.10" height="8.35" fill="#bfbfc0" />
<rect x="232.46" y="304.92" width="2.10" height="8.35" fill="#bfbfc0" />
<rect x="235.79" y="304.92" width="2.10" height="8.35" fill="#bfbfc0" />
<rect x="239.13" y="304.92" width="2.10" height="8.35" fill="#bfbfc0" />
<rect x="242.46" y="304.92" width="2.10" height="8.35" fill="#bfbfc0" />
<rect x="245.79" y="304.92" width="2.10" height="8.35" fill="#bfbfc0" />
<rect x="249.12" y="304.92" width="2.10" height="8.35" fill="#bfbfc0" />
<rect x="252.45" y="304.92" width="2.10" height="8.35" fill="#bfbfc0" />
<rect x="255.79" y="304.92" width="2.10" height="8.35" fill="#bfbfc0" />
<rect x="259.12" y="304.92" width="2.10" height="8.35" fill="#bfbfc0" />
<rect x="262.45" y="304.92" width="2.10" height="8.35" fill="#bfbfc0" />
<rect x="265.78" y="304.92" width="2.10" height="8.35" fill="#bfbfc0" />
<rect x="269.11" y="304.92" width="2.10" height="8.35" fill="#bfbfc0" />
<rect x="272.45" y="304.92" width="2.10" height="8.35" fill="#bfbfc0" />
<rect x="275.78" y="304.92" width="2.10" height="8.35" fill="#bfbfc0" />
<rect x="279.11" y="304.92" width="2.10" height="8.35" fill="#bfbfc0" />
<rect x="282.44" y="304.92" width="2.10" height="8.35" fill="#bfbfc0" />
<rect x="285.77" y="304.92" width="2.10" height="8.35" fill="#bfbfc0" />
<rect x="289.11" y="304.92" width="2.10" height="8.35" fill="#bfbfc0" />
<rect x="292.44" y="304.92" width="2.10" height="8.35" fill="#bfbfc0" />
<rect x="295.77" y="304.92" width="2.10" height="8.35" fill="#bfbfc0" />
<rect x="299.10" y="304.92" width="2.10" height="8.35" fill="#bfbfc0" />
<rect x="302.43" y="304.92" width="2.10" height="8.35" fill="#bfbfc0" />
<rect x="305.77" y="304.92" width="2.10" height="8.35" fill="#bfbfc0" />
<rect x="309.10" y="304.92" width="2.10" height="8.35" fill="#bfbfc0" />
<rect x="312.43" y="304.92" width="2.10" height="8.35" fill="#bfbfc0" />
<rect x="315.76" y="304.92" width="2.10" height="8.35" fill="#bfbfc0" />
<rect x="319.09" y="304.92" width="2.10" height="8.35" fill="#bfbfc0" />
<rect x="322.43" y="304.92" width="2.10" height="8.35" fill="#bfbfc0" />
<rect x="325.76" y="304.92" width="2.10" height="8.35" fill="#bfbfc0" />
<rect x="329.09" y="304.92" width="2.10" height="8.35" fill="#bfbfc0" />
<rect x="332.42" y="304.92" width="2.10" height="8.35" fill="#bfbfc0" />
<rect x="335.75" y="304.92" width="2.10" height="8.35" fill="#bfbfc0" />
<rect x="339.09" y="304.92" width="2.10" height="8.35" fill="#bfbfc0" />
<rect x="342.42" y="304.92" width="2.10" height="8.35" fill="#bfbfc0" />
<rect x="345.75" y="304.92" width="2.10" height="8.35" fill="#bfbfc0" />
<rect x="349.08" y="304.92" width="2.10" height="8.35" fill="#bfbfc0" />
<rect x="352.41" y="304.92" width="2.10" height="8.35" fill="#bfbfc0" />
<rect x="355.75" y="304.92" width="2.10" height="8.35" fill="#bfbfc0" />
<rect x="359.08" y="304.92" width="2.10" height="8.35" fill="#bfbfc0" />
<rect x="362.41" y="304.92" width="2.10" height="8.35" fill="#bfbfc0" />
<rect x="365.74" y="304.92" width="2.10" height="8.35" fill="#bfbfc0" />
<rect x="369.07" y="304.92" width="2.10" height="8.35" fill="#bfbfc0" />
<rect x="372.41" y="304.92" width="2.10" height="8.35" fill="#bfbfc0" />
<rect x="375.74" y="304.92" width="2.10" height="8.35" fill="#bfbfc0" />
<rect x="155.83" y="307.42" width="2.10" height="3.10" fill="#1b6a2a" />
<rect x="205.81" y="307.42" width="2.10" height="3.10" fill="#1b6a2a" />
<rect x="209.14" y="307.42" width="2.10" height="3.10" fill="#1b6a2a" />
<rect x="212.47" y="307.42" width="2.10" height="3.10" fill="#1b6a2a" />
<rect x="215.80" y="307.42" width="2.10" height="3.10" fill="#1b6a2a" />
<rect x="219.13" y="307.42" width="2.10" height="3.10" fill="#1b6a2a" />
<rect x="222.47" y="307.42" width="2.10" height="3.10" fill="#1b6a2a" />
<rect x="225.80" y="307.42" width="2.10" height="3.10" fill="#1b6a2a" />
<rect x="229.13" y="307.42" width="2.10" height="3.10" fill="#1b6a2a" />
<rect x="232.46" y="307.42" width="2.10" height="3.10" fill="#b0105e" />
<text x="92.80" y="323.33" font-size="7.45" text-anchor="end" font-weight="normal" fill="#2b2b2b" stroke="#2b2b2b" stroke-width="0.22" >NRAS</text>
<rect x="205.19" y="318.93" width="3.33" height="4.75" fill="#98ee98" />
<rect x="235.18" y="318.93" width="3.33" height="4.75" fill="#98ee98" />
<rect x="95.85" y="317.13" width="2.10" height="8.35" fill="#bfbfc0" />
<rect x="99.18" y="317.13" width="2.10" height="8.35" fill="#bfbfc0" />
<rect x="102.51" y="317.13" width="2.10" height="8.35" fill="#bfbfc0" />
<rect x="105.85" y="317.13" width="2.10" height="8.35" fill="#bfbfc0" />
<rect x="109.18" y="317.13" width="2.10" height="8.35" fill="#bfbfc0" />
<rect x="112.51" y="317.13" width="2.10" height="8.35" fill="#bfbfc0" />
<rect x="115.84" y="317.13" width="2.10" height="8.35" fill="#bfbfc0" />
<rect x="119.17" y="317.13" width="2.10" height="8.35" fill="#bfbfc0" />
<rect x="122.51" y="317.13" width="2.10" height="8.35" fill="#bfbfc0" />
<rect x="125.84" y="317.13" width="2.10" height="8.35" fill="#bfbfc0" />
<rect x="129.17" y="317.13" width="2.10" height="8.35" fill="#bfbfc0" />
<rect x="132.50" y="317.13" width="2.10" height="8.35" fill="#bfbfc0" />
<rect x="135.83" y="317.13" width="2.10" height="8.35" fill="#bfbfc0" />
<rect x="139.17" y="317.13" width="2.10" height="8.35" fill="#bfbfc0" />
<rect x="142.50" y="317.13" width="2.10" height="8.35" fill="#bfbfc0" />
<rect x="145.83" y="317.13" width="2.10" height="8.35" fill="#bfbfc0" />
<rect x="149.16" y="317.13" width="2.10" height="8.35" fill="#bfbfc0" />
<rect x="152.49" y="317.13" width="2.10" height="8.35" fill="#bfbfc0" />
<rect x="155.83" y="317.13" width="2.10" height="8.35" fill="#bfbfc0" />
<rect x="159.16" y="317.13" width="2.10" height="8.35" fill="#bfbfc0" />
<rect x="162.49" y="317.13" width="2.10" height="8.35" fill="#bfbfc0" />
<rect x="165.82" y="317.13" width="2.10" height="8.35" fill="#bfbfc0" />
<rect x="169.15" y="317.13" width="2.10" height="8.35" fill="#bfbfc0" />
<rect x="172.49" y="317.13" width="2.10" height="8.35" fill="#bfbfc0" />
<rect x="175.82" y="317.13" width="2.10" height="8.35" fill="#bfbfc0" />
<rect x="179.15" y="317.13" width="2.10" height="8.35" fill="#bfbfc0" />
<rect x="182.48" y="317.13" width="2.10" height="8.35" fill="#bfbfc0" />
<rect x="185.81" y="317.13" width="2.10" height="8.35" fill="#bfbfc0" />
<rect x="189.15" y="317.13" width="2.10" height="8.35" fill="#bfbfc0" />
<rect x="192.48" y="317.13" width="2.10" height="8.35" fill="#bfbfc0" />
<rect x="195.81" y="317.13" width="2.10" height="8.35" fill="#bfbfc0" />
<rect x="199.14" y="317.13" width="2.10" height="8.35" fill="#bfbfc0" />
<rect x="202.47" y="317.13" width="2.10" height="8.35" fill="#bfbfc0" />
<rect x="205.81" y="317.13" width="2.10" height="8.35" fill="#bfbfc0" />
<rect x="209.14" y="317.13" width="2.10" height="8.35" fill="#bfbfc0" />
<rect x="212.47" y="317.13" width="2.10" height="8.35" fill="#bfbfc0" />
<rect x="215.80" y="317.13" width="2.10" height="8.35" fill="#bfbfc0" />
<rect x="219.13" y="317.13" width="2.10" height="8.35" fill="#bfbfc0" />
<rect x="222.47" y="317.13" width="2.10" height="8.35" fill="#bfbfc0" />
<rect x="225.80" y="317.13" width="2.10" height="8.35" fill="#bfbfc0" />
<rect x="229.13" y="317.13" width="2.10" height="8.35" fill="#bfbfc0" />
<rect x="232.46" y="317.13" width="2.10" height="8.35" fill="#bfbfc0" />
<rect x="235.79" y="317.13" width="2.10" height="8.35" fill="#bfbfc0" />
<rect x="239.13" y="317.13" width="2.10" height="8.35" fill="#bfbfc0" />
<rect x="242.46" y="317.13" width="2.10" height="8.35" fill="#bfbfc0" />
<rect x="245.79" y="317.13" width="2.10" height="8.35" fill="#bfbfc0" />
<rect x="249.12" y="317.13" width="2.10" height="8.35" fill="#bfbfc0" />
<rect x="252.45" y="317.13" width="2.10" height="8.35" fill="#bfbfc0" />
<rect x="255.79" y="317.13" width="2.10" height="8.35" fill="#bfbfc0" />
<rect x="259.12" y="317.13" width="2.10" height="8.35" fill="#bfbfc0" />
<rect x="262.45" y="317.13" width="2.10" height="8.35" fill="#bfbfc0" />
<rect x="265.78" y="317.13" width="2.10" height="8.35" fill="#bfbfc0" />
<rect x="269.11" y="317.13" width="2.10" height="8.35" fill="#bfbfc0" />
<rect x="272.45" y="317.13" width="2.10" height="8.35" fill="#bfbfc0" />
<rect x="275.78" y="317.13" width="2.10" height="8.35" fill="#bfbfc0" />
<rect x="279.11" y="317.13" width="2.10" height="8.35" fill="#bfbfc0" />
<rect x="282.44" y="317.13" width="2.10" height="8.35" fill="#bfbfc0" />
<rect x="285.77" y="317.13" width="2.10" height="8.35" fill="#bfbfc0" />
<rect x="289.11" y="317.13" width="2.10" height="8.35" fill="#bfbfc0" />
<rect x="292.44" y="317.13" width="2.10" height="8.35" fill="#bfbfc0" />
<rect x="295.77" y="317.13" width="2.10" height="8.35" fill="#bfbfc0" />
<rect x="299.10" y="317.13" width="2.10" height="8.35" fill="#bfbfc0" />
<rect x="302.43" y="317.13" width="2.10" height="8.35" fill="#bfbfc0" />
<rect x="305.77" y="317.13" width="2.10" height="8.35" fill="#bfbfc0" />
<rect x="309.10" y="317.13" width="2.10" height="8.35" fill="#bfbfc0" />
<rect x="312.43" y="317.13" width="2.10" height="8.35" fill="#bfbfc0" />
<rect x="315.76" y="317.13" width="2.10" height="8.35" fill="#bfbfc0" />
<rect x="319.09" y="317.13" width="2.10" height="8.35" fill="#bfbfc0" />
<rect x="322.43" y="317.13" width="2.10" height="8.35" fill="#bfbfc0" />
<rect x="325.76" y="317.13" width="2.10" height="8.35" fill="#bfbfc0" />
<rect x="329.09" y="317.13" width="2.10" height="8.35" fill="#bfbfc0" />
<rect x="332.42" y="317.13" width="2.10" height="8.35" fill="#bfbfc0" />
<rect x="335.75" y="317.13" width="2.10" height="8.35" fill="#bfbfc0" />
<rect x="339.09" y="317.13" width="2.10" height="8.35" fill="#bfbfc0" />
<rect x="342.42" y="317.13" width="2.10" height="8.35" fill="#bfbfc0" />
<rect x="345.75" y="317.13" width="2.10" height="8.35" fill="#bfbfc0" />
<rect x="349.08" y="317.13" width="2.10" height="8.35" fill="#bfbfc0" />
<rect x="352.41" y="317.13" width="2.10" height="8.35" fill="#bfbfc0" />
<rect x="355.75" y="317.13" width="2.10" height="8.35" fill="#bfbfc0" />
<rect x="359.08" y="317.13" width="2.10" height="8.35" fill="#bfbfc0" />
<rect x="362.41" y="317.13" width="2.10" height="8.35" fill="#bfbfc0" />
<rect x="365.74" y="317.13" width="2.10" height="8.35" fill="#bfbfc0" />
<rect x="369.07" y="317.13" width="2.10" height="8.35" fill="#bfbfc0" />
<rect x="372.41" y="317.13" width="2.10" height="8.35" fill="#bfbfc0" />
<rect x="375.74" y="317.13" width="2.10" height="8.35" fill="#bfbfc0" />
<rect x="205.81" y="319.63" width="2.10" height="3.10" fill="#1b6a2a" />
<rect x="235.79" y="319.63" width="2.10" height="3.10" fill="#1b6a2a" />
<text x="92.80" y="335.54" font-size="7.45" text-anchor="end" font-weight="normal" fill="#2b2b2b" stroke="#2b2b2b" stroke-width="0.22" >PTPN11</text>
<rect x="158.54" y="331.14" width="3.33" height="4.75" fill="#98ee98" />
<rect x="238.51" y="331.14" width="3.33" height="4.75" fill="#98ee98" />
<rect x="241.84" y="331.14" width="3.33" height="4.75" fill="#98ee98" />
<rect x="245.17" y="331.14" width="3.33" height="4.75" fill="#98ee98" />
<rect x="248.51" y="331.14" width="3.33" height="4.75" fill="#98ee98" />
<rect x="251.84" y="331.14" width="3.33" height="4.75" fill="#98ee98" />
<rect x="255.17" y="331.14" width="3.33" height="4.75" fill="#98ee98" />
<rect x="258.50" y="331.14" width="3.33" height="4.75" fill="#98ee98" />
<rect x="261.83" y="331.14" width="3.33" height="4.75" fill="#98ee98" />
<rect x="265.17" y="331.14" width="3.33" height="4.75" fill="#98ee98" />
<rect x="95.85" y="329.34" width="2.10" height="8.35" fill="#bfbfc0" />
<rect x="99.18" y="329.34" width="2.10" height="8.35" fill="#bfbfc0" />
<rect x="102.51" y="329.34" width="2.10" height="8.35" fill="#bfbfc0" />
<rect x="105.85" y="329.34" width="2.10" height="8.35" fill="#bfbfc0" />
<rect x="109.18" y="329.34" width="2.10" height="8.35" fill="#bfbfc0" />
<rect x="112.51" y="329.34" width="2.10" height="8.35" fill="#bfbfc0" />
<rect x="115.84" y="329.34" width="2.10" height="8.35" fill="#bfbfc0" />
<rect x="119.17" y="329.34" width="2.10" height="8.35" fill="#bfbfc0" />
<rect x="122.51" y="329.34" width="2.10" height="8.35" fill="#bfbfc0" />
<rect x="125.84" y="329.34" width="2.10" height="8.35" fill="#bfbfc0" />
<rect x="129.17" y="329.34" width="2.10" height="8.35" fill="#bfbfc0" />
<rect x="132.50" y="329.34" width="2.10" height="8.35" fill="#bfbfc0" />
<rect x="135.83" y="329.34" width="2.10" height="8.35" fill="#bfbfc0" />
<rect x="139.17" y="329.34" width="2.10" height="8.35" fill="#bfbfc0" />
<rect x="142.50" y="329.34" width="2.10" height="8.35" fill="#bfbfc0" />
<rect x="145.83" y="329.34" width="2.10" height="8.35" fill="#bfbfc0" />
<rect x="149.16" y="329.34" width="2.10" height="8.35" fill="#bfbfc0" />
<rect x="152.49" y="329.34" width="2.10" height="8.35" fill="#bfbfc0" />
<rect x="155.83" y="329.34" width="2.10" height="8.35" fill="#bfbfc0" />
<rect x="159.16" y="329.34" width="2.10" height="8.35" fill="#bfbfc0" />
<rect x="162.49" y="329.34" width="2.10" height="8.35" fill="#bfbfc0" />
<rect x="165.82" y="329.34" width="2.10" height="8.35" fill="#bfbfc0" />
<rect x="169.15" y="329.34" width="2.10" height="8.35" fill="#bfbfc0" />
<rect x="172.49" y="329.34" width="2.10" height="8.35" fill="#bfbfc0" />
<rect x="175.82" y="329.34" width="2.10" height="8.35" fill="#bfbfc0" />
<rect x="179.15" y="329.34" width="2.10" height="8.35" fill="#bfbfc0" />
<rect x="182.48" y="329.34" width="2.10" height="8.35" fill="#bfbfc0" />
<rect x="185.81" y="329.34" width="2.10" height="8.35" fill="#bfbfc0" />
<rect x="189.15" y="329.34" width="2.10" height="8.35" fill="#bfbfc0" />
<rect x="192.48" y="329.34" width="2.10" height="8.35" fill="#bfbfc0" />
<rect x="195.81" y="329.34" width="2.10" height="8.35" fill="#bfbfc0" />
<rect x="199.14" y="329.34" width="2.10" height="8.35" fill="#bfbfc0" />
<rect x="202.47" y="329.34" width="2.10" height="8.35" fill="#bfbfc0" />
<rect x="205.81" y="329.34" width="2.10" height="8.35" fill="#bfbfc0" />
<rect x="209.14" y="329.34" width="2.10" height="8.35" fill="#bfbfc0" />
<rect x="212.47" y="329.34" width="2.10" height="8.35" fill="#bfbfc0" />
<rect x="215.80" y="329.34" width="2.10" height="8.35" fill="#bfbfc0" />
<rect x="219.13" y="329.34" width="2.10" height="8.35" fill="#bfbfc0" />
<rect x="222.47" y="329.34" width="2.10" height="8.35" fill="#bfbfc0" />
<rect x="225.80" y="329.34" width="2.10" height="8.35" fill="#bfbfc0" />
<rect x="229.13" y="329.34" width="2.10" height="8.35" fill="#bfbfc0" />
<rect x="232.46" y="329.34" width="2.10" height="8.35" fill="#bfbfc0" />
<rect x="235.79" y="329.34" width="2.10" height="8.35" fill="#bfbfc0" />
<rect x="239.13" y="329.34" width="2.10" height="8.35" fill="#bfbfc0" />
<rect x="242.46" y="329.34" width="2.10" height="8.35" fill="#bfbfc0" />
<rect x="245.79" y="329.34" width="2.10" height="8.35" fill="#bfbfc0" />
<rect x="249.12" y="329.34" width="2.10" height="8.35" fill="#bfbfc0" />
<rect x="252.45" y="329.34" width="2.10" height="8.35" fill="#bfbfc0" />
<rect x="255.79" y="329.34" width="2.10" height="8.35" fill="#bfbfc0" />
<rect x="259.12" y="329.34" width="2.10" height="8.35" fill="#bfbfc0" />
<rect x="262.45" y="329.34" width="2.10" height="8.35" fill="#bfbfc0" />
<rect x="265.78" y="329.34" width="2.10" height="8.35" fill="#bfbfc0" />
<rect x="269.11" y="329.34" width="2.10" height="8.35" fill="#bfbfc0" />
<rect x="272.45" y="329.34" width="2.10" height="8.35" fill="#bfbfc0" />
<rect x="275.78" y="329.34" width="2.10" height="8.35" fill="#bfbfc0" />
<rect x="279.11" y="329.34" width="2.10" height="8.35" fill="#bfbfc0" />
<rect x="282.44" y="329.34" width="2.10" height="8.35" fill="#bfbfc0" />
<rect x="285.77" y="329.34" width="2.10" height="8.35" fill="#bfbfc0" />
<rect x="289.11" y="329.34" width="2.10" height="8.35" fill="#bfbfc0" />
<rect x="292.44" y="329.34" width="2.10" height="8.35" fill="#bfbfc0" />
<rect x="295.77" y="329.34" width="2.10" height="8.35" fill="#bfbfc0" />
<rect x="299.10" y="329.34" width="2.10" height="8.35" fill="#bfbfc0" />
<rect x="302.43" y="329.34" width="2.10" height="8.35" fill="#bfbfc0" />
<rect x="305.77" y="329.34" width="2.10" height="8.35" fill="#bfbfc0" />
<rect x="309.10" y="329.34" width="2.10" height="8.35" fill="#bfbfc0" />
<rect x="312.43" y="329.34" width="2.10" height="8.35" fill="#bfbfc0" />
<rect x="315.76" y="329.34" width="2.10" height="8.35" fill="#bfbfc0" />
<rect x="319.09" y="329.34" width="2.10" height="8.35" fill="#bfbfc0" />
<rect x="322.43" y="329.34" width="2.10" height="8.35" fill="#bfbfc0" />
<rect x="325.76" y="329.34" width="2.10" height="8.35" fill="#bfbfc0" />
<rect x="329.09" y="329.34" width="2.10" height="8.35" fill="#bfbfc0" />
<rect x="332.42" y="329.34" width="2.10" height="8.35" fill="#bfbfc0" />
<rect x="335.75" y="329.34" width="2.10" height="8.35" fill="#bfbfc0" />
<rect x="339.09" y="329.34" width="2.10" height="8.35" fill="#bfbfc0" />
<rect x="342.42" y="329.34" width="2.10" height="8.35" fill="#bfbfc0" />
<rect x="345.75" y="329.34" width="2.10" height="8.35" fill="#bfbfc0" />
<rect x="349.08" y="329.34" width="2.10" height="8.35" fill="#bfbfc0" />
<rect x="352.41" y="329.34" width="2.10" height="8.35" fill="#bfbfc0" />
<rect x="355.75" y="329.34" width="2.10" height="8.35" fill="#bfbfc0" />
<rect x="359.08" y="329.34" width="2.10" height="8.35" fill="#bfbfc0" />
<rect x="362.41" y="329.34" width="2.10" height="8.35" fill="#bfbfc0" />
<rect x="365.74" y="329.34" width="2.10" height="8.35" fill="#bfbfc0" />
<rect x="369.07" y="329.34" width="2.10" height="8.35" fill="#bfbfc0" />
<rect x="372.41" y="329.34" width="2.10" height="8.35" fill="#bfbfc0" />
<rect x="375.74" y="329.34" width="2.10" height="8.35" fill="#bfbfc0" />
<rect x="159.16" y="331.84" width="2.10" height="3.10" fill="#1b6a2a" />
<rect x="239.13" y="331.84" width="2.10" height="3.10" fill="#1b6a2a" />
<rect x="242.46" y="331.84" width="2.10" height="3.10" fill="#1b6a2a" />
<rect x="245.79" y="331.84" width="2.10" height="3.10" fill="#1b6a2a" />
<rect x="249.12" y="331.84" width="2.10" height="3.10" fill="#1b6a2a" />
<rect x="252.45" y="331.84" width="2.10" height="3.10" fill="#1b6a2a" />
<rect x="255.79" y="331.84" width="2.10" height="3.10" fill="#1b6a2a" />
<rect x="259.12" y="331.84" width="2.10" height="3.10" fill="#1b6a2a" />
<rect x="262.45" y="331.84" width="2.10" height="3.10" fill="#1b6a2a" />
<rect x="265.78" y="331.84" width="2.10" height="3.10" fill="#1b6a2a" />
<text x="92.80" y="347.75" font-size="7.45" text-anchor="end" font-weight="normal" fill="#2b2b2b" stroke="#2b2b2b" stroke-width="0.22" >NF1</text>
<rect x="101.90" y="343.35" width="3.33" height="4.75" fill="#e8c8a8" />
<rect x="238.51" y="343.35" width="3.33" height="4.75" fill="#e8c8a8" />
<rect x="268.50" y="343.35" width="3.33" height="4.75" fill="#e8c8a8" />
<rect x="271.83" y="343.35" width="3.33" height="4.75" fill="#e8c8a8" />
<rect x="275.16" y="343.35" width="3.33" height="4.75" fill="#d8e0b0" />
<rect x="95.85" y="341.55" width="2.10" height="8.35" fill="#bfbfc0" />
<rect x="99.18" y="341.55" width="2.10" height="8.35" fill="#bfbfc0" />
<rect x="102.51" y="341.55" width="2.10" height="8.35" fill="#bfbfc0" />
<rect x="105.85" y="341.55" width="2.10" height="8.35" fill="#bfbfc0" />
<rect x="109.18" y="341.55" width="2.10" height="8.35" fill="#bfbfc0" />
<rect x="112.51" y="341.55" width="2.10" height="8.35" fill="#bfbfc0" />
<rect x="115.84" y="341.55" width="2.10" height="8.35" fill="#bfbfc0" />
<rect x="119.17" y="341.55" width="2.10" height="8.35" fill="#bfbfc0" />
<rect x="122.51" y="341.55" width="2.10" height="8.35" fill="#bfbfc0" />
<rect x="125.84" y="341.55" width="2.10" height="8.35" fill="#bfbfc0" />
<rect x="129.17" y="341.55" width="2.10" height="8.35" fill="#bfbfc0" />
<rect x="132.50" y="341.55" width="2.10" height="8.35" fill="#bfbfc0" />
<rect x="135.83" y="341.55" width="2.10" height="8.35" fill="#bfbfc0" />
<rect x="139.17" y="341.55" width="2.10" height="8.35" fill="#bfbfc0" />
<rect x="142.50" y="341.55" width="2.10" height="8.35" fill="#bfbfc0" />
<rect x="145.83" y="341.55" width="2.10" height="8.35" fill="#bfbfc0" />
<rect x="149.16" y="341.55" width="2.10" height="8.35" fill="#bfbfc0" />
<rect x="152.49" y="341.55" width="2.10" height="8.35" fill="#bfbfc0" />
<rect x="155.83" y="341.55" width="2.10" height="8.35" fill="#bfbfc0" />
<rect x="159.16" y="341.55" width="2.10" height="8.35" fill="#bfbfc0" />
<rect x="162.49" y="341.55" width="2.10" height="8.35" fill="#bfbfc0" />
<rect x="165.82" y="341.55" width="2.10" height="8.35" fill="#bfbfc0" />
<rect x="169.15" y="341.55" width="2.10" height="8.35" fill="#bfbfc0" />
<rect x="172.49" y="341.55" width="2.10" height="8.35" fill="#bfbfc0" />
<rect x="175.82" y="341.55" width="2.10" height="8.35" fill="#bfbfc0" />
<rect x="179.15" y="341.55" width="2.10" height="8.35" fill="#bfbfc0" />
<rect x="182.48" y="341.55" width="2.10" height="8.35" fill="#bfbfc0" />
<rect x="185.81" y="341.55" width="2.10" height="8.35" fill="#bfbfc0" />
<rect x="189.15" y="341.55" width="2.10" height="8.35" fill="#bfbfc0" />
<rect x="192.48" y="341.55" width="2.10" height="8.35" fill="#bfbfc0" />
<rect x="195.81" y="341.55" width="2.10" height="8.35" fill="#bfbfc0" />
<rect x="199.14" y="341.55" width="2.10" height="8.35" fill="#bfbfc0" />
<rect x="202.47" y="341.55" width="2.10" height="8.35" fill="#bfbfc0" />
<rect x="205.81" y="341.55" width="2.10" height="8.35" fill="#bfbfc0" />
<rect x="209.14" y="341.55" width="2.10" height="8.35" fill="#bfbfc0" />
<rect x="212.47" y="341.55" width="2.10" height="8.35" fill="#bfbfc0" />
<rect x="215.80" y="341.55" width="2.10" height="8.35" fill="#bfbfc0" />
<rect x="219.13" y="341.55" width="2.10" height="8.35" fill="#bfbfc0" />
<rect x="222.47" y="341.55" width="2.10" height="8.35" fill="#bfbfc0" />
<rect x="225.80" y="341.55" width="2.10" height="8.35" fill="#bfbfc0" />
<rect x="229.13" y="341.55" width="2.10" height="8.35" fill="#bfbfc0" />
<rect x="232.46" y="341.55" width="2.10" height="8.35" fill="#bfbfc0" />
<rect x="235.79" y="341.55" width="2.10" height="8.35" fill="#bfbfc0" />
<rect x="239.13" y="341.55" width="2.10" height="8.35" fill="#bfbfc0" />
<rect x="242.46" y="341.55" width="2.10" height="8.35" fill="#bfbfc0" />
<rect x="245.79" y="341.55" width="2.10" height="8.35" fill="#bfbfc0" />
<rect x="249.12" y="341.55" width="2.10" height="8.35" fill="#bfbfc0" />
<rect x="252.45" y="341.55" width="2.10" height="8.35" fill="#bfbfc0" />
<rect x="255.79" y="341.55" width="2.10" height="8.35" fill="#bfbfc0" />
<rect x="259.12" y="341.55" width="2.10" height="8.35" fill="#bfbfc0" />
<rect x="262.45" y="341.55" width="2.10" height="8.35" fill="#bfbfc0" />
<rect x="265.78" y="341.55" width="2.10" height="8.35" fill="#bfbfc0" />
<rect x="269.11" y="341.55" width="2.10" height="8.35" fill="#bfbfc0" />
<rect x="272.45" y="341.55" width="2.10" height="8.35" fill="#bfbfc0" />
<rect x="275.78" y="341.55" width="2.10" height="8.35" fill="#bfbfc0" />
<rect x="279.11" y="341.55" width="2.10" height="8.35" fill="#bfbfc0" />
<rect x="282.44" y="341.55" width="2.10" height="8.35" fill="#bfbfc0" />
<rect x="285.77" y="341.55" width="2.10" height="8.35" fill="#bfbfc0" />
<rect x="289.11" y="341.55" width="2.10" height="8.35" fill="#bfbfc0" />
<rect x="292.44" y="341.55" width="2.10" height="8.35" fill="#bfbfc0" />
<rect x="295.77" y="341.55" width="2.10" height="8.35" fill="#bfbfc0" />
<rect x="299.10" y="341.55" width="2.10" height="8.35" fill="#bfbfc0" />
<rect x="302.43" y="341.55" width="2.10" height="8.35" fill="#bfbfc0" />
<rect x="305.77" y="341.55" width="2.10" height="8.35" fill="#bfbfc0" />
<rect x="309.10" y="341.55" width="2.10" height="8.35" fill="#bfbfc0" />
<rect x="312.43" y="341.55" width="2.10" height="8.35" fill="#bfbfc0" />
<rect x="315.76" y="341.55" width="2.10" height="8.35" fill="#bfbfc0" />
<rect x="319.09" y="341.55" width="2.10" height="8.35" fill="#bfbfc0" />
<rect x="322.43" y="341.55" width="2.10" height="8.35" fill="#bfbfc0" />
<rect x="325.76" y="341.55" width="2.10" height="8.35" fill="#bfbfc0" />
<rect x="329.09" y="341.55" width="2.10" height="8.35" fill="#bfbfc0" />
<rect x="332.42" y="341.55" width="2.10" height="8.35" fill="#bfbfc0" />
<rect x="335.75" y="341.55" width="2.10" height="8.35" fill="#bfbfc0" />
<rect x="339.09" y="341.55" width="2.10" height="8.35" fill="#bfbfc0" />
<rect x="342.42" y="341.55" width="2.10" height="8.35" fill="#bfbfc0" />
<rect x="345.75" y="341.55" width="2.10" height="8.35" fill="#bfbfc0" />
<rect x="349.08" y="341.55" width="2.10" height="8.35" fill="#bfbfc0" />
<rect x="352.41" y="341.55" width="2.10" height="8.35" fill="#bfbfc0" />
<rect x="355.75" y="341.55" width="2.10" height="8.35" fill="#bfbfc0" />
<rect x="359.08" y="341.55" width="2.10" height="8.35" fill="#bfbfc0" />
<rect x="362.41" y="341.55" width="2.10" height="8.35" fill="#bfbfc0" />
<rect x="365.74" y="341.55" width="2.10" height="8.35" fill="#bfbfc0" />
<rect x="369.07" y="341.55" width="2.10" height="8.35" fill="#bfbfc0" />
<rect x="372.41" y="341.55" width="2.10" height="8.35" fill="#bfbfc0" />
<rect x="375.74" y="341.55" width="2.10" height="8.35" fill="#bfbfc0" />
<rect x="102.51" y="344.05" width="2.10" height="3.10" fill="#2a1a12" />
<rect x="239.13" y="344.05" width="2.10" height="3.10" fill="#2a1a12" />
<rect x="269.11" y="344.05" width="2.10" height="3.10" fill="#2a1a12" />
<rect x="272.45" y="344.05" width="2.10" height="3.10" fill="#2a1a12" />
<rect x="275.78" y="344.05" width="2.10" height="3.10" fill="#4a5a2a" />
<text x="92.80" y="359.96" font-size="7.45" text-anchor="end" font-weight="normal" fill="#2b2b2b" stroke="#2b2b2b" stroke-width="0.22" >TP53</text>
<rect x="95.23" y="355.56" width="3.33" height="4.75" fill="#98ee98" />
<rect x="161.87" y="355.56" width="3.33" height="4.75" fill="#e8c8a8" />
<rect x="165.21" y="355.56" width="3.33" height="4.75" fill="#98ee98" />
<rect x="168.54" y="355.56" width="3.33" height="4.75" fill="#98ee98" />
<rect x="171.87" y="355.56" width="3.33" height="4.75" fill="#98ee98" />
<rect x="175.20" y="355.56" width="3.33" height="4.75" fill="#98ee98" />
<rect x="208.52" y="355.56" width="3.33" height="4.75" fill="#98ee98" />
<rect x="275.16" y="355.56" width="3.33" height="4.75" fill="#98ee98" />
<rect x="278.49" y="355.56" width="3.33" height="4.75" fill="#98ee98" />
<rect x="281.83" y="355.56" width="3.33" height="4.75" fill="#98ee98" />
<rect x="95.85" y="353.76" width="2.10" height="8.35" fill="#bfbfc0" />
<rect x="99.18" y="353.76" width="2.10" height="8.35" fill="#bfbfc0" />
<rect x="102.51" y="353.76" width="2.10" height="8.35" fill="#bfbfc0" />
<rect x="105.85" y="353.76" width="2.10" height="8.35" fill="#bfbfc0" />
<rect x="109.18" y="353.76" width="2.10" height="8.35" fill="#bfbfc0" />
<rect x="112.51" y="353.76" width="2.10" height="8.35" fill="#bfbfc0" />
<rect x="115.84" y="353.76" width="2.10" height="8.35" fill="#bfbfc0" />
<rect x="119.17" y="353.76" width="2.10" height="8.35" fill="#bfbfc0" />
<rect x="122.51" y="353.76" width="2.10" height="8.35" fill="#bfbfc0" />
<rect x="125.84" y="353.76" width="2.10" height="8.35" fill="#bfbfc0" />
<rect x="129.17" y="353.76" width="2.10" height="8.35" fill="#bfbfc0" />
<rect x="132.50" y="353.76" width="2.10" height="8.35" fill="#bfbfc0" />
<rect x="135.83" y="353.76" width="2.10" height="8.35" fill="#bfbfc0" />
<rect x="139.17" y="353.76" width="2.10" height="8.35" fill="#bfbfc0" />
<rect x="142.50" y="353.76" width="2.10" height="8.35" fill="#bfbfc0" />
<rect x="145.83" y="353.76" width="2.10" height="8.35" fill="#bfbfc0" />
<rect x="149.16" y="353.76" width="2.10" height="8.35" fill="#bfbfc0" />
<rect x="152.49" y="353.76" width="2.10" height="8.35" fill="#bfbfc0" />
<rect x="155.83" y="353.76" width="2.10" height="8.35" fill="#bfbfc0" />
<rect x="159.16" y="353.76" width="2.10" height="8.35" fill="#bfbfc0" />
<rect x="162.49" y="353.76" width="2.10" height="8.35" fill="#bfbfc0" />
<rect x="165.82" y="353.76" width="2.10" height="8.35" fill="#bfbfc0" />
<rect x="169.15" y="353.76" width="2.10" height="8.35" fill="#bfbfc0" />
<rect x="172.49" y="353.76" width="2.10" height="8.35" fill="#bfbfc0" />
<rect x="175.82" y="353.76" width="2.10" height="8.35" fill="#bfbfc0" />
<rect x="179.15" y="353.76" width="2.10" height="8.35" fill="#bfbfc0" />
<rect x="182.48" y="353.76" width="2.10" height="8.35" fill="#bfbfc0" />
<rect x="185.81" y="353.76" width="2.10" height="8.35" fill="#bfbfc0" />
<rect x="189.15" y="353.76" width="2.10" height="8.35" fill="#bfbfc0" />
<rect x="192.48" y="353.76" width="2.10" height="8.35" fill="#bfbfc0" />
<rect x="195.81" y="353.76" width="2.10" height="8.35" fill="#bfbfc0" />
<rect x="199.14" y="353.76" width="2.10" height="8.35" fill="#bfbfc0" />
<rect x="202.47" y="353.76" width="2.10" height="8.35" fill="#bfbfc0" />
<rect x="205.81" y="353.76" width="2.10" height="8.35" fill="#bfbfc0" />
<rect x="209.14" y="353.76" width="2.10" height="8.35" fill="#bfbfc0" />
<rect x="212.47" y="353.76" width="2.10" height="8.35" fill="#bfbfc0" />
<rect x="215.80" y="353.76" width="2.10" height="8.35" fill="#bfbfc0" />
<rect x="219.13" y="353.76" width="2.10" height="8.35" fill="#bfbfc0" />
<rect x="222.47" y="353.76" width="2.10" height="8.35" fill="#bfbfc0" />
<rect x="225.80" y="353.76" width="2.10" height="8.35" fill="#bfbfc0" />
<rect x="229.13" y="353.76" width="2.10" height="8.35" fill="#bfbfc0" />
<rect x="232.46" y="353.76" width="2.10" height="8.35" fill="#bfbfc0" />
<rect x="235.79" y="353.76" width="2.10" height="8.35" fill="#bfbfc0" />
<rect x="239.13" y="353.76" width="2.10" height="8.35" fill="#bfbfc0" />
<rect x="242.46" y="353.76" width="2.10" height="8.35" fill="#bfbfc0" />
<rect x="245.79" y="353.76" width="2.10" height="8.35" fill="#bfbfc0" />
<rect x="249.12" y="353.76" width="2.10" height="8.35" fill="#bfbfc0" />
<rect x="252.45" y="353.76" width="2.10" height="8.35" fill="#bfbfc0" />
<rect x="255.79" y="353.76" width="2.10" height="8.35" fill="#bfbfc0" />
<rect x="259.12" y="353.76" width="2.10" height="8.35" fill="#bfbfc0" />
<rect x="262.45" y="353.76" width="2.10" height="8.35" fill="#bfbfc0" />
<rect x="265.78" y="353.76" width="2.10" height="8.35" fill="#bfbfc0" />
<rect x="269.11" y="353.76" width="2.10" height="8.35" fill="#bfbfc0" />
<rect x="272.45" y="353.76" width="2.10" height="8.35" fill="#bfbfc0" />
<rect x="275.78" y="353.76" width="2.10" height="8.35" fill="#bfbfc0" />
<rect x="279.11" y="353.76" width="2.10" height="8.35" fill="#bfbfc0" />
<rect x="282.44" y="353.76" width="2.10" height="8.35" fill="#bfbfc0" />
<rect x="285.77" y="353.76" width="2.10" height="8.35" fill="#bfbfc0" />
<rect x="289.11" y="353.76" width="2.10" height="8.35" fill="#bfbfc0" />
<rect x="292.44" y="353.76" width="2.10" height="8.35" fill="#bfbfc0" />
<rect x="295.77" y="353.76" width="2.10" height="8.35" fill="#bfbfc0" />
<rect x="299.10" y="353.76" width="2.10" height="8.35" fill="#bfbfc0" />
<rect x="302.43" y="353.76" width="2.10" height="8.35" fill="#bfbfc0" />
<rect x="305.77" y="353.76" width="2.10" height="8.35" fill="#bfbfc0" />
<rect x="309.10" y="353.76" width="2.10" height="8.35" fill="#bfbfc0" />
<rect x="312.43" y="353.76" width="2.10" height="8.35" fill="#bfbfc0" />
<rect x="315.76" y="353.76" width="2.10" height="8.35" fill="#bfbfc0" />
<rect x="319.09" y="353.76" width="2.10" height="8.35" fill="#bfbfc0" />
<rect x="322.43" y="353.76" width="2.10" height="8.35" fill="#bfbfc0" />
<rect x="325.76" y="353.76" width="2.10" height="8.35" fill="#bfbfc0" />
<rect x="329.09" y="353.76" width="2.10" height="8.35" fill="#bfbfc0" />
<rect x="332.42" y="353.76" width="2.10" height="8.35" fill="#bfbfc0" />
<rect x="335.75" y="353.76" width="2.10" height="8.35" fill="#bfbfc0" />
<rect x="339.09" y="353.76" width="2.10" height="8.35" fill="#bfbfc0" />
<rect x="342.42" y="353.76" width="2.10" height="8.35" fill="#bfbfc0" />
<rect x="345.75" y="353.76" width="2.10" height="8.35" fill="#bfbfc0" />
<rect x="349.08" y="353.76" width="2.10" height="8.35" fill="#bfbfc0" />
<rect x="352.41" y="353.76" width="2.10" height="8.35" fill="#bfbfc0" />
<rect x="355.75" y="353.76" width="2.10" height="8.35" fill="#bfbfc0" />
<rect x="359.08" y="353.76" width="2.10" height="8.35" fill="#bfbfc0" />
<rect x="362.41" y="353.76" width="2.10" height="8.35" fill="#bfbfc0" />
<rect x="365.74" y="353.76" width="2.10" height="8.35" fill="#bfbfc0" />
<rect x="369.07" y="353.76" width="2.10" height="8.35" fill="#bfbfc0" />
<rect x="372.41" y="353.76" width="2.10" height="8.35" fill="#bfbfc0" />
<rect x="375.74" y="353.76" width="2.10" height="8.35" fill="#bfbfc0" />
<rect x="95.85" y="356.26" width="2.10" height="3.10" fill="#1b6a2a" />
<rect x="162.49" y="356.26" width="2.10" height="3.10" fill="#2a1a12" />
<rect x="165.82" y="356.26" width="2.10" height="3.10" fill="#1b6a2a" />
<rect x="169.15" y="356.26" width="2.10" height="3.10" fill="#1b6a2a" />
<rect x="172.49" y="356.26" width="2.10" height="3.10" fill="#1b6a2a" />
<rect x="175.82" y="356.26" width="2.10" height="3.10" fill="#1b6a2a" />
<rect x="209.14" y="356.26" width="2.10" height="3.10" fill="#1b6a2a" />
<rect x="275.78" y="356.26" width="2.10" height="3.10" fill="#1b6a2a" />
<rect x="279.11" y="356.26" width="2.10" height="3.10" fill="#1b6a2a" />
<rect x="282.44" y="356.26" width="2.10" height="3.10" fill="#1b6a2a" />
<text x="92.80" y="372.17" font-size="7.45" text-anchor="end" font-weight="normal" fill="#2b2b2b" stroke="#2b2b2b" stroke-width="0.22" >PTEN</text>
<rect x="178.53" y="367.77" width="3.33" height="4.75" fill="#98ee98" />
<rect x="205.19" y="367.77" width="3.33" height="4.75" fill="#e8c8a8" />
<rect x="271.83" y="367.77" width="3.33" height="4.75" fill="#98ee98" />
<rect x="285.16" y="367.77" width="3.33" height="4.75" fill="#c8d0e0" />
<rect x="95.85" y="365.97" width="2.10" height="8.35" fill="#bfbfc0" />
<rect x="99.18" y="365.97" width="2.10" height="8.35" fill="#bfbfc0" />
<rect x="102.51" y="365.97" width="2.10" height="8.35" fill="#bfbfc0" />
<rect x="105.85" y="365.97" width="2.10" height="8.35" fill="#bfbfc0" />
<rect x="109.18" y="365.97" width="2.10" height="8.35" fill="#bfbfc0" />
<rect x="112.51" y="365.97" width="2.10" height="8.35" fill="#bfbfc0" />
<rect x="115.84" y="365.97" width="2.10" height="8.35" fill="#bfbfc0" />
<rect x="119.17" y="365.97" width="2.10" height="8.35" fill="#bfbfc0" />
<rect x="122.51" y="365.97" width="2.10" height="8.35" fill="#bfbfc0" />
<rect x="125.84" y="365.97" width="2.10" height="8.35" fill="#bfbfc0" />
<rect x="129.17" y="365.97" width="2.10" height="8.35" fill="#bfbfc0" />
<rect x="132.50" y="365.97" width="2.10" height="8.35" fill="#bfbfc0" />
<rect x="135.83" y="365.97" width="2.10" height="8.35" fill="#bfbfc0" />
<rect x="139.17" y="365.97" width="2.10" height="8.35" fill="#bfbfc0" />
<rect x="142.50" y="365.97" width="2.10" height="8.35" fill="#bfbfc0" />
<rect x="145.83" y="365.97" width="2.10" height="8.35" fill="#bfbfc0" />
<rect x="149.16" y="365.97" width="2.10" height="8.35" fill="#bfbfc0" />
<rect x="152.49" y="365.97" width="2.10" height="8.35" fill="#bfbfc0" />
<rect x="155.83" y="365.97" width="2.10" height="8.35" fill="#bfbfc0" />
<rect x="159.16" y="365.97" width="2.10" height="8.35" fill="#bfbfc0" />
<rect x="162.49" y="365.97" width="2.10" height="8.35" fill="#bfbfc0" />
<rect x="165.82" y="365.97" width="2.10" height="8.35" fill="#bfbfc0" />
<rect x="169.15" y="365.97" width="2.10" height="8.35" fill="#bfbfc0" />
<rect x="172.49" y="365.97" width="2.10" height="8.35" fill="#bfbfc0" />
<rect x="175.82" y="365.97" width="2.10" height="8.35" fill="#bfbfc0" />
<rect x="179.15" y="365.97" width="2.10" height="8.35" fill="#bfbfc0" />
<rect x="182.48" y="365.97" width="2.10" height="8.35" fill="#bfbfc0" />
<rect x="185.81" y="365.97" width="2.10" height="8.35" fill="#bfbfc0" />
<rect x="189.15" y="365.97" width="2.10" height="8.35" fill="#bfbfc0" />
<rect x="192.48" y="365.97" width="2.10" height="8.35" fill="#bfbfc0" />
<rect x="195.81" y="365.97" width="2.10" height="8.35" fill="#bfbfc0" />
<rect x="199.14" y="365.97" width="2.10" height="8.35" fill="#bfbfc0" />
<rect x="202.47" y="365.97" width="2.10" height="8.35" fill="#bfbfc0" />
<rect x="205.81" y="365.97" width="2.10" height="8.35" fill="#bfbfc0" />
<rect x="209.14" y="365.97" width="2.10" height="8.35" fill="#bfbfc0" />
<rect x="212.47" y="365.97" width="2.10" height="8.35" fill="#bfbfc0" />
<rect x="215.80" y="365.97" width="2.10" height="8.35" fill="#bfbfc0" />
<rect x="219.13" y="365.97" width="2.10" height="8.35" fill="#bfbfc0" />
<rect x="222.47" y="365.97" width="2.10" height="8.35" fill="#bfbfc0" />
<rect x="225.80" y="365.97" width="2.10" height="8.35" fill="#bfbfc0" />
<rect x="229.13" y="365.97" width="2.10" height="8.35" fill="#bfbfc0" />
<rect x="232.46" y="365.97" width="2.10" height="8.35" fill="#bfbfc0" />
<rect x="235.79" y="365.97" width="2.10" height="8.35" fill="#bfbfc0" />
<rect x="239.13" y="365.97" width="2.10" height="8.35" fill="#bfbfc0" />
<rect x="242.46" y="365.97" width="2.10" height="8.35" fill="#bfbfc0" />
<rect x="245.79" y="365.97" width="2.10" height="8.35" fill="#bfbfc0" />
<rect x="249.12" y="365.97" width="2.10" height="8.35" fill="#bfbfc0" />
<rect x="252.45" y="365.97" width="2.10" height="8.35" fill="#bfbfc0" />
<rect x="255.79" y="365.97" width="2.10" height="8.35" fill="#bfbfc0" />
<rect x="259.12" y="365.97" width="2.10" height="8.35" fill="#bfbfc0" />
<rect x="262.45" y="365.97" width="2.10" height="8.35" fill="#bfbfc0" />
<rect x="265.78" y="365.97" width="2.10" height="8.35" fill="#bfbfc0" />
<rect x="269.11" y="365.97" width="2.10" height="8.35" fill="#bfbfc0" />
<rect x="272.45" y="365.97" width="2.10" height="8.35" fill="#bfbfc0" />
<rect x="275.78" y="365.97" width="2.10" height="8.35" fill="#bfbfc0" />
<rect x="279.11" y="365.97" width="2.10" height="8.35" fill="#bfbfc0" />
<rect x="282.44" y="365.97" width="2.10" height="8.35" fill="#bfbfc0" />
<rect x="285.77" y="365.97" width="2.10" height="8.35" fill="#bfbfc0" />
<rect x="289.11" y="365.97" width="2.10" height="8.35" fill="#bfbfc0" />
<rect x="292.44" y="365.97" width="2.10" height="8.35" fill="#bfbfc0" />
<rect x="295.77" y="365.97" width="2.10" height="8.35" fill="#bfbfc0" />
<rect x="299.10" y="365.97" width="2.10" height="8.35" fill="#bfbfc0" />
<rect x="302.43" y="365.97" width="2.10" height="8.35" fill="#bfbfc0" />
<rect x="305.77" y="365.97" width="2.10" height="8.35" fill="#bfbfc0" />
<rect x="309.10" y="365.97" width="2.10" height="8.35" fill="#bfbfc0" />
<rect x="312.43" y="365.97" width="2.10" height="8.35" fill="#bfbfc0" />
<rect x="315.76" y="365.97" width="2.10" height="8.35" fill="#bfbfc0" />
<rect x="319.09" y="365.97" width="2.10" height="8.35" fill="#bfbfc0" />
<rect x="322.43" y="365.97" width="2.10" height="8.35" fill="#bfbfc0" />
<rect x="325.76" y="365.97" width="2.10" height="8.35" fill="#bfbfc0" />
<rect x="329.09" y="365.97" width="2.10" height="8.35" fill="#bfbfc0" />
<rect x="332.42" y="365.97" width="2.10" height="8.35" fill="#bfbfc0" />
<rect x="335.75" y="365.97" width="2.10" height="8.35" fill="#bfbfc0" />
<rect x="339.09" y="365.97" width="2.10" height="8.35" fill="#bfbfc0" />
<rect x="342.42" y="365.97" width="2.10" height="8.35" fill="#bfbfc0" />
<rect x="345.75" y="365.97" width="2.10" height="8.35" fill="#bfbfc0" />
<rect x="349.08" y="365.97" width="2.10" height="8.35" fill="#bfbfc0" />
<rect x="352.41" y="365.97" width="2.10" height="8.35" fill="#bfbfc0" />
<rect x="355.75" y="365.97" width="2.10" height="8.35" fill="#bfbfc0" />
<rect x="359.08" y="365.97" width="2.10" height="8.35" fill="#bfbfc0" />
<rect x="362.41" y="365.97" width="2.10" height="8.35" fill="#bfbfc0" />
<rect x="365.74" y="365.97" width="2.10" height="8.35" fill="#bfbfc0" />
<rect x="369.07" y="365.97" width="2.10" height="8.35" fill="#bfbfc0" />
<rect x="372.41" y="365.97" width="2.10" height="8.35" fill="#bfbfc0" />
<rect x="375.74" y="365.97" width="2.10" height="8.35" fill="#bfbfc0" />
<rect x="179.15" y="368.47" width="2.10" height="3.10" fill="#1b6a2a" />
<rect x="205.81" y="368.47" width="2.10" height="3.10" fill="#2a1a12" />
<rect x="272.45" y="368.47" width="2.10" height="3.10" fill="#1b6a2a" />
<rect x="285.77" y="368.47" width="2.10" height="3.10" fill="#1c2a40" />
<text x="92.80" y="384.38" font-size="7.45" text-anchor="end" font-weight="normal" fill="#2b2b2b" stroke="#2b2b2b" stroke-width="0.22" >TET2</text>
<rect x="158.54" y="379.98" width="3.33" height="4.75" fill="#98ee98" />
<rect x="235.18" y="379.98" width="3.33" height="4.75" fill="#e8c8a8" />
<rect x="288.49" y="379.98" width="3.33" height="4.75" fill="#e8c8a8" />
<rect x="291.82" y="379.98" width="3.33" height="4.75" fill="#e8c8a8" />
<rect x="95.85" y="378.18" width="2.10" height="8.35" fill="#bfbfc0" />
<rect x="99.18" y="378.18" width="2.10" height="8.35" fill="#bfbfc0" />
<rect x="102.51" y="378.18" width="2.10" height="8.35" fill="#bfbfc0" />
<rect x="105.85" y="378.18" width="2.10" height="8.35" fill="#bfbfc0" />
<rect x="109.18" y="378.18" width="2.10" height="8.35" fill="#bfbfc0" />
<rect x="112.51" y="378.18" width="2.10" height="8.35" fill="#bfbfc0" />
<rect x="115.84" y="378.18" width="2.10" height="8.35" fill="#bfbfc0" />
<rect x="119.17" y="378.18" width="2.10" height="8.35" fill="#bfbfc0" />
<rect x="122.51" y="378.18" width="2.10" height="8.35" fill="#bfbfc0" />
<rect x="125.84" y="378.18" width="2.10" height="8.35" fill="#bfbfc0" />
<rect x="129.17" y="378.18" width="2.10" height="8.35" fill="#bfbfc0" />
<rect x="132.50" y="378.18" width="2.10" height="8.35" fill="#bfbfc0" />
<rect x="135.83" y="378.18" width="2.10" height="8.35" fill="#bfbfc0" />
<rect x="139.17" y="378.18" width="2.10" height="8.35" fill="#bfbfc0" />
<rect x="142.50" y="378.18" width="2.10" height="8.35" fill="#bfbfc0" />
<rect x="145.83" y="378.18" width="2.10" height="8.35" fill="#bfbfc0" />
<rect x="149.16" y="378.18" width="2.10" height="8.35" fill="#bfbfc0" />
<rect x="152.49" y="378.18" width="2.10" height="8.35" fill="#bfbfc0" />
<rect x="155.83" y="378.18" width="2.10" height="8.35" fill="#bfbfc0" />
<rect x="159.16" y="378.18" width="2.10" height="8.35" fill="#bfbfc0" />
<rect x="162.49" y="378.18" width="2.10" height="8.35" fill="#bfbfc0" />
<rect x="165.82" y="378.18" width="2.10" height="8.35" fill="#bfbfc0" />
<rect x="169.15" y="378.18" width="2.10" height="8.35" fill="#bfbfc0" />
<rect x="172.49" y="378.18" width="2.10" height="8.35" fill="#bfbfc0" />
<rect x="175.82" y="378.18" width="2.10" height="8.35" fill="#bfbfc0" />
<rect x="179.15" y="378.18" width="2.10" height="8.35" fill="#bfbfc0" />
<rect x="182.48" y="378.18" width="2.10" height="8.35" fill="#bfbfc0" />
<rect x="185.81" y="378.18" width="2.10" height="8.35" fill="#bfbfc0" />
<rect x="189.15" y="378.18" width="2.10" height="8.35" fill="#bfbfc0" />
<rect x="192.48" y="378.18" width="2.10" height="8.35" fill="#bfbfc0" />
<rect x="195.81" y="378.18" width="2.10" height="8.35" fill="#bfbfc0" />
<rect x="199.14" y="378.18" width="2.10" height="8.35" fill="#bfbfc0" />
<rect x="202.47" y="378.18" width="2.10" height="8.35" fill="#bfbfc0" />
<rect x="205.81" y="378.18" width="2.10" height="8.35" fill="#bfbfc0" />
<rect x="209.14" y="378.18" width="2.10" height="8.35" fill="#bfbfc0" />
<rect x="212.47" y="378.18" width="2.10" height="8.35" fill="#bfbfc0" />
<rect x="215.80" y="378.18" width="2.10" height="8.35" fill="#bfbfc0" />
<rect x="219.13" y="378.18" width="2.10" height="8.35" fill="#bfbfc0" />
<rect x="222.47" y="378.18" width="2.10" height="8.35" fill="#bfbfc0" />
<rect x="225.80" y="378.18" width="2.10" height="8.35" fill="#bfbfc0" />
<rect x="229.13" y="378.18" width="2.10" height="8.35" fill="#bfbfc0" />
<rect x="232.46" y="378.18" width="2.10" height="8.35" fill="#bfbfc0" />
<rect x="235.79" y="378.18" width="2.10" height="8.35" fill="#bfbfc0" />
<rect x="239.13" y="378.18" width="2.10" height="8.35" fill="#bfbfc0" />
<rect x="242.46" y="378.18" width="2.10" height="8.35" fill="#bfbfc0" />
<rect x="245.79" y="378.18" width="2.10" height="8.35" fill="#bfbfc0" />
<rect x="249.12" y="378.18" width="2.10" height="8.35" fill="#bfbfc0" />
<rect x="252.45" y="378.18" width="2.10" height="8.35" fill="#bfbfc0" />
<rect x="255.79" y="378.18" width="2.10" height="8.35" fill="#bfbfc0" />
<rect x="259.12" y="378.18" width="2.10" height="8.35" fill="#bfbfc0" />
<rect x="262.45" y="378.18" width="2.10" height="8.35" fill="#bfbfc0" />
<rect x="265.78" y="378.18" width="2.10" height="8.35" fill="#bfbfc0" />
<rect x="269.11" y="378.18" width="2.10" height="8.35" fill="#bfbfc0" />
<rect x="272.45" y="378.18" width="2.10" height="8.35" fill="#bfbfc0" />
<rect x="275.78" y="378.18" width="2.10" height="8.35" fill="#bfbfc0" />
<rect x="279.11" y="378.18" width="2.10" height="8.35" fill="#bfbfc0" />
<rect x="282.44" y="378.18" width="2.10" height="8.35" fill="#bfbfc0" />
<rect x="285.77" y="378.18" width="2.10" height="8.35" fill="#bfbfc0" />
<rect x="289.11" y="378.18" width="2.10" height="8.35" fill="#bfbfc0" />
<rect x="292.44" y="378.18" width="2.10" height="8.35" fill="#bfbfc0" />
<rect x="295.77" y="378.18" width="2.10" height="8.35" fill="#bfbfc0" />
<rect x="299.10" y="378.18" width="2.10" height="8.35" fill="#bfbfc0" />
<rect x="302.43" y="378.18" width="2.10" height="8.35" fill="#bfbfc0" />
<rect x="305.77" y="378.18" width="2.10" height="8.35" fill="#bfbfc0" />
<rect x="309.10" y="378.18" width="2.10" height="8.35" fill="#bfbfc0" />
<rect x="312.43" y="378.18" width="2.10" height="8.35" fill="#bfbfc0" />
<rect x="315.76" y="378.18" width="2.10" height="8.35" fill="#bfbfc0" />
<rect x="319.09" y="378.18" width="2.10" height="8.35" fill="#bfbfc0" />
<rect x="322.43" y="378.18" width="2.10" height="8.35" fill="#bfbfc0" />
<rect x="325.76" y="378.18" width="2.10" height="8.35" fill="#bfbfc0" />
<rect x="329.09" y="378.18" width="2.10" height="8.35" fill="#bfbfc0" />
<rect x="332.42" y="378.18" width="2.10" height="8.35" fill="#bfbfc0" />
<rect x="335.75" y="378.18" width="2.10" height="8.35" fill="#bfbfc0" />
<rect x="339.09" y="378.18" width="2.10" height="8.35" fill="#bfbfc0" />
<rect x="342.42" y="378.18" width="2.10" height="8.35" fill="#bfbfc0" />
<rect x="345.75" y="378.18" width="2.10" height="8.35" fill="#bfbfc0" />
<rect x="349.08" y="378.18" width="2.10" height="8.35" fill="#bfbfc0" />
<rect x="352.41" y="378.18" width="2.10" height="8.35" fill="#bfbfc0" />
<rect x="355.75" y="378.18" width="2.10" height="8.35" fill="#bfbfc0" />
<rect x="359.08" y="378.18" width="2.10" height="8.35" fill="#bfbfc0" />
<rect x="362.41" y="378.18" width="2.10" height="8.35" fill="#bfbfc0" />
<rect x="365.74" y="378.18" width="2.10" height="8.35" fill="#bfbfc0" />
<rect x="369.07" y="378.18" width="2.10" height="8.35" fill="#bfbfc0" />
<rect x="372.41" y="378.18" width="2.10" height="8.35" fill="#bfbfc0" />
<rect x="375.74" y="378.18" width="2.10" height="8.35" fill="#bfbfc0" />
<rect x="159.16" y="380.68" width="2.10" height="3.10" fill="#1b6a2a" />
<rect x="235.79" y="380.68" width="2.10" height="3.10" fill="#2a1a12" />
<rect x="289.11" y="380.68" width="2.10" height="3.10" fill="#2a1a12" />
<rect x="292.44" y="380.68" width="2.10" height="3.10" fill="#2a1a12" />
<text x="92.80" y="396.59" font-size="7.45" text-anchor="end" font-weight="normal" fill="#2b2b2b" stroke="#2b2b2b" stroke-width="0.22" >ASXL1</text>
<rect x="215.19" y="392.19" width="3.33" height="4.75" fill="#e8c8a8" />
<rect x="301.82" y="392.19" width="3.33" height="4.75" fill="#e8c8a8" />
<rect x="305.15" y="392.19" width="3.33" height="4.75" fill="#e8c8a8" />
<rect x="95.85" y="390.39" width="2.10" height="8.35" fill="#bfbfc0" />
<rect x="99.18" y="390.39" width="2.10" height="8.35" fill="#bfbfc0" />
<rect x="102.51" y="390.39" width="2.10" height="8.35" fill="#bfbfc0" />
<rect x="105.85" y="390.39" width="2.10" height="8.35" fill="#bfbfc0" />
<rect x="109.18" y="390.39" width="2.10" height="8.35" fill="#bfbfc0" />
<rect x="112.51" y="390.39" width="2.10" height="8.35" fill="#bfbfc0" />
<rect x="115.84" y="390.39" width="2.10" height="8.35" fill="#bfbfc0" />
<rect x="119.17" y="390.39" width="2.10" height="8.35" fill="#bfbfc0" />
<rect x="122.51" y="390.39" width="2.10" height="8.35" fill="#bfbfc0" />
<rect x="125.84" y="390.39" width="2.10" height="8.35" fill="#bfbfc0" />
<rect x="129.17" y="390.39" width="2.10" height="8.35" fill="#bfbfc0" />
<rect x="132.50" y="390.39" width="2.10" height="8.35" fill="#bfbfc0" />
<rect x="135.83" y="390.39" width="2.10" height="8.35" fill="#bfbfc0" />
<rect x="139.17" y="390.39" width="2.10" height="8.35" fill="#bfbfc0" />
<rect x="142.50" y="390.39" width="2.10" height="8.35" fill="#bfbfc0" />
<rect x="145.83" y="390.39" width="2.10" height="8.35" fill="#bfbfc0" />
<rect x="149.16" y="390.39" width="2.10" height="8.35" fill="#bfbfc0" />
<rect x="152.49" y="390.39" width="2.10" height="8.35" fill="#bfbfc0" />
<rect x="155.83" y="390.39" width="2.10" height="8.35" fill="#bfbfc0" />
<rect x="159.16" y="390.39" width="2.10" height="8.35" fill="#bfbfc0" />
<rect x="162.49" y="390.39" width="2.10" height="8.35" fill="#bfbfc0" />
<rect x="165.82" y="390.39" width="2.10" height="8.35" fill="#bfbfc0" />
<rect x="169.15" y="390.39" width="2.10" height="8.35" fill="#bfbfc0" />
<rect x="172.49" y="390.39" width="2.10" height="8.35" fill="#bfbfc0" />
<rect x="175.82" y="390.39" width="2.10" height="8.35" fill="#bfbfc0" />
<rect x="179.15" y="390.39" width="2.10" height="8.35" fill="#bfbfc0" />
<rect x="182.48" y="390.39" width="2.10" height="8.35" fill="#bfbfc0" />
<rect x="185.81" y="390.39" width="2.10" height="8.35" fill="#bfbfc0" />
<rect x="189.15" y="390.39" width="2.10" height="8.35" fill="#bfbfc0" />
<rect x="192.48" y="390.39" width="2.10" height="8.35" fill="#bfbfc0" />
<rect x="195.81" y="390.39" width="2.10" height="8.35" fill="#bfbfc0" />
<rect x="199.14" y="390.39" width="2.10" height="8.35" fill="#bfbfc0" />
<rect x="202.47" y="390.39" width="2.10" height="8.35" fill="#bfbfc0" />
<rect x="205.81" y="390.39" width="2.10" height="8.35" fill="#bfbfc0" />
<rect x="209.14" y="390.39" width="2.10" height="8.35" fill="#bfbfc0" />
<rect x="212.47" y="390.39" width="2.10" height="8.35" fill="#bfbfc0" />
<rect x="215.80" y="390.39" width="2.10" height="8.35" fill="#bfbfc0" />
<rect x="219.13" y="390.39" width="2.10" height="8.35" fill="#bfbfc0" />
<rect x="222.47" y="390.39" width="2.10" height="8.35" fill="#bfbfc0" />
<rect x="225.80" y="390.39" width="2.10" height="8.35" fill="#bfbfc0" />
<rect x="229.13" y="390.39" width="2.10" height="8.35" fill="#bfbfc0" />
<rect x="232.46" y="390.39" width="2.10" height="8.35" fill="#bfbfc0" />
<rect x="235.79" y="390.39" width="2.10" height="8.35" fill="#bfbfc0" />
<rect x="239.13" y="390.39" width="2.10" height="8.35" fill="#bfbfc0" />
<rect x="242.46" y="390.39" width="2.10" height="8.35" fill="#bfbfc0" />
<rect x="245.79" y="390.39" width="2.10" height="8.35" fill="#bfbfc0" />
<rect x="249.12" y="390.39" width="2.10" height="8.35" fill="#bfbfc0" />
<rect x="252.45" y="390.39" width="2.10" height="8.35" fill="#bfbfc0" />
<rect x="255.79" y="390.39" width="2.10" height="8.35" fill="#bfbfc0" />
<rect x="259.12" y="390.39" width="2.10" height="8.35" fill="#bfbfc0" />
<rect x="262.45" y="390.39" width="2.10" height="8.35" fill="#bfbfc0" />
<rect x="265.78" y="390.39" width="2.10" height="8.35" fill="#bfbfc0" />
<rect x="269.11" y="390.39" width="2.10" height="8.35" fill="#bfbfc0" />
<rect x="272.45" y="390.39" width="2.10" height="8.35" fill="#bfbfc0" />
<rect x="275.78" y="390.39" width="2.10" height="8.35" fill="#bfbfc0" />
<rect x="279.11" y="390.39" width="2.10" height="8.35" fill="#bfbfc0" />
<rect x="282.44" y="390.39" width="2.10" height="8.35" fill="#bfbfc0" />
<rect x="285.77" y="390.39" width="2.10" height="8.35" fill="#bfbfc0" />
<rect x="289.11" y="390.39" width="2.10" height="8.35" fill="#bfbfc0" />
<rect x="292.44" y="390.39" width="2.10" height="8.35" fill="#bfbfc0" />
<rect x="295.77" y="390.39" width="2.10" height="8.35" fill="#bfbfc0" />
<rect x="299.10" y="390.39" width="2.10" height="8.35" fill="#bfbfc0" />
<rect x="302.43" y="390.39" width="2.10" height="8.35" fill="#bfbfc0" />
<rect x="305.77" y="390.39" width="2.10" height="8.35" fill="#bfbfc0" />
<rect x="309.10" y="390.39" width="2.10" height="8.35" fill="#bfbfc0" />
<rect x="312.43" y="390.39" width="2.10" height="8.35" fill="#bfbfc0" />
<rect x="315.76" y="390.39" width="2.10" height="8.35" fill="#bfbfc0" />
<rect x="319.09" y="390.39" width="2.10" height="8.35" fill="#bfbfc0" />
<rect x="322.43" y="390.39" width="2.10" height="8.35" fill="#bfbfc0" />
<rect x="325.76" y="390.39" width="2.10" height="8.35" fill="#bfbfc0" />
<rect x="329.09" y="390.39" width="2.10" height="8.35" fill="#bfbfc0" />
<rect x="332.42" y="390.39" width="2.10" height="8.35" fill="#bfbfc0" />
<rect x="335.75" y="390.39" width="2.10" height="8.35" fill="#bfbfc0" />
<rect x="339.09" y="390.39" width="2.10" height="8.35" fill="#bfbfc0" />
<rect x="342.42" y="390.39" width="2.10" height="8.35" fill="#bfbfc0" />
<rect x="345.75" y="390.39" width="2.10" height="8.35" fill="#bfbfc0" />
<rect x="349.08" y="390.39" width="2.10" height="8.35" fill="#bfbfc0" />
<rect x="352.41" y="390.39" width="2.10" height="8.35" fill="#bfbfc0" />
<rect x="355.75" y="390.39" width="2.10" height="8.35" fill="#bfbfc0" />
<rect x="359.08" y="390.39" width="2.10" height="8.35" fill="#bfbfc0" />
<rect x="362.41" y="390.39" width="2.10" height="8.35" fill="#bfbfc0" />
<rect x="365.74" y="390.39" width="2.10" height="8.35" fill="#bfbfc0" />
<rect x="369.07" y="390.39" width="2.10" height="8.35" fill="#bfbfc0" />
<rect x="372.41" y="390.39" width="2.10" height="8.35" fill="#bfbfc0" />
<rect x="375.74" y="390.39" width="2.10" height="8.35" fill="#bfbfc0" />
<rect x="215.80" y="392.89" width="2.10" height="3.10" fill="#2a1a12" />
<rect x="302.43" y="392.89" width="2.10" height="3.10" fill="#2a1a12" />
<rect x="305.77" y="392.89" width="2.10" height="3.10" fill="#2a1a12" />
<text x="92.80" y="408.80" font-size="7.45" text-anchor="end" font-weight="normal" fill="#2b2b2b" stroke="#2b2b2b" stroke-width="0.22" >CBL</text>
<rect x="308.48" y="404.40" width="3.33" height="4.75" fill="#98ee98" />
<rect x="95.85" y="402.60" width="2.10" height="8.35" fill="#bfbfc0" />
<rect x="99.18" y="402.60" width="2.10" height="8.35" fill="#bfbfc0" />
<rect x="102.51" y="402.60" width="2.10" height="8.35" fill="#bfbfc0" />
<rect x="105.85" y="402.60" width="2.10" height="8.35" fill="#bfbfc0" />
<rect x="109.18" y="402.60" width="2.10" height="8.35" fill="#bfbfc0" />
<rect x="112.51" y="402.60" width="2.10" height="8.35" fill="#bfbfc0" />
<rect x="115.84" y="402.60" width="2.10" height="8.35" fill="#bfbfc0" />
<rect x="119.17" y="402.60" width="2.10" height="8.35" fill="#bfbfc0" />
<rect x="122.51" y="402.60" width="2.10" height="8.35" fill="#bfbfc0" />
<rect x="125.84" y="402.60" width="2.10" height="8.35" fill="#bfbfc0" />
<rect x="129.17" y="402.60" width="2.10" height="8.35" fill="#bfbfc0" />
<rect x="132.50" y="402.60" width="2.10" height="8.35" fill="#bfbfc0" />
<rect x="135.83" y="402.60" width="2.10" height="8.35" fill="#bfbfc0" />
<rect x="139.17" y="402.60" width="2.10" height="8.35" fill="#bfbfc0" />
<rect x="142.50" y="402.60" width="2.10" height="8.35" fill="#bfbfc0" />
<rect x="145.83" y="402.60" width="2.10" height="8.35" fill="#bfbfc0" />
<rect x="149.16" y="402.60" width="2.10" height="8.35" fill="#bfbfc0" />
<rect x="152.49" y="402.60" width="2.10" height="8.35" fill="#bfbfc0" />
<rect x="155.83" y="402.60" width="2.10" height="8.35" fill="#bfbfc0" />
<rect x="159.16" y="402.60" width="2.10" height="8.35" fill="#bfbfc0" />
<rect x="162.49" y="402.60" width="2.10" height="8.35" fill="#bfbfc0" />
<rect x="165.82" y="402.60" width="2.10" height="8.35" fill="#bfbfc0" />
<rect x="169.15" y="402.60" width="2.10" height="8.35" fill="#bfbfc0" />
<rect x="172.49" y="402.60" width="2.10" height="8.35" fill="#bfbfc0" />
<rect x="175.82" y="402.60" width="2.10" height="8.35" fill="#bfbfc0" />
<rect x="179.15" y="402.60" width="2.10" height="8.35" fill="#bfbfc0" />
<rect x="182.48" y="402.60" width="2.10" height="8.35" fill="#bfbfc0" />
<rect x="185.81" y="402.60" width="2.10" height="8.35" fill="#bfbfc0" />
<rect x="189.15" y="402.60" width="2.10" height="8.35" fill="#bfbfc0" />
<rect x="192.48" y="402.60" width="2.10" height="8.35" fill="#bfbfc0" />
<rect x="195.81" y="402.60" width="2.10" height="8.35" fill="#bfbfc0" />
<rect x="199.14" y="402.60" width="2.10" height="8.35" fill="#bfbfc0" />
<rect x="202.47" y="402.60" width="2.10" height="8.35" fill="#bfbfc0" />
<rect x="205.81" y="402.60" width="2.10" height="8.35" fill="#bfbfc0" />
<rect x="209.14" y="402.60" width="2.10" height="8.35" fill="#bfbfc0" />
<rect x="212.47" y="402.60" width="2.10" height="8.35" fill="#bfbfc0" />
<rect x="215.80" y="402.60" width="2.10" height="8.35" fill="#bfbfc0" />
<rect x="219.13" y="402.60" width="2.10" height="8.35" fill="#bfbfc0" />
<rect x="222.47" y="402.60" width="2.10" height="8.35" fill="#bfbfc0" />
<rect x="225.80" y="402.60" width="2.10" height="8.35" fill="#bfbfc0" />
<rect x="229.13" y="402.60" width="2.10" height="8.35" fill="#bfbfc0" />
<rect x="232.46" y="402.60" width="2.10" height="8.35" fill="#bfbfc0" />
<rect x="235.79" y="402.60" width="2.10" height="8.35" fill="#bfbfc0" />
<rect x="239.13" y="402.60" width="2.10" height="8.35" fill="#bfbfc0" />
<rect x="242.46" y="402.60" width="2.10" height="8.35" fill="#bfbfc0" />
<rect x="245.79" y="402.60" width="2.10" height="8.35" fill="#bfbfc0" />
<rect x="249.12" y="402.60" width="2.10" height="8.35" fill="#bfbfc0" />
<rect x="252.45" y="402.60" width="2.10" height="8.35" fill="#bfbfc0" />
<rect x="255.79" y="402.60" width="2.10" height="8.35" fill="#bfbfc0" />
<rect x="259.12" y="402.60" width="2.10" height="8.35" fill="#bfbfc0" />
<rect x="262.45" y="402.60" width="2.10" height="8.35" fill="#bfbfc0" />
<rect x="265.78" y="402.60" width="2.10" height="8.35" fill="#bfbfc0" />
<rect x="269.11" y="402.60" width="2.10" height="8.35" fill="#bfbfc0" />
<rect x="272.45" y="402.60" width="2.10" height="8.35" fill="#bfbfc0" />
<rect x="275.78" y="402.60" width="2.10" height="8.35" fill="#bfbfc0" />
<rect x="279.11" y="402.60" width="2.10" height="8.35" fill="#bfbfc0" />
<rect x="282.44" y="402.60" width="2.10" height="8.35" fill="#bfbfc0" />
<rect x="285.77" y="402.60" width="2.10" height="8.35" fill="#bfbfc0" />
<rect x="289.11" y="402.60" width="2.10" height="8.35" fill="#bfbfc0" />
<rect x="292.44" y="402.60" width="2.10" height="8.35" fill="#bfbfc0" />
<rect x="295.77" y="402.60" width="2.10" height="8.35" fill="#bfbfc0" />
<rect x="299.10" y="402.60" width="2.10" height="8.35" fill="#bfbfc0" />
<rect x="302.43" y="402.60" width="2.10" height="8.35" fill="#bfbfc0" />
<rect x="305.77" y="402.60" width="2.10" height="8.35" fill="#bfbfc0" />
<rect x="309.10" y="402.60" width="2.10" height="8.35" fill="#bfbfc0" />
<rect x="312.43" y="402.60" width="2.10" height="8.35" fill="#bfbfc0" />
<rect x="315.76" y="402.60" width="2.10" height="8.35" fill="#bfbfc0" />
<rect x="319.09" y="402.60" width="2.10" height="8.35" fill="#bfbfc0" />
<rect x="322.43" y="402.60" width="2.10" height="8.35" fill="#bfbfc0" />
<rect x="325.76" y="402.60" width="2.10" height="8.35" fill="#bfbfc0" />
<rect x="329.09" y="402.60" width="2.10" height="8.35" fill="#bfbfc0" />
<rect x="332.42" y="402.60" width="2.10" height="8.35" fill="#bfbfc0" />
<rect x="335.75" y="402.60" width="2.10" height="8.35" fill="#bfbfc0" />
<rect x="339.09" y="402.60" width="2.10" height="8.35" fill="#bfbfc0" />
<rect x="342.42" y="402.60" width="2.10" height="8.35" fill="#bfbfc0" />
<rect x="345.75" y="402.60" width="2.10" height="8.35" fill="#bfbfc0" />
<rect x="349.08" y="402.60" width="2.10" height="8.35" fill="#bfbfc0" />
<rect x="352.41" y="402.60" width="2.10" height="8.35" fill="#bfbfc0" />
<rect x="355.75" y="402.60" width="2.10" height="8.35" fill="#bfbfc0" />
<rect x="359.08" y="402.60" width="2.10" height="8.35" fill="#bfbfc0" />
<rect x="362.41" y="402.60" width="2.10" height="8.35" fill="#bfbfc0" />
<rect x="365.74" y="402.60" width="2.10" height="8.35" fill="#bfbfc0" />
<rect x="369.07" y="402.60" width="2.10" height="8.35" fill="#bfbfc0" />
<rect x="372.41" y="402.60" width="2.10" height="8.35" fill="#bfbfc0" />
<rect x="375.74" y="402.60" width="2.10" height="8.35" fill="#bfbfc0" />
<rect x="309.10" y="405.10" width="2.10" height="3.10" fill="#1b6a2a" />
<text x="92.80" y="421.01" font-size="7.45" text-anchor="end" font-weight="normal" fill="#2b2b2b" stroke="#2b2b2b" stroke-width="0.22" >DNMT3A</text>
<rect x="278.49" y="416.61" width="3.33" height="4.75" fill="#98ee98" />
<rect x="95.85" y="414.81" width="2.10" height="8.35" fill="#bfbfc0" />
<rect x="99.18" y="414.81" width="2.10" height="8.35" fill="#bfbfc0" />
<rect x="102.51" y="414.81" width="2.10" height="8.35" fill="#bfbfc0" />
<rect x="105.85" y="414.81" width="2.10" height="8.35" fill="#bfbfc0" />
<rect x="109.18" y="414.81" width="2.10" height="8.35" fill="#bfbfc0" />
<rect x="112.51" y="414.81" width="2.10" height="8.35" fill="#bfbfc0" />
<rect x="115.84" y="414.81" width="2.10" height="8.35" fill="#bfbfc0" />
<rect x="119.17" y="414.81" width="2.10" height="8.35" fill="#bfbfc0" />
<rect x="122.51" y="414.81" width="2.10" height="8.35" fill="#bfbfc0" />
<rect x="125.84" y="414.81" width="2.10" height="8.35" fill="#bfbfc0" />
<rect x="129.17" y="414.81" width="2.10" height="8.35" fill="#bfbfc0" />
<rect x="132.50" y="414.81" width="2.10" height="8.35" fill="#bfbfc0" />
<rect x="135.83" y="414.81" width="2.10" height="8.35" fill="#bfbfc0" />
<rect x="139.17" y="414.81" width="2.10" height="8.35" fill="#bfbfc0" />
<rect x="142.50" y="414.81" width="2.10" height="8.35" fill="#bfbfc0" />
<rect x="145.83" y="414.81" width="2.10" height="8.35" fill="#bfbfc0" />
<rect x="149.16" y="414.81" width="2.10" height="8.35" fill="#bfbfc0" />
<rect x="152.49" y="414.81" width="2.10" height="8.35" fill="#bfbfc0" />
<rect x="155.83" y="414.81" width="2.10" height="8.35" fill="#bfbfc0" />
<rect x="159.16" y="414.81" width="2.10" height="8.35" fill="#bfbfc0" />
<rect x="162.49" y="414.81" width="2.10" height="8.35" fill="#bfbfc0" />
<rect x="165.82" y="414.81" width="2.10" height="8.35" fill="#bfbfc0" />
<rect x="169.15" y="414.81" width="2.10" height="8.35" fill="#bfbfc0" />
<rect x="172.49" y="414.81" width="2.10" height="8.35" fill="#bfbfc0" />
<rect x="175.82" y="414.81" width="2.10" height="8.35" fill="#bfbfc0" />
<rect x="179.15" y="414.81" width="2.10" height="8.35" fill="#bfbfc0" />
<rect x="182.48" y="414.81" width="2.10" height="8.35" fill="#bfbfc0" />
<rect x="185.81" y="414.81" width="2.10" height="8.35" fill="#bfbfc0" />
<rect x="189.15" y="414.81" width="2.10" height="8.35" fill="#bfbfc0" />
<rect x="192.48" y="414.81" width="2.10" height="8.35" fill="#bfbfc0" />
<rect x="195.81" y="414.81" width="2.10" height="8.35" fill="#bfbfc0" />
<rect x="199.14" y="414.81" width="2.10" height="8.35" fill="#bfbfc0" />
<rect x="202.47" y="414.81" width="2.10" height="8.35" fill="#bfbfc0" />
<rect x="205.81" y="414.81" width="2.10" height="8.35" fill="#bfbfc0" />
<rect x="209.14" y="414.81" width="2.10" height="8.35" fill="#bfbfc0" />
<rect x="212.47" y="414.81" width="2.10" height="8.35" fill="#bfbfc0" />
<rect x="215.80" y="414.81" width="2.10" height="8.35" fill="#bfbfc0" />
<rect x="219.13" y="414.81" width="2.10" height="8.35" fill="#bfbfc0" />
<rect x="222.47" y="414.81" width="2.10" height="8.35" fill="#bfbfc0" />
<rect x="225.80" y="414.81" width="2.10" height="8.35" fill="#bfbfc0" />
<rect x="229.13" y="414.81" width="2.10" height="8.35" fill="#bfbfc0" />
<rect x="232.46" y="414.81" width="2.10" height="8.35" fill="#bfbfc0" />
<rect x="235.79" y="414.81" width="2.10" height="8.35" fill="#bfbfc0" />
<rect x="239.13" y="414.81" width="2.10" height="8.35" fill="#bfbfc0" />
<rect x="242.46" y="414.81" width="2.10" height="8.35" fill="#bfbfc0" />
<rect x="245.79" y="414.81" width="2.10" height="8.35" fill="#bfbfc0" />
<rect x="249.12" y="414.81" width="2.10" height="8.35" fill="#bfbfc0" />
<rect x="252.45" y="414.81" width="2.10" height="8.35" fill="#bfbfc0" />
<rect x="255.79" y="414.81" width="2.10" height="8.35" fill="#bfbfc0" />
<rect x="259.12" y="414.81" width="2.10" height="8.35" fill="#bfbfc0" />
<rect x="262.45" y="414.81" width="2.10" height="8.35" fill="#bfbfc0" />
<rect x="265.78" y="414.81" width="2.10" height="8.35" fill="#bfbfc0" />
<rect x="269.11" y="414.81" width="2.10" height="8.35" fill="#bfbfc0" />
<rect x="272.45" y="414.81" width="2.10" height="8.35" fill="#bfbfc0" />
<rect x="275.78" y="414.81" width="2.10" height="8.35" fill="#bfbfc0" />
<rect x="279.11" y="414.81" width="2.10" height="8.35" fill="#bfbfc0" />
<rect x="282.44" y="414.81" width="2.10" height="8.35" fill="#bfbfc0" />
<rect x="285.77" y="414.81" width="2.10" height="8.35" fill="#bfbfc0" />
<rect x="289.11" y="414.81" width="2.10" height="8.35" fill="#bfbfc0" />
<rect x="292.44" y="414.81" width="2.10" height="8.35" fill="#bfbfc0" />
<rect x="295.77" y="414.81" width="2.10" height="8.35" fill="#bfbfc0" />
<rect x="299.10" y="414.81" width="2.10" height="8.35" fill="#bfbfc0" />
<rect x="302.43" y="414.81" width="2.10" height="8.35" fill="#bfbfc0" />
<rect x="305.77" y="414.81" width="2.10" height="8.35" fill="#bfbfc0" />
<rect x="309.10" y="414.81" width="2.10" height="8.35" fill="#bfbfc0" />
<rect x="312.43" y="414.81" width="2.10" height="8.35" fill="#bfbfc0" />
<rect x="315.76" y="414.81" width="2.10" height="8.35" fill="#bfbfc0" />
<rect x="319.09" y="414.81" width="2.10" height="8.35" fill="#bfbfc0" />
<rect x="322.43" y="414.81" width="2.10" height="8.35" fill="#bfbfc0" />
<rect x="325.76" y="414.81" width="2.10" height="8.35" fill="#bfbfc0" />
<rect x="329.09" y="414.81" width="2.10" height="8.35" fill="#bfbfc0" />
<rect x="332.42" y="414.81" width="2.10" height="8.35" fill="#bfbfc0" />
<rect x="335.75" y="414.81" width="2.10" height="8.35" fill="#bfbfc0" />
<rect x="339.09" y="414.81" width="2.10" height="8.35" fill="#bfbfc0" />
<rect x="342.42" y="414.81" width="2.10" height="8.35" fill="#bfbfc0" />
<rect x="345.75" y="414.81" width="2.10" height="8.35" fill="#bfbfc0" />
<rect x="349.08" y="414.81" width="2.10" height="8.35" fill="#bfbfc0" />
<rect x="352.41" y="414.81" width="2.10" height="8.35" fill="#bfbfc0" />
<rect x="355.75" y="414.81" width="2.10" height="8.35" fill="#bfbfc0" />
<rect x="359.08" y="414.81" width="2.10" height="8.35" fill="#bfbfc0" />
<rect x="362.41" y="414.81" width="2.10" height="8.35" fill="#bfbfc0" />
<rect x="365.74" y="414.81" width="2.10" height="8.35" fill="#bfbfc0" />
<rect x="369.07" y="414.81" width="2.10" height="8.35" fill="#bfbfc0" />
<rect x="372.41" y="414.81" width="2.10" height="8.35" fill="#bfbfc0" />
<rect x="375.74" y="414.81" width="2.10" height="8.35" fill="#bfbfc0" />
<rect x="279.11" y="417.31" width="2.10" height="3.10" fill="#1b6a2a" />
<text x="92.80" y="433.22" font-size="7.45" text-anchor="end" font-weight="normal" fill="#2b2b2b" stroke="#2b2b2b" stroke-width="0.22" >ETV6</text>
<rect x="95.85" y="427.02" width="2.10" height="8.35" fill="#bfbfc0" />
<rect x="99.18" y="427.02" width="2.10" height="8.35" fill="#bfbfc0" />
<rect x="102.51" y="427.02" width="2.10" height="8.35" fill="#bfbfc0" />
<rect x="105.85" y="427.02" width="2.10" height="8.35" fill="#bfbfc0" />
<rect x="109.18" y="427.02" width="2.10" height="8.35" fill="#bfbfc0" />
<rect x="112.51" y="427.02" width="2.10" height="8.35" fill="#bfbfc0" />
<rect x="115.84" y="427.02" width="2.10" height="8.35" fill="#bfbfc0" />
<rect x="119.17" y="427.02" width="2.10" height="8.35" fill="#bfbfc0" />
<rect x="122.51" y="427.02" width="2.10" height="8.35" fill="#bfbfc0" />
<rect x="125.84" y="427.02" width="2.10" height="8.35" fill="#bfbfc0" />
<rect x="129.17" y="427.02" width="2.10" height="8.35" fill="#bfbfc0" />
<rect x="132.50" y="427.02" width="2.10" height="8.35" fill="#bfbfc0" />
<rect x="135.83" y="427.02" width="2.10" height="8.35" fill="#bfbfc0" />
<rect x="139.17" y="427.02" width="2.10" height="8.35" fill="#bfbfc0" />
<rect x="142.50" y="427.02" width="2.10" height="8.35" fill="#bfbfc0" />
<rect x="145.83" y="427.02" width="2.10" height="8.35" fill="#bfbfc0" />
<rect x="149.16" y="427.02" width="2.10" height="8.35" fill="#bfbfc0" />
<rect x="152.49" y="427.02" width="2.10" height="8.35" fill="#bfbfc0" />
<rect x="155.83" y="427.02" width="2.10" height="8.35" fill="#bfbfc0" />
<rect x="159.16" y="427.02" width="2.10" height="8.35" fill="#bfbfc0" />
<rect x="162.49" y="427.02" width="2.10" height="8.35" fill="#bfbfc0" />
<rect x="165.82" y="427.02" width="2.10" height="8.35" fill="#bfbfc0" />
<rect x="169.15" y="427.02" width="2.10" height="8.35" fill="#bfbfc0" />
<rect x="172.49" y="427.02" width="2.10" height="8.35" fill="#bfbfc0" />
<rect x="175.82" y="427.02" width="2.10" height="8.35" fill="#bfbfc0" />
<rect x="179.15" y="427.02" width="2.10" height="8.35" fill="#bfbfc0" />
<rect x="182.48" y="427.02" width="2.10" height="8.35" fill="#bfbfc0" />
<rect x="185.81" y="427.02" width="2.10" height="8.35" fill="#bfbfc0" />
<rect x="189.15" y="427.02" width="2.10" height="8.35" fill="#bfbfc0" />
<rect x="192.48" y="427.02" width="2.10" height="8.35" fill="#bfbfc0" />
<rect x="195.81" y="427.02" width="2.10" height="8.35" fill="#bfbfc0" />
<rect x="199.14" y="427.02" width="2.10" height="8.35" fill="#bfbfc0" />
<rect x="202.47" y="427.02" width="2.10" height="8.35" fill="#bfbfc0" />
<rect x="205.81" y="427.02" width="2.10" height="8.35" fill="#bfbfc0" />
<rect x="209.14" y="427.02" width="2.10" height="8.35" fill="#bfbfc0" />
<rect x="212.47" y="427.02" width="2.10" height="8.35" fill="#bfbfc0" />
<rect x="215.80" y="427.02" width="2.10" height="8.35" fill="#bfbfc0" />
<rect x="219.13" y="427.02" width="2.10" height="8.35" fill="#bfbfc0" />
<rect x="222.47" y="427.02" width="2.10" height="8.35" fill="#bfbfc0" />
<rect x="225.80" y="427.02" width="2.10" height="8.35" fill="#bfbfc0" />
<rect x="229.13" y="427.02" width="2.10" height="8.35" fill="#bfbfc0" />
<rect x="232.46" y="427.02" width="2.10" height="8.35" fill="#bfbfc0" />
<rect x="235.79" y="427.02" width="2.10" height="8.35" fill="#bfbfc0" />
<rect x="239.13" y="427.02" width="2.10" height="8.35" fill="#bfbfc0" />
<rect x="242.46" y="427.02" width="2.10" height="8.35" fill="#bfbfc0" />
<rect x="245.79" y="427.02" width="2.10" height="8.35" fill="#bfbfc0" />
<rect x="249.12" y="427.02" width="2.10" height="8.35" fill="#bfbfc0" />
<rect x="252.45" y="427.02" width="2.10" height="8.35" fill="#bfbfc0" />
<rect x="255.79" y="427.02" width="2.10" height="8.35" fill="#bfbfc0" />
<rect x="259.12" y="427.02" width="2.10" height="8.35" fill="#bfbfc0" />
<rect x="262.45" y="427.02" width="2.10" height="8.35" fill="#bfbfc0" />
<rect x="265.78" y="427.02" width="2.10" height="8.35" fill="#bfbfc0" />
<rect x="269.11" y="427.02" width="2.10" height="8.35" fill="#bfbfc0" />
<rect x="272.45" y="427.02" width="2.10" height="8.35" fill="#bfbfc0" />
<rect x="275.78" y="427.02" width="2.10" height="8.35" fill="#bfbfc0" />
<rect x="279.11" y="427.02" width="2.10" height="8.35" fill="#bfbfc0" />
<rect x="282.44" y="427.02" width="2.10" height="8.35" fill="#bfbfc0" />
<rect x="285.77" y="427.02" width="2.10" height="8.35" fill="#bfbfc0" />
<rect x="289.11" y="427.02" width="2.10" height="8.35" fill="#bfbfc0" />
<rect x="292.44" y="427.02" width="2.10" height="8.35" fill="#bfbfc0" />
<rect x="295.77" y="427.02" width="2.10" height="8.35" fill="#bfbfc0" />
<rect x="299.10" y="427.02" width="2.10" height="8.35" fill="#bfbfc0" />
<rect x="302.43" y="427.02" width="2.10" height="8.35" fill="#bfbfc0" />
<rect x="305.77" y="427.02" width="2.10" height="8.35" fill="#bfbfc0" />
<rect x="309.10" y="427.02" width="2.10" height="8.35" fill="#bfbfc0" />
<rect x="312.43" y="427.02" width="2.10" height="8.35" fill="#bfbfc0" />
<rect x="315.76" y="427.02" width="2.10" height="8.35" fill="#bfbfc0" />
<rect x="319.09" y="427.02" width="2.10" height="8.35" fill="#bfbfc0" />
<rect x="322.43" y="427.02" width="2.10" height="8.35" fill="#bfbfc0" />
<rect x="325.76" y="427.02" width="2.10" height="8.35" fill="#bfbfc0" />
<rect x="329.09" y="427.02" width="2.10" height="8.35" fill="#bfbfc0" />
<rect x="332.42" y="427.02" width="2.10" height="8.35" fill="#bfbfc0" />
<rect x="335.75" y="427.02" width="2.10" height="8.35" fill="#bfbfc0" />
<rect x="339.09" y="427.02" width="2.10" height="8.35" fill="#bfbfc0" />
<rect x="342.42" y="427.02" width="2.10" height="8.35" fill="#bfbfc0" />
<rect x="345.75" y="427.02" width="2.10" height="8.35" fill="#bfbfc0" />
<rect x="349.08" y="427.02" width="2.10" height="8.35" fill="#bfbfc0" />
<rect x="352.41" y="427.02" width="2.10" height="8.35" fill="#bfbfc0" />
<rect x="355.75" y="427.02" width="2.10" height="8.35" fill="#bfbfc0" />
<rect x="359.08" y="427.02" width="2.10" height="8.35" fill="#bfbfc0" />
<rect x="362.41" y="427.02" width="2.10" height="8.35" fill="#bfbfc0" />
<rect x="365.74" y="427.02" width="2.10" height="8.35" fill="#bfbfc0" />
<rect x="369.07" y="427.02" width="2.10" height="8.35" fill="#bfbfc0" />
<rect x="372.41" y="427.02" width="2.10" height="8.35" fill="#bfbfc0" />
<rect x="375.74" y="427.02" width="2.10" height="8.35" fill="#bfbfc0" />
<text x="92.80" y="445.43" font-size="7.45" text-anchor="end" font-weight="normal" fill="#2b2b2b" stroke="#2b2b2b" stroke-width="0.22" >NPM1</text>
<rect x="318.48" y="441.03" width="3.33" height="4.75" fill="#e8c8a8" />
<rect x="95.85" y="439.23" width="2.10" height="8.35" fill="#bfbfc0" />
<rect x="99.18" y="439.23" width="2.10" height="8.35" fill="#bfbfc0" />
<rect x="102.51" y="439.23" width="2.10" height="8.35" fill="#bfbfc0" />
<rect x="105.85" y="439.23" width="2.10" height="8.35" fill="#bfbfc0" />
<rect x="109.18" y="439.23" width="2.10" height="8.35" fill="#bfbfc0" />
<rect x="112.51" y="439.23" width="2.10" height="8.35" fill="#bfbfc0" />
<rect x="115.84" y="439.23" width="2.10" height="8.35" fill="#bfbfc0" />
<rect x="119.17" y="439.23" width="2.10" height="8.35" fill="#bfbfc0" />
<rect x="122.51" y="439.23" width="2.10" height="8.35" fill="#bfbfc0" />
<rect x="125.84" y="439.23" width="2.10" height="8.35" fill="#bfbfc0" />
<rect x="129.17" y="439.23" width="2.10" height="8.35" fill="#bfbfc0" />
<rect x="132.50" y="439.23" width="2.10" height="8.35" fill="#bfbfc0" />
<rect x="135.83" y="439.23" width="2.10" height="8.35" fill="#bfbfc0" />
<rect x="139.17" y="439.23" width="2.10" height="8.35" fill="#bfbfc0" />
<rect x="142.50" y="439.23" width="2.10" height="8.35" fill="#bfbfc0" />
<rect x="145.83" y="439.23" width="2.10" height="8.35" fill="#bfbfc0" />
<rect x="149.16" y="439.23" width="2.10" height="8.35" fill="#bfbfc0" />
<rect x="152.49" y="439.23" width="2.10" height="8.35" fill="#bfbfc0" />
<rect x="155.83" y="439.23" width="2.10" height="8.35" fill="#bfbfc0" />
<rect x="159.16" y="439.23" width="2.10" height="8.35" fill="#bfbfc0" />
<rect x="162.49" y="439.23" width="2.10" height="8.35" fill="#bfbfc0" />
<rect x="165.82" y="439.23" width="2.10" height="8.35" fill="#bfbfc0" />
<rect x="169.15" y="439.23" width="2.10" height="8.35" fill="#bfbfc0" />
<rect x="172.49" y="439.23" width="2.10" height="8.35" fill="#bfbfc0" />
<rect x="175.82" y="439.23" width="2.10" height="8.35" fill="#bfbfc0" />
<rect x="179.15" y="439.23" width="2.10" height="8.35" fill="#bfbfc0" />
<rect x="182.48" y="439.23" width="2.10" height="8.35" fill="#bfbfc0" />
<rect x="185.81" y="439.23" width="2.10" height="8.35" fill="#bfbfc0" />
<rect x="189.15" y="439.23" width="2.10" height="8.35" fill="#bfbfc0" />
<rect x="192.48" y="439.23" width="2.10" height="8.35" fill="#bfbfc0" />
<rect x="195.81" y="439.23" width="2.10" height="8.35" fill="#bfbfc0" />
<rect x="199.14" y="439.23" width="2.10" height="8.35" fill="#bfbfc0" />
<rect x="202.47" y="439.23" width="2.10" height="8.35" fill="#bfbfc0" />
<rect x="205.81" y="439.23" width="2.10" height="8.35" fill="#bfbfc0" />
<rect x="209.14" y="439.23" width="2.10" height="8.35" fill="#bfbfc0" />
<rect x="212.47" y="439.23" width="2.10" height="8.35" fill="#bfbfc0" />
<rect x="215.80" y="439.23" width="2.10" height="8.35" fill="#bfbfc0" />
<rect x="219.13" y="439.23" width="2.10" height="8.35" fill="#bfbfc0" />
<rect x="222.47" y="439.23" width="2.10" height="8.35" fill="#bfbfc0" />
<rect x="225.80" y="439.23" width="2.10" height="8.35" fill="#bfbfc0" />
<rect x="229.13" y="439.23" width="2.10" height="8.35" fill="#bfbfc0" />
<rect x="232.46" y="439.23" width="2.10" height="8.35" fill="#bfbfc0" />
<rect x="235.79" y="439.23" width="2.10" height="8.35" fill="#bfbfc0" />
<rect x="239.13" y="439.23" width="2.10" height="8.35" fill="#bfbfc0" />
<rect x="242.46" y="439.23" width="2.10" height="8.35" fill="#bfbfc0" />
<rect x="245.79" y="439.23" width="2.10" height="8.35" fill="#bfbfc0" />
<rect x="249.12" y="439.23" width="2.10" height="8.35" fill="#bfbfc0" />
<rect x="252.45" y="439.23" width="2.10" height="8.35" fill="#bfbfc0" />
<rect x="255.79" y="439.23" width="2.10" height="8.35" fill="#bfbfc0" />
<rect x="259.12" y="439.23" width="2.10" height="8.35" fill="#bfbfc0" />
<rect x="262.45" y="439.23" width="2.10" height="8.35" fill="#bfbfc0" />
<rect x="265.78" y="439.23" width="2.10" height="8.35" fill="#bfbfc0" />
<rect x="269.11" y="439.23" width="2.10" height="8.35" fill="#bfbfc0" />
<rect x="272.45" y="439.23" width="2.10" height="8.35" fill="#bfbfc0" />
<rect x="275.78" y="439.23" width="2.10" height="8.35" fill="#bfbfc0" />
<rect x="279.11" y="439.23" width="2.10" height="8.35" fill="#bfbfc0" />
<rect x="282.44" y="439.23" width="2.10" height="8.35" fill="#bfbfc0" />
<rect x="285.77" y="439.23" width="2.10" height="8.35" fill="#bfbfc0" />
<rect x="289.11" y="439.23" width="2.10" height="8.35" fill="#bfbfc0" />
<rect x="292.44" y="439.23" width="2.10" height="8.35" fill="#bfbfc0" />
<rect x="295.77" y="439.23" width="2.10" height="8.35" fill="#bfbfc0" />
<rect x="299.10" y="439.23" width="2.10" height="8.35" fill="#bfbfc0" />
<rect x="302.43" y="439.23" width="2.10" height="8.35" fill="#bfbfc0" />
<rect x="305.77" y="439.23" width="2.10" height="8.35" fill="#bfbfc0" />
<rect x="309.10" y="439.23" width="2.10" height="8.35" fill="#bfbfc0" />
<rect x="312.43" y="439.23" width="2.10" height="8.35" fill="#bfbfc0" />
<rect x="315.76" y="439.23" width="2.10" height="8.35" fill="#bfbfc0" />
<rect x="319.09" y="439.23" width="2.10" height="8.35" fill="#bfbfc0" />
<rect x="322.43" y="439.23" width="2.10" height="8.35" fill="#bfbfc0" />
<rect x="325.76" y="439.23" width="2.10" height="8.35" fill="#bfbfc0" />
<rect x="329.09" y="439.23" width="2.10" height="8.35" fill="#bfbfc0" />
<rect x="332.42" y="439.23" width="2.10" height="8.35" fill="#bfbfc0" />
<rect x="335.75" y="439.23" width="2.10" height="8.35" fill="#bfbfc0" />
<rect x="339.09" y="439.23" width="2.10" height="8.35" fill="#bfbfc0" />
<rect x="342.42" y="439.23" width="2.10" height="8.35" fill="#bfbfc0" />
<rect x="345.75" y="439.23" width="2.10" height="8.35" fill="#bfbfc0" />
<rect x="349.08" y="439.23" width="2.10" height="8.35" fill="#bfbfc0" />
<rect x="352.41" y="439.23" width="2.10" height="8.35" fill="#bfbfc0" />
<rect x="355.75" y="439.23" width="2.10" height="8.35" fill="#bfbfc0" />
<rect x="359.08" y="439.23" width="2.10" height="8.35" fill="#bfbfc0" />
<rect x="362.41" y="439.23" width="2.10" height="8.35" fill="#bfbfc0" />
<rect x="365.74" y="439.23" width="2.10" height="8.35" fill="#bfbfc0" />
<rect x="369.07" y="439.23" width="2.10" height="8.35" fill="#bfbfc0" />
<rect x="372.41" y="439.23" width="2.10" height="8.35" fill="#bfbfc0" />
<rect x="375.74" y="439.23" width="2.10" height="8.35" fill="#bfbfc0" />
<rect x="319.09" y="441.73" width="2.10" height="3.10" fill="#2a1a12" />
<text x="92.80" y="457.64" font-size="7.45" text-anchor="end" font-weight="normal" fill="#2b2b2b" stroke="#2b2b2b" stroke-width="0.22" >RAF1</text>
<rect x="165.21" y="453.24" width="3.33" height="4.75" fill="#98ee98" />
<rect x="181.87" y="453.24" width="3.33" height="4.75" fill="#98ee98" />
<rect x="95.85" y="451.44" width="2.10" height="8.35" fill="#bfbfc0" />
<rect x="99.18" y="451.44" width="2.10" height="8.35" fill="#bfbfc0" />
<rect x="102.51" y="451.44" width="2.10" height="8.35" fill="#bfbfc0" />
<rect x="105.85" y="451.44" width="2.10" height="8.35" fill="#bfbfc0" />
<rect x="109.18" y="451.44" width="2.10" height="8.35" fill="#bfbfc0" />
<rect x="112.51" y="451.44" width="2.10" height="8.35" fill="#bfbfc0" />
<rect x="115.84" y="451.44" width="2.10" height="8.35" fill="#bfbfc0" />
<rect x="119.17" y="451.44" width="2.10" height="8.35" fill="#bfbfc0" />
<rect x="122.51" y="451.44" width="2.10" height="8.35" fill="#bfbfc0" />
<rect x="125.84" y="451.44" width="2.10" height="8.35" fill="#bfbfc0" />
<rect x="129.17" y="451.44" width="2.10" height="8.35" fill="#bfbfc0" />
<rect x="132.50" y="451.44" width="2.10" height="8.35" fill="#bfbfc0" />
<rect x="135.83" y="451.44" width="2.10" height="8.35" fill="#bfbfc0" />
<rect x="139.17" y="451.44" width="2.10" height="8.35" fill="#bfbfc0" />
<rect x="142.50" y="451.44" width="2.10" height="8.35" fill="#bfbfc0" />
<rect x="145.83" y="451.44" width="2.10" height="8.35" fill="#bfbfc0" />
<rect x="149.16" y="451.44" width="2.10" height="8.35" fill="#bfbfc0" />
<rect x="152.49" y="451.44" width="2.10" height="8.35" fill="#bfbfc0" />
<rect x="155.83" y="451.44" width="2.10" height="8.35" fill="#bfbfc0" />
<rect x="159.16" y="451.44" width="2.10" height="8.35" fill="#bfbfc0" />
<rect x="162.49" y="451.44" width="2.10" height="8.35" fill="#bfbfc0" />
<rect x="165.82" y="451.44" width="2.10" height="8.35" fill="#bfbfc0" />
<rect x="169.15" y="451.44" width="2.10" height="8.35" fill="#bfbfc0" />
<rect x="172.49" y="451.44" width="2.10" height="8.35" fill="#bfbfc0" />
<rect x="175.82" y="451.44" width="2.10" height="8.35" fill="#bfbfc0" />
<rect x="179.15" y="451.44" width="2.10" height="8.35" fill="#bfbfc0" />
<rect x="182.48" y="451.44" width="2.10" height="8.35" fill="#bfbfc0" />
<rect x="185.81" y="451.44" width="2.10" height="8.35" fill="#bfbfc0" />
<rect x="189.15" y="451.44" width="2.10" height="8.35" fill="#bfbfc0" />
<rect x="192.48" y="451.44" width="2.10" height="8.35" fill="#bfbfc0" />
<rect x="195.81" y="451.44" width="2.10" height="8.35" fill="#bfbfc0" />
<rect x="199.14" y="451.44" width="2.10" height="8.35" fill="#bfbfc0" />
<rect x="202.47" y="451.44" width="2.10" height="8.35" fill="#bfbfc0" />
<rect x="205.81" y="451.44" width="2.10" height="8.35" fill="#bfbfc0" />
<rect x="209.14" y="451.44" width="2.10" height="8.35" fill="#bfbfc0" />
<rect x="212.47" y="451.44" width="2.10" height="8.35" fill="#bfbfc0" />
<rect x="215.80" y="451.44" width="2.10" height="8.35" fill="#bfbfc0" />
<rect x="219.13" y="451.44" width="2.10" height="8.35" fill="#bfbfc0" />
<rect x="222.47" y="451.44" width="2.10" height="8.35" fill="#bfbfc0" />
<rect x="225.80" y="451.44" width="2.10" height="8.35" fill="#bfbfc0" />
<rect x="229.13" y="451.44" width="2.10" height="8.35" fill="#bfbfc0" />
<rect x="232.46" y="451.44" width="2.10" height="8.35" fill="#bfbfc0" />
<rect x="235.79" y="451.44" width="2.10" height="8.35" fill="#bfbfc0" />
<rect x="239.13" y="451.44" width="2.10" height="8.35" fill="#bfbfc0" />
<rect x="242.46" y="451.44" width="2.10" height="8.35" fill="#bfbfc0" />
<rect x="245.79" y="451.44" width="2.10" height="8.35" fill="#bfbfc0" />
<rect x="249.12" y="451.44" width="2.10" height="8.35" fill="#bfbfc0" />
<rect x="252.45" y="451.44" width="2.10" height="8.35" fill="#bfbfc0" />
<rect x="255.79" y="451.44" width="2.10" height="8.35" fill="#bfbfc0" />
<rect x="259.12" y="451.44" width="2.10" height="8.35" fill="#bfbfc0" />
<rect x="262.45" y="451.44" width="2.10" height="8.35" fill="#bfbfc0" />
<rect x="265.78" y="451.44" width="2.10" height="8.35" fill="#bfbfc0" />
<rect x="269.11" y="451.44" width="2.10" height="8.35" fill="#bfbfc0" />
<rect x="272.45" y="451.44" width="2.10" height="8.35" fill="#bfbfc0" />
<rect x="275.78" y="451.44" width="2.10" height="8.35" fill="#bfbfc0" />
<rect x="279.11" y="451.44" width="2.10" height="8.35" fill="#bfbfc0" />
<rect x="282.44" y="451.44" width="2.10" height="8.35" fill="#bfbfc0" />
<rect x="285.77" y="451.44" width="2.10" height="8.35" fill="#bfbfc0" />
<rect x="289.11" y="451.44" width="2.10" height="8.35" fill="#bfbfc0" />
<rect x="292.44" y="451.44" width="2.10" height="8.35" fill="#bfbfc0" />
<rect x="295.77" y="451.44" width="2.10" height="8.35" fill="#bfbfc0" />
<rect x="299.10" y="451.44" width="2.10" height="8.35" fill="#bfbfc0" />
<rect x="302.43" y="451.44" width="2.10" height="8.35" fill="#bfbfc0" />
<rect x="305.77" y="451.44" width="2.10" height="8.35" fill="#bfbfc0" />
<rect x="309.10" y="451.44" width="2.10" height="8.35" fill="#bfbfc0" />
<rect x="312.43" y="451.44" width="2.10" height="8.35" fill="#bfbfc0" />
<rect x="315.76" y="451.44" width="2.10" height="8.35" fill="#bfbfc0" />
<rect x="319.09" y="451.44" width="2.10" height="8.35" fill="#bfbfc0" />
<rect x="322.43" y="451.44" width="2.10" height="8.35" fill="#bfbfc0" />
<rect x="325.76" y="451.44" width="2.10" height="8.35" fill="#bfbfc0" />
<rect x="329.09" y="451.44" width="2.10" height="8.35" fill="#bfbfc0" />
<rect x="332.42" y="451.44" width="2.10" height="8.35" fill="#bfbfc0" />
<rect x="335.75" y="451.44" width="2.10" height="8.35" fill="#bfbfc0" />
<rect x="339.09" y="451.44" width="2.10" height="8.35" fill="#bfbfc0" />
<rect x="342.42" y="451.44" width="2.10" height="8.35" fill="#bfbfc0" />
<rect x="345.75" y="451.44" width="2.10" height="8.35" fill="#bfbfc0" />
<rect x="349.08" y="451.44" width="2.10" height="8.35" fill="#bfbfc0" />
<rect x="352.41" y="451.44" width="2.10" height="8.35" fill="#bfbfc0" />
<rect x="355.75" y="451.44" width="2.10" height="8.35" fill="#bfbfc0" />
<rect x="359.08" y="451.44" width="2.10" height="8.35" fill="#bfbfc0" />
<rect x="362.41" y="451.44" width="2.10" height="8.35" fill="#bfbfc0" />
<rect x="365.74" y="451.44" width="2.10" height="8.35" fill="#bfbfc0" />
<rect x="369.07" y="451.44" width="2.10" height="8.35" fill="#bfbfc0" />
<rect x="372.41" y="451.44" width="2.10" height="8.35" fill="#bfbfc0" />
<rect x="375.74" y="451.44" width="2.10" height="8.35" fill="#bfbfc0" />
<rect x="165.82" y="453.94" width="2.10" height="3.10" fill="#1b6a2a" />
<rect x="182.48" y="453.94" width="2.10" height="3.10" fill="#1b6a2a" />
<text x="92.80" y="469.85" font-size="7.45" text-anchor="end" font-weight="normal" fill="#2b2b2b" stroke="#2b2b2b" stroke-width="0.22" >SF3B1</text>
<rect x="95.85" y="463.65" width="2.10" height="8.35" fill="#bfbfc0" />
<rect x="99.18" y="463.65" width="2.10" height="8.35" fill="#bfbfc0" />
<rect x="102.51" y="463.65" width="2.10" height="8.35" fill="#bfbfc0" />
<rect x="105.85" y="463.65" width="2.10" height="8.35" fill="#bfbfc0" />
<rect x="109.18" y="463.65" width="2.10" height="8.35" fill="#bfbfc0" />
<rect x="112.51" y="463.65" width="2.10" height="8.35" fill="#bfbfc0" />
<rect x="115.84" y="463.65" width="2.10" height="8.35" fill="#bfbfc0" />
<rect x="119.17" y="463.65" width="2.10" height="8.35" fill="#bfbfc0" />
<rect x="122.51" y="463.65" width="2.10" height="8.35" fill="#bfbfc0" />
<rect x="125.84" y="463.65" width="2.10" height="8.35" fill="#bfbfc0" />
<rect x="129.17" y="463.65" width="2.10" height="8.35" fill="#bfbfc0" />
<rect x="132.50" y="463.65" width="2.10" height="8.35" fill="#bfbfc0" />
<rect x="135.83" y="463.65" width="2.10" height="8.35" fill="#bfbfc0" />
<rect x="139.17" y="463.65" width="2.10" height="8.35" fill="#bfbfc0" />
<rect x="142.50" y="463.65" width="2.10" height="8.35" fill="#bfbfc0" />
<rect x="145.83" y="463.65" width="2.10" height="8.35" fill="#bfbfc0" />
<rect x="149.16" y="463.65" width="2.10" height="8.35" fill="#bfbfc0" />
<rect x="152.49" y="463.65" width="2.10" height="8.35" fill="#bfbfc0" />
<rect x="155.83" y="463.65" width="2.10" height="8.35" fill="#bfbfc0" />
<rect x="159.16" y="463.65" width="2.10" height="8.35" fill="#bfbfc0" />
<rect x="162.49" y="463.65" width="2.10" height="8.35" fill="#bfbfc0" />
<rect x="165.82" y="463.65" width="2.10" height="8.35" fill="#bfbfc0" />
<rect x="169.15" y="463.65" width="2.10" height="8.35" fill="#bfbfc0" />
<rect x="172.49" y="463.65" width="2.10" height="8.35" fill="#bfbfc0" />
<rect x="175.82" y="463.65" width="2.10" height="8.35" fill="#bfbfc0" />
<rect x="179.15" y="463.65" width="2.10" height="8.35" fill="#bfbfc0" />
<rect x="182.48" y="463.65" width="2.10" height="8.35" fill="#bfbfc0" />
<rect x="185.81" y="463.65" width="2.10" height="8.35" fill="#bfbfc0" />
<rect x="189.15" y="463.65" width="2.10" height="8.35" fill="#bfbfc0" />
<rect x="192.48" y="463.65" width="2.10" height="8.35" fill="#bfbfc0" />
<rect x="195.81" y="463.65" width="2.10" height="8.35" fill="#bfbfc0" />
<rect x="199.14" y="463.65" width="2.10" height="8.35" fill="#bfbfc0" />
<rect x="202.47" y="463.65" width="2.10" height="8.35" fill="#bfbfc0" />
<rect x="205.81" y="463.65" width="2.10" height="8.35" fill="#bfbfc0" />
<rect x="209.14" y="463.65" width="2.10" height="8.35" fill="#bfbfc0" />
<rect x="212.47" y="463.65" width="2.10" height="8.35" fill="#bfbfc0" />
<rect x="215.80" y="463.65" width="2.10" height="8.35" fill="#bfbfc0" />
<rect x="219.13" y="463.65" width="2.10" height="8.35" fill="#bfbfc0" />
<rect x="222.47" y="463.65" width="2.10" height="8.35" fill="#bfbfc0" />
<rect x="225.80" y="463.65" width="2.10" height="8.35" fill="#bfbfc0" />
<rect x="229.13" y="463.65" width="2.10" height="8.35" fill="#bfbfc0" />
<rect x="232.46" y="463.65" width="2.10" height="8.35" fill="#bfbfc0" />
<rect x="235.79" y="463.65" width="2.10" height="8.35" fill="#bfbfc0" />
<rect x="239.13" y="463.65" width="2.10" height="8.35" fill="#bfbfc0" />
<rect x="242.46" y="463.65" width="2.10" height="8.35" fill="#bfbfc0" />
<rect x="245.79" y="463.65" width="2.10" height="8.35" fill="#bfbfc0" />
<rect x="249.12" y="463.65" width="2.10" height="8.35" fill="#bfbfc0" />
<rect x="252.45" y="463.65" width="2.10" height="8.35" fill="#bfbfc0" />
<rect x="255.79" y="463.65" width="2.10" height="8.35" fill="#bfbfc0" />
<rect x="259.12" y="463.65" width="2.10" height="8.35" fill="#bfbfc0" />
<rect x="262.45" y="463.65" width="2.10" height="8.35" fill="#bfbfc0" />
<rect x="265.78" y="463.65" width="2.10" height="8.35" fill="#bfbfc0" />
<rect x="269.11" y="463.65" width="2.10" height="8.35" fill="#bfbfc0" />
<rect x="272.45" y="463.65" width="2.10" height="8.35" fill="#bfbfc0" />
<rect x="275.78" y="463.65" width="2.10" height="8.35" fill="#bfbfc0" />
<rect x="279.11" y="463.65" width="2.10" height="8.35" fill="#bfbfc0" />
<rect x="282.44" y="463.65" width="2.10" height="8.35" fill="#bfbfc0" />
<rect x="285.77" y="463.65" width="2.10" height="8.35" fill="#bfbfc0" />
<rect x="289.11" y="463.65" width="2.10" height="8.35" fill="#bfbfc0" />
<rect x="292.44" y="463.65" width="2.10" height="8.35" fill="#bfbfc0" />
<rect x="295.77" y="463.65" width="2.10" height="8.35" fill="#bfbfc0" />
<rect x="299.10" y="463.65" width="2.10" height="8.35" fill="#bfbfc0" />
<rect x="302.43" y="463.65" width="2.10" height="8.35" fill="#bfbfc0" />
<rect x="305.77" y="463.65" width="2.10" height="8.35" fill="#bfbfc0" />
<rect x="309.10" y="463.65" width="2.10" height="8.35" fill="#bfbfc0" />
<rect x="312.43" y="463.65" width="2.10" height="8.35" fill="#bfbfc0" />
<rect x="315.76" y="463.65" width="2.10" height="8.35" fill="#bfbfc0" />
<rect x="319.09" y="463.65" width="2.10" height="8.35" fill="#bfbfc0" />
<rect x="322.43" y="463.65" width="2.10" height="8.35" fill="#bfbfc0" />
<rect x="325.76" y="463.65" width="2.10" height="8.35" fill="#bfbfc0" />
<rect x="329.09" y="463.65" width="2.10" height="8.35" fill="#bfbfc0" />
<rect x="332.42" y="463.65" width="2.10" height="8.35" fill="#bfbfc0" />
<rect x="335.75" y="463.65" width="2.10" height="8.35" fill="#bfbfc0" />
<rect x="339.09" y="463.65" width="2.10" height="8.35" fill="#bfbfc0" />
<rect x="342.42" y="463.65" width="2.10" height="8.35" fill="#bfbfc0" />
<rect x="345.75" y="463.65" width="2.10" height="8.35" fill="#bfbfc0" />
<rect x="349.08" y="463.65" width="2.10" height="8.35" fill="#bfbfc0" />
<rect x="352.41" y="463.65" width="2.10" height="8.35" fill="#bfbfc0" />
<rect x="355.75" y="463.65" width="2.10" height="8.35" fill="#bfbfc0" />
<rect x="359.08" y="463.65" width="2.10" height="8.35" fill="#bfbfc0" />
<rect x="362.41" y="463.65" width="2.10" height="8.35" fill="#bfbfc0" />
<rect x="365.74" y="463.65" width="2.10" height="8.35" fill="#bfbfc0" />
<rect x="369.07" y="463.65" width="2.10" height="8.35" fill="#bfbfc0" />
<rect x="372.41" y="463.65" width="2.10" height="8.35" fill="#bfbfc0" />
<rect x="375.74" y="463.65" width="2.10" height="8.35" fill="#bfbfc0" />
<text x="92.80" y="482.06" font-size="7.45" text-anchor="end" font-weight="normal" fill="#2b2b2b" stroke="#2b2b2b" stroke-width="0.22" >SRSF2</text>
<rect x="235.18" y="477.66" width="3.33" height="4.75" fill="#98ee98" />
<rect x="278.49" y="477.66" width="3.33" height="4.75" fill="#98ee98" />
<rect x="95.85" y="475.86" width="2.10" height="8.35" fill="#bfbfc0" />
<rect x="99.18" y="475.86" width="2.10" height="8.35" fill="#bfbfc0" />
<rect x="102.51" y="475.86" width="2.10" height="8.35" fill="#bfbfc0" />
<rect x="105.85" y="475.86" width="2.10" height="8.35" fill="#bfbfc0" />
<rect x="109.18" y="475.86" width="2.10" height="8.35" fill="#bfbfc0" />
<rect x="112.51" y="475.86" width="2.10" height="8.35" fill="#bfbfc0" />
<rect x="115.84" y="475.86" width="2.10" height="8.35" fill="#bfbfc0" />
<rect x="119.17" y="475.86" width="2.10" height="8.35" fill="#bfbfc0" />
<rect x="122.51" y="475.86" width="2.10" height="8.35" fill="#bfbfc0" />
<rect x="125.84" y="475.86" width="2.10" height="8.35" fill="#bfbfc0" />
<rect x="129.17" y="475.86" width="2.10" height="8.35" fill="#bfbfc0" />
<rect x="132.50" y="475.86" width="2.10" height="8.35" fill="#bfbfc0" />
<rect x="135.83" y="475.86" width="2.10" height="8.35" fill="#bfbfc0" />
<rect x="139.17" y="475.86" width="2.10" height="8.35" fill="#bfbfc0" />
<rect x="142.50" y="475.86" width="2.10" height="8.35" fill="#bfbfc0" />
<rect x="145.83" y="475.86" width="2.10" height="8.35" fill="#bfbfc0" />
<rect x="149.16" y="475.86" width="2.10" height="8.35" fill="#bfbfc0" />
<rect x="152.49" y="475.86" width="2.10" height="8.35" fill="#bfbfc0" />
<rect x="155.83" y="475.86" width="2.10" height="8.35" fill="#bfbfc0" />
<rect x="159.16" y="475.86" width="2.10" height="8.35" fill="#bfbfc0" />
<rect x="162.49" y="475.86" width="2.10" height="8.35" fill="#bfbfc0" />
<rect x="165.82" y="475.86" width="2.10" height="8.35" fill="#bfbfc0" />
<rect x="169.15" y="475.86" width="2.10" height="8.35" fill="#bfbfc0" />
<rect x="172.49" y="475.86" width="2.10" height="8.35" fill="#bfbfc0" />
<rect x="175.82" y="475.86" width="2.10" height="8.35" fill="#bfbfc0" />
<rect x="179.15" y="475.86" width="2.10" height="8.35" fill="#bfbfc0" />
<rect x="182.48" y="475.86" width="2.10" height="8.35" fill="#bfbfc0" />
<rect x="185.81" y="475.86" width="2.10" height="8.35" fill="#bfbfc0" />
<rect x="189.15" y="475.86" width="2.10" height="8.35" fill="#bfbfc0" />
<rect x="192.48" y="475.86" width="2.10" height="8.35" fill="#bfbfc0" />
<rect x="195.81" y="475.86" width="2.10" height="8.35" fill="#bfbfc0" />
<rect x="199.14" y="475.86" width="2.10" height="8.35" fill="#bfbfc0" />
<rect x="202.47" y="475.86" width="2.10" height="8.35" fill="#bfbfc0" />
<rect x="205.81" y="475.86" width="2.10" height="8.35" fill="#bfbfc0" />
<rect x="209.14" y="475.86" width="2.10" height="8.35" fill="#bfbfc0" />
<rect x="212.47" y="475.86" width="2.10" height="8.35" fill="#bfbfc0" />
<rect x="215.80" y="475.86" width="2.10" height="8.35" fill="#bfbfc0" />
<rect x="219.13" y="475.86" width="2.10" height="8.35" fill="#bfbfc0" />
<rect x="222.47" y="475.86" width="2.10" height="8.35" fill="#bfbfc0" />
<rect x="225.80" y="475.86" width="2.10" height="8.35" fill="#bfbfc0" />
<rect x="229.13" y="475.86" width="2.10" height="8.35" fill="#bfbfc0" />
<rect x="232.46" y="475.86" width="2.10" height="8.35" fill="#bfbfc0" />
<rect x="235.79" y="475.86" width="2.10" height="8.35" fill="#bfbfc0" />
<rect x="239.13" y="475.86" width="2.10" height="8.35" fill="#bfbfc0" />
<rect x="242.46" y="475.86" width="2.10" height="8.35" fill="#bfbfc0" />
<rect x="245.79" y="475.86" width="2.10" height="8.35" fill="#bfbfc0" />
<rect x="249.12" y="475.86" width="2.10" height="8.35" fill="#bfbfc0" />
<rect x="252.45" y="475.86" width="2.10" height="8.35" fill="#bfbfc0" />
<rect x="255.79" y="475.86" width="2.10" height="8.35" fill="#bfbfc0" />
<rect x="259.12" y="475.86" width="2.10" height="8.35" fill="#bfbfc0" />
<rect x="262.45" y="475.86" width="2.10" height="8.35" fill="#bfbfc0" />
<rect x="265.78" y="475.86" width="2.10" height="8.35" fill="#bfbfc0" />
<rect x="269.11" y="475.86" width="2.10" height="8.35" fill="#bfbfc0" />
<rect x="272.45" y="475.86" width="2.10" height="8.35" fill="#bfbfc0" />
<rect x="275.78" y="475.86" width="2.10" height="8.35" fill="#bfbfc0" />
<rect x="279.11" y="475.86" width="2.10" height="8.35" fill="#bfbfc0" />
<rect x="282.44" y="475.86" width="2.10" height="8.35" fill="#bfbfc0" />
<rect x="285.77" y="475.86" width="2.10" height="8.35" fill="#bfbfc0" />
<rect x="289.11" y="475.86" width="2.10" height="8.35" fill="#bfbfc0" />
<rect x="292.44" y="475.86" width="2.10" height="8.35" fill="#bfbfc0" />
<rect x="295.77" y="475.86" width="2.10" height="8.35" fill="#bfbfc0" />
<rect x="299.10" y="475.86" width="2.10" height="8.35" fill="#bfbfc0" />
<rect x="302.43" y="475.86" width="2.10" height="8.35" fill="#bfbfc0" />
<rect x="305.77" y="475.86" width="2.10" height="8.35" fill="#bfbfc0" />
<rect x="309.10" y="475.86" width="2.10" height="8.35" fill="#bfbfc0" />
<rect x="312.43" y="475.86" width="2.10" height="8.35" fill="#bfbfc0" />
<rect x="315.76" y="475.86" width="2.10" height="8.35" fill="#bfbfc0" />
<rect x="319.09" y="475.86" width="2.10" height="8.35" fill="#bfbfc0" />
<rect x="322.43" y="475.86" width="2.10" height="8.35" fill="#bfbfc0" />
<rect x="325.76" y="475.86" width="2.10" height="8.35" fill="#bfbfc0" />
<rect x="329.09" y="475.86" width="2.10" height="8.35" fill="#bfbfc0" />
<rect x="332.42" y="475.86" width="2.10" height="8.35" fill="#bfbfc0" />
<rect x="335.75" y="475.86" width="2.10" height="8.35" fill="#bfbfc0" />
<rect x="339.09" y="475.86" width="2.10" height="8.35" fill="#bfbfc0" />
<rect x="342.42" y="475.86" width="2.10" height="8.35" fill="#bfbfc0" />
<rect x="345.75" y="475.86" width="2.10" height="8.35" fill="#bfbfc0" />
<rect x="349.08" y="475.86" width="2.10" height="8.35" fill="#bfbfc0" />
<rect x="352.41" y="475.86" width="2.10" height="8.35" fill="#bfbfc0" />
<rect x="355.75" y="475.86" width="2.10" height="8.35" fill="#bfbfc0" />
<rect x="359.08" y="475.86" width="2.10" height="8.35" fill="#bfbfc0" />
<rect x="362.41" y="475.86" width="2.10" height="8.35" fill="#bfbfc0" />
<rect x="365.74" y="475.86" width="2.10" height="8.35" fill="#bfbfc0" />
<rect x="369.07" y="475.86" width="2.10" height="8.35" fill="#bfbfc0" />
<rect x="372.41" y="475.86" width="2.10" height="8.35" fill="#bfbfc0" />
<rect x="375.74" y="475.86" width="2.10" height="8.35" fill="#bfbfc0" />
<rect x="235.79" y="478.36" width="2.10" height="3.10" fill="#1b6a2a" />
<rect x="279.11" y="478.36" width="2.10" height="3.10" fill="#1b6a2a" />
<text x="92.80" y="222.30" font-size="7.3" text-anchor="end" font-weight="normal" fill="#2b2b2b" stroke="#2b2b2b" stroke-width="0.22" >Gender</text>
<text x="92.80" y="234.60" font-size="7.3" text-anchor="end" font-weight="normal" fill="#2b2b2b" stroke="#2b2b2b" stroke-width="0.22" >Age at diagnosis</text>
<text x="92.80" y="246.90" font-size="7.3" text-anchor="end" font-weight="normal" fill="#2b2b2b" stroke="#2b2b2b" stroke-width="0.22" >Extent of disease</text>
<text x="92.80" y="259.20" font-size="7.3" text-anchor="end" font-weight="normal" fill="#2b2b2b" stroke="#2b2b2b" stroke-width="0.22" >Type of histiocytosis</text>
<text x="92.80" y="271.50" font-size="7.3" text-anchor="end" font-weight="normal" fill="#2b2b2b" stroke="#2b2b2b" stroke-width="0.22" >Subtype of histiocytosis</text>
<rect x="384.20" y="215.70" width="2.20" height="8.10" fill="#bf186a" />
<text x="389.90" y="222.00" font-size="6.9" text-anchor="start" font-weight="normal" fill="#2b2b2b" stroke="#2b2b2b" stroke-width="0.22" >F</text>
<rect x="399.90" y="215.70" width="2.20" height="8.10" fill="#2b9dd2" />
<text x="404.40" y="222.00" font-size="6.9" text-anchor="start" font-weight="normal" fill="#2b2b2b" stroke="#2b2b2b" stroke-width="0.22" >M</text>
<text x="384.90" y="235.40" font-size="6.9" text-anchor="start" font-weight="normal" fill="#2b2b2b" stroke="#2b2b2b" stroke-width="0.22" >1</text>
<path d="M389.4,235.8 L404.6,235.8 L404.6,228.6 Z" fill="#34a443"/>
<text x="406.40" y="235.40" font-size="6.9" text-anchor="start" font-weight="normal" fill="#2b2b2b" stroke="#2b2b2b" stroke-width="0.22" >87</text>
<rect x="384.20" y="240.40" width="2.20" height="8.10" fill="#b3132f" />
<text x="389.60" y="246.70" font-size="6.9" text-anchor="start" font-weight="normal" fill="#2b2b2b" stroke="#2b2b2b" stroke-width="0.22" >disseminated</text>
<rect x="446.30" y="240.40" width="2.20" height="8.10" fill="#173f78" />
<text x="451.40" y="246.70" font-size="6.9" text-anchor="start" font-weight="normal" fill="#2b2b2b" stroke="#2b2b2b" stroke-width="0.22" >localized</text>
<rect x="384.20" y="252.40" width="2.20" height="8.10" fill="#173f78" />
<text x="389.60" y="258.70" font-size="6.9" text-anchor="start" font-weight="normal" fill="#2b2b2b" stroke="#2b2b2b" stroke-width="0.22" >primary</text>
<rect x="446.30" y="252.40" width="2.20" height="8.10" fill="#b3132f" />
<text x="451.40" y="258.70" font-size="6.9" text-anchor="start" font-weight="normal" fill="#2b2b2b" stroke="#2b2b2b" stroke-width="0.22" >secondary</text>
<rect x="384.20" y="264.50" width="2.20" height="8.10" fill="#3aa845" />
<text x="389.60" y="270.80" font-size="6.9" text-anchor="start" font-weight="normal" fill="#2b2b2b" stroke="#2b2b2b" stroke-width="0.22" >histiocytic</text>
<rect x="446.30" y="264.50" width="2.20" height="8.10" fill="#173f78" />
<text x="451.40" y="270.80" font-size="6.9" text-anchor="start" font-weight="normal" fill="#2b2b2b" stroke="#2b2b2b" stroke-width="0.22" >interdigitating DC</text>
<rect x="384.20" y="276.40" width="2.20" height="8.10" fill="#f2982a" />
<text x="389.60" y="282.70" font-size="6.9" text-anchor="start" font-weight="normal" fill="#2b2b2b" stroke="#2b2b2b" stroke-width="0.22" >langerhans cell</text>
<rect x="446.30" y="276.40" width="2.20" height="8.10" fill="#4a1f6b" />
<text x="451.40" y="282.70" font-size="6.9" text-anchor="start" font-weight="normal" fill="#2b2b2b" stroke="#2b2b2b" stroke-width="0.22" >biphenotypic</text>
<rect x="384.20" y="288.30" width="2.20" height="8.10" fill="#b3132f" />
<text x="389.60" y="294.60" font-size="6.9" text-anchor="start" font-weight="normal" fill="#2b2b2b" stroke="#2b2b2b" stroke-width="0.22" >indeterminate DC</text>
<text x="389.60" y="305.50" font-size="6.9" text-anchor="start" font-weight="normal" fill="#2b2b2b" stroke="#2b2b2b" stroke-width="0.22" >data not available</text>
<rect x="383.60" y="324.00" width="3.40" height="4.80" fill="#98ee98" />
<rect x="384.20" y="322.40" width="2.20" height="8.00" fill="#bfbfc0" />
<rect x="384.20" y="324.90" width="2.20" height="3.00" fill="#1b6a2a" />
<text x="389.60" y="328.60" font-size="6.9" text-anchor="start" font-weight="normal" fill="#2b2b2b" stroke="#2b2b2b" stroke-width="0.22" >missense mutation (putative driver)</text>
<rect x="383.60" y="335.60" width="3.40" height="4.80" fill="#e8c8a8" />
<rect x="384.20" y="334.00" width="2.20" height="8.00" fill="#bfbfc0" />
<rect x="384.20" y="336.50" width="2.20" height="3.00" fill="#2a1a12" />
<text x="389.60" y="340.20" font-size="6.9" text-anchor="start" font-weight="normal" fill="#2b2b2b" stroke="#2b2b2b" stroke-width="0.22" >truncating mutation (putative driver)</text>
<rect x="383.60" y="347.20" width="3.40" height="4.80" fill="#f5a0c8" />
<rect x="384.20" y="345.60" width="2.20" height="8.00" fill="#bfbfc0" />
<rect x="384.20" y="348.10" width="2.20" height="3.00" fill="#b0105e" />
<text x="389.60" y="351.80" font-size="6.9" text-anchor="start" font-weight="normal" fill="#2b2b2b" stroke="#2b2b2b" stroke-width="0.22" >other mutation (putative driver)</text>
<rect x="384.20" y="357.20" width="2.20" height="8.00" fill="#c8c8a8" />
<rect x="384.20" y="359.70" width="2.20" height="3.00" fill="#a8a878" />
<text x="389.60" y="363.40" font-size="6.9" text-anchor="start" font-weight="normal" fill="#2b2b2b" stroke="#2b2b2b" stroke-width="0.22" >missense mutation</text>
<rect x="384.20" y="368.80" width="2.20" height="8.00" fill="#bfbfc0" />
<rect x="384.20" y="371.30" width="2.20" height="3.00" fill="#1c2a40" />
<text x="389.60" y="375.00" font-size="6.9" text-anchor="start" font-weight="normal" fill="#2b2b2b" stroke="#2b2b2b" stroke-width="0.22" >truncating mutation</text>
<rect x="384.20" y="380.40" width="2.20" height="8.00" fill="#d4c4ca" />
<rect x="384.20" y="382.90" width="2.20" height="3.00" fill="#e2a6be" />
<text x="389.60" y="386.60" font-size="6.9" text-anchor="start" font-weight="normal" fill="#2b2b2b" stroke="#2b2b2b" stroke-width="0.22" >other mutation</text>
<rect x="384.20" y="392.00" width="2.20" height="8.00" fill="#bfbfc0" />
<text x="389.60" y="398.20" font-size="6.9" text-anchor="start" font-weight="normal" fill="#2b2b2b" stroke="#2b2b2b" stroke-width="0.22" >no alterations</text>
<g fill="#555"><rect x="0" y="0" width="520" height="1"/><rect x="0" y="0" width="1" height="491"/><rect x="519" y="0" width="1" height="491"/><rect x="0" y="490" width="520" height="1"/></g>
</svg>
</body></html>
